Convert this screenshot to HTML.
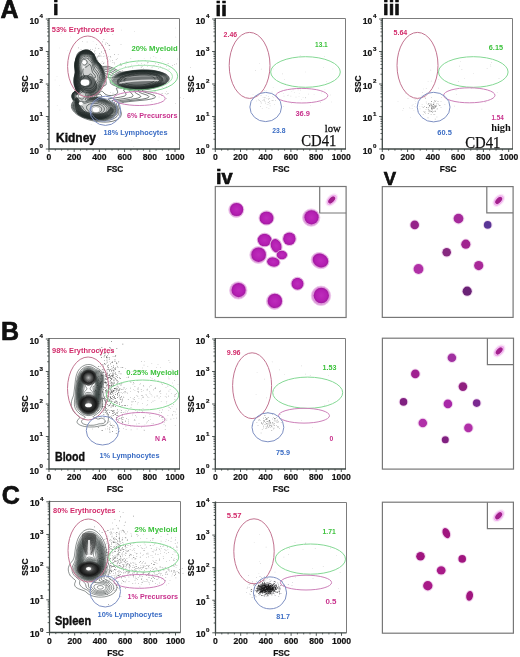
<!DOCTYPE html>
<html><head><meta charset="utf-8"><style>
html,body{margin:0;padding:0;background:#fff;}
svg{display:block;}
</style></head><body>
<svg width="520" height="657" viewBox="0 0 520 657">
<defs><radialGradient id="gIV" cx="0.5" cy="0.5" r="0.5"><stop offset="0" stop-color="#be2cbc"/><stop offset="0.7" stop-color="#b41fb2"/><stop offset="1" stop-color="#a01a9e"/></radialGradient>
<filter id="bl1" x="-50%" y="-50%" width="200%" height="200%"><feGaussianBlur stdDeviation="1.2"/></filter>
<radialGradient id="gCore" cx="0.5" cy="0.5" r="0.5"><stop offset="0" stop-color="#bbb" stop-opacity="0.8"/><stop offset="0.35" stop-color="#555" stop-opacity="0.8"/><stop offset="0.65" stop-color="#111" stop-opacity="0.9"/><stop offset="0.85" stop-color="#222" stop-opacity="0.7"/><stop offset="1" stop-color="#333" stop-opacity="0"/></radialGradient>
<radialGradient id="gCore2" cx="0.5" cy="0.5" r="0.5"><stop offset="0" stop-color="#888" stop-opacity="0.8"/><stop offset="0.35" stop-color="#333" stop-opacity="0.85"/><stop offset="0.7" stop-color="#111" stop-opacity="0.92"/><stop offset="0.88" stop-color="#222" stop-opacity="0.6"/><stop offset="1" stop-color="#333" stop-opacity="0"/></radialGradient></defs>
<rect width="520" height="657" fill="#fff"/>
<g style="filter:blur(0.3px)">
<text x="0.40" y="17.90" font-family="'Liberation Sans', sans-serif" font-size="25" font-weight="bold" fill="#111" text-anchor="start" stroke="#000" stroke-width="0.6">A</text>
<text x="1.00" y="339.90" font-family="'Liberation Sans', sans-serif" font-size="25" font-weight="bold" fill="#111" text-anchor="start" stroke="#000" stroke-width="0.6">B</text>
<text x="1.80" y="504.30" font-family="'Liberation Sans', sans-serif" font-size="25" font-weight="bold" fill="#111" text-anchor="start" stroke="#000" stroke-width="0.6">C</text>
<text x="52.90" y="15.20" font-family="'Liberation Sans', sans-serif" font-size="20" font-weight="bold" fill="#111" text-anchor="start" stroke="#000" stroke-width="0.6">i</text>
<text x="215.60" y="15.60" font-family="'Liberation Sans', sans-serif" font-size="20" font-weight="bold" fill="#111" text-anchor="start" stroke="#000" stroke-width="0.6">ii</text>
<text x="383.10" y="15.40" font-family="'Liberation Sans', sans-serif" font-size="20" font-weight="bold" fill="#111" text-anchor="start" stroke="#000" stroke-width="0.6">iii</text>
<text x="215.90" y="184.40" font-family="'Liberation Sans', sans-serif" font-size="20" font-weight="bold" fill="#111" text-anchor="start" stroke="#000" stroke-width="0.6">iv</text>
<text x="383.80" y="184.50" font-family="'Liberation Sans', sans-serif" font-size="18.5" font-weight="bold" fill="#111" text-anchor="start" stroke="#000" stroke-width="0.6">V</text>
<path d="M49.00 18.50 H179.50 V149.00" fill="none" stroke="#7c7c7c" stroke-width="1"/>
<path d="M47.20 139.22H49.00 M47.20 133.49H49.00 M47.20 129.43H49.00 M47.20 126.28H49.00 M47.20 123.71H49.00 M47.20 121.53H49.00 M47.20 119.65H49.00 M47.20 117.99H49.00 M47.20 106.72H49.00 M47.20 100.99H49.00 M47.20 96.93H49.00 M47.20 93.78H49.00 M47.20 91.21H49.00 M47.20 89.03H49.00 M47.20 87.15H49.00 M47.20 85.49H49.00 M47.20 74.22H49.00 M47.20 68.49H49.00 M47.20 64.43H49.00 M47.20 61.28H49.00 M47.20 58.71H49.00 M47.20 56.53H49.00 M47.20 54.65H49.00 M47.20 52.99H49.00 M47.20 41.72H49.00 M47.20 35.99H49.00 M47.20 31.93H49.00 M47.20 28.78H49.00 M47.20 26.21H49.00 M47.20 24.03H49.00 M47.20 22.15H49.00 M47.20 20.49H49.00 M45.80 149.00H49.00 M45.80 116.50H49.00 M45.80 84.00H49.00 M45.80 51.50H49.00 M45.80 19.00H49.00 M49.00 149.00V152.00 M55.30 149.00V150.60 M61.60 149.00V150.60 M67.90 149.00V150.60 M74.20 149.00V152.00 M80.50 149.00V150.60 M86.80 149.00V150.60 M93.10 149.00V150.60 M99.40 149.00V152.00 M105.70 149.00V150.60 M112.00 149.00V150.60 M118.30 149.00V150.60 M124.60 149.00V152.00 M130.90 149.00V150.60 M137.20 149.00V150.60 M143.50 149.00V150.60 M149.80 149.00V152.00 M156.10 149.00V150.60 M162.40 149.00V150.60 M168.70 149.00V150.60 M175.00 149.00V152.00" stroke="#3f4846" stroke-width="0.9" fill="none"/>
<path d="M49.00 18.00 V149.00 H180.00" fill="none" stroke="#3f4846" stroke-width="1.3"/>
<text x="39.10" y="153.60" font-family="'Liberation Sans', sans-serif" font-size="8.6" font-weight="bold" fill="#111" text-anchor="end" stroke="#111" stroke-width="0.2">10</text>
<text x="39.60" y="148.20" font-family="'Liberation Sans', sans-serif" font-size="6.2" font-weight="bold" fill="#111" text-anchor="start" stroke="#111" stroke-width="0.2">0</text>
<text x="39.10" y="121.10" font-family="'Liberation Sans', sans-serif" font-size="8.6" font-weight="bold" fill="#111" text-anchor="end" stroke="#111" stroke-width="0.2">10</text>
<text x="39.60" y="115.70" font-family="'Liberation Sans', sans-serif" font-size="6.2" font-weight="bold" fill="#111" text-anchor="start" stroke="#111" stroke-width="0.2">1</text>
<text x="39.10" y="88.60" font-family="'Liberation Sans', sans-serif" font-size="8.6" font-weight="bold" fill="#111" text-anchor="end" stroke="#111" stroke-width="0.2">10</text>
<text x="39.60" y="83.20" font-family="'Liberation Sans', sans-serif" font-size="6.2" font-weight="bold" fill="#111" text-anchor="start" stroke="#111" stroke-width="0.2">2</text>
<text x="39.10" y="56.10" font-family="'Liberation Sans', sans-serif" font-size="8.6" font-weight="bold" fill="#111" text-anchor="end" stroke="#111" stroke-width="0.2">10</text>
<text x="39.60" y="50.70" font-family="'Liberation Sans', sans-serif" font-size="6.2" font-weight="bold" fill="#111" text-anchor="start" stroke="#111" stroke-width="0.2">3</text>
<text x="39.10" y="23.60" font-family="'Liberation Sans', sans-serif" font-size="8.6" font-weight="bold" fill="#111" text-anchor="end" stroke="#111" stroke-width="0.2">10</text>
<text x="39.60" y="18.20" font-family="'Liberation Sans', sans-serif" font-size="6.2" font-weight="bold" fill="#111" text-anchor="start" stroke="#111" stroke-width="0.2">4</text>
<text x="49.00" y="160.40" font-family="'Liberation Sans', sans-serif" font-size="8.6" font-weight="bold" fill="#111" text-anchor="middle" stroke="#111" stroke-width="0.2">0</text>
<text x="74.20" y="160.40" font-family="'Liberation Sans', sans-serif" font-size="8.6" font-weight="bold" fill="#111" text-anchor="middle" stroke="#111" stroke-width="0.2">200</text>
<text x="99.40" y="160.40" font-family="'Liberation Sans', sans-serif" font-size="8.6" font-weight="bold" fill="#111" text-anchor="middle" stroke="#111" stroke-width="0.2">400</text>
<text x="124.60" y="160.40" font-family="'Liberation Sans', sans-serif" font-size="8.6" font-weight="bold" fill="#111" text-anchor="middle" stroke="#111" stroke-width="0.2">600</text>
<text x="149.80" y="160.40" font-family="'Liberation Sans', sans-serif" font-size="8.6" font-weight="bold" fill="#111" text-anchor="middle" stroke="#111" stroke-width="0.2">800</text>
<text x="175.00" y="160.40" font-family="'Liberation Sans', sans-serif" font-size="8.6" font-weight="bold" fill="#111" text-anchor="middle" stroke="#111" stroke-width="0.2">1000</text>
<text x="115.00" y="172.00" font-family="'Liberation Sans', sans-serif" font-size="8.4" font-weight="bold" fill="#111" text-anchor="middle" stroke="#111" stroke-width="0.2">FSC</text>
<text transform="translate(27.70,84.00) rotate(-90)" font-family="'Liberation Sans', sans-serif" font-size="8.4" font-weight="bold" fill="#111" text-anchor="middle" stroke="#111" stroke-width="0.2">SSC</text>
<path d="M92.8 40.9h0.6v0.6h-0.6zM134.0 31.1h0.6v0.6h-0.6zM119.5 67.7h0.6v0.6h-0.6zM59.3 85.4h0.6v0.6h-0.6zM56.7 76.2h0.6v0.6h-0.6zM60.8 33.3h0.6v0.6h-0.6zM105.5 125.4h0.6v0.6h-0.6zM67.6 49.9h0.6v0.6h-0.6zM131.1 140.5h0.6v0.6h-0.6zM124.7 71.6h0.6v0.6h-0.6zM175.0 27.8h0.6v0.6h-0.6zM160.2 58.2h0.6v0.6h-0.6zM70.2 36.7h0.6v0.6h-0.6zM90.9 124.0h0.6v0.6h-0.6zM74.8 94.7h0.6v0.6h-0.6zM132.5 68.5h0.6v0.6h-0.6zM121.0 29.8h0.6v0.6h-0.6zM59.5 47.7h0.6v0.6h-0.6zM137.7 75.4h0.6v0.6h-0.6zM91.6 95.2h0.6v0.6h-0.6zM109.1 59.5h0.6v0.6h-0.6zM152.1 109.4h0.6v0.6h-0.6zM82.8 93.8h0.6v0.6h-0.6zM118.2 131.4h0.6v0.6h-0.6zM143.9 58.0h0.6v0.6h-0.6zM175.5 36.8h0.6v0.6h-0.6zM104.7 116.6h0.6v0.6h-0.6zM71.2 83.1h0.6v0.6h-0.6zM56.9 105.5h0.6v0.6h-0.6zM148.3 93.6h0.6v0.6h-0.6zM162.3 61.2h0.6v0.6h-0.6zM139.6 96.3h0.6v0.6h-0.6zM125.1 79.0h0.6v0.6h-0.6zM157.8 140.1h0.6v0.6h-0.6zM111.7 105.0h0.6v0.6h-0.6zM59.6 109.7h0.6v0.6h-0.6zM133.5 146.1h0.6v0.6h-0.6zM155.6 57.6h0.6v0.6h-0.6zM100.6 105.6h0.6v0.6h-0.6zM54.8 79.7h0.6v0.6h-0.6z" fill="#999" opacity="0.5"/>
<path d="M98.2 55.0h0.6v0.6h-0.6zM110.3 56.3h0.6v0.6h-0.6zM100.7 55.8h0.6v0.6h-0.6zM81.9 61.0h0.6v0.6h-0.6zM104.6 55.7h0.6v0.6h-0.6zM78.2 47.6h0.6v0.6h-0.6zM103.6 39.3h0.6v0.6h-0.6zM94.3 59.1h0.6v0.6h-0.6zM84.2 63.3h0.6v0.6h-0.6zM101.0 50.9h0.6v0.6h-0.6zM98.9 56.5h0.6v0.6h-0.6zM97.1 60.0h0.6v0.6h-0.6zM90.0 49.1h0.6v0.6h-0.6zM105.4 52.2h0.6v0.6h-0.6zM88.1 58.6h0.6v0.6h-0.6zM109.2 48.9h0.6v0.6h-0.6zM83.6 51.1h0.6v0.6h-0.6zM94.7 49.9h0.6v0.6h-0.6zM108.6 44.8h0.6v0.6h-0.6zM107.3 43.1h0.6v0.6h-0.6zM88.9 56.4h0.6v0.6h-0.6zM106.2 58.0h0.6v0.6h-0.6zM99.1 53.0h0.6v0.6h-0.6zM97.4 56.0h0.6v0.6h-0.6zM94.4 53.9h0.6v0.6h-0.6zM101.2 52.0h0.6v0.6h-0.6zM102.9 56.0h0.6v0.6h-0.6zM114.1 54.3h0.6v0.6h-0.6zM92.2 49.4h0.6v0.6h-0.6zM95.9 58.5h0.6v0.6h-0.6zM93.0 54.7h0.6v0.6h-0.6zM112.5 34.0h0.6v0.6h-0.6zM85.9 53.7h0.6v0.6h-0.6zM99.6 53.7h0.6v0.6h-0.6zM92.1 56.6h0.6v0.6h-0.6zM98.5 48.3h0.6v0.6h-0.6zM117.9 54.5h0.6v0.6h-0.6zM91.0 51.3h0.6v0.6h-0.6zM94.0 51.6h0.6v0.6h-0.6zM71.4 48.6h0.6v0.6h-0.6zM105.1 43.8h0.6v0.6h-0.6zM95.4 58.7h0.6v0.6h-0.6zM103.7 62.4h0.6v0.6h-0.6zM80.7 49.5h0.6v0.6h-0.6zM92.9 56.4h0.6v0.6h-0.6zM105.8 33.2h0.6v0.6h-0.6zM105.8 41.9h0.6v0.6h-0.6zM102.1 41.6h0.6v0.6h-0.6zM97.6 60.4h0.6v0.6h-0.6zM94.7 53.3h0.6v0.6h-0.6zM103.2 53.0h0.6v0.6h-0.6zM95.2 62.7h0.6v0.6h-0.6zM105.4 49.9h0.6v0.6h-0.6zM120.7 44.0h0.6v0.6h-0.6zM104.2 50.1h0.6v0.6h-0.6zM97.2 56.9h0.6v0.6h-0.6zM98.0 56.5h0.6v0.6h-0.6zM82.3 41.4h0.6v0.6h-0.6zM101.5 45.3h0.6v0.6h-0.6zM86.8 41.7h0.6v0.6h-0.6zM107.4 57.2h0.6v0.6h-0.6zM109.3 45.4h0.6v0.6h-0.6zM96.0 44.0h0.6v0.6h-0.6zM102.9 63.1h0.6v0.6h-0.6zM88.0 62.9h0.6v0.6h-0.6zM104.9 50.8h0.6v0.6h-0.6zM78.3 61.8h0.6v0.6h-0.6zM95.1 47.8h0.6v0.6h-0.6zM99.6 54.9h0.6v0.6h-0.6zM109.5 44.9h0.6v0.6h-0.6z" fill="#444" opacity="0.7"/>
<path d="M162.5 68.5h0.6v0.6h-0.6zM168.1 63.5h0.6v0.6h-0.6zM128.6 67.1h0.6v0.6h-0.6zM144.1 64.4h0.6v0.6h-0.6zM167.6 63.2h0.6v0.6h-0.6zM100.7 62.8h0.6v0.6h-0.6zM108.6 66.5h0.6v0.6h-0.6zM147.7 62.2h0.6v0.6h-0.6zM141.8 66.5h0.6v0.6h-0.6zM143.4 68.0h0.6v0.6h-0.6zM140.9 67.1h0.6v0.6h-0.6zM168.8 68.8h0.6v0.6h-0.6zM129.9 66.6h0.6v0.6h-0.6zM108.2 60.7h0.6v0.6h-0.6zM106.7 67.2h0.6v0.6h-0.6zM119.8 64.0h0.6v0.6h-0.6zM138.5 63.9h0.6v0.6h-0.6zM131.4 64.7h0.6v0.6h-0.6zM174.2 64.1h0.6v0.6h-0.6zM151.6 67.0h0.6v0.6h-0.6zM138.4 60.2h0.6v0.6h-0.6zM132.0 67.2h0.6v0.6h-0.6zM112.4 62.2h0.6v0.6h-0.6zM160.1 66.4h0.6v0.6h-0.6zM142.1 66.4h0.6v0.6h-0.6zM145.0 60.5h0.6v0.6h-0.6zM113.8 62.1h0.6v0.6h-0.6zM158.6 62.3h0.6v0.6h-0.6zM125.8 61.7h0.6v0.6h-0.6zM114.4 63.6h0.6v0.6h-0.6zM120.8 65.1h0.6v0.6h-0.6zM99.5 65.0h0.6v0.6h-0.6zM130.5 58.2h0.6v0.6h-0.6zM155.0 63.2h0.6v0.6h-0.6zM101.9 61.4h0.6v0.6h-0.6zM147.2 62.6h0.6v0.6h-0.6zM156.0 66.2h0.6v0.6h-0.6zM154.0 65.0h0.6v0.6h-0.6zM166.0 66.0h0.6v0.6h-0.6zM150.1 57.7h0.6v0.6h-0.6zM158.1 67.9h0.6v0.6h-0.6zM136.7 62.6h0.6v0.6h-0.6zM176.9 58.7h0.6v0.6h-0.6zM150.4 71.3h0.6v0.6h-0.6zM125.3 66.1h0.6v0.6h-0.6zM176.0 63.6h0.6v0.6h-0.6zM152.1 66.7h0.6v0.6h-0.6zM125.7 63.7h0.6v0.6h-0.6zM147.3 66.5h0.6v0.6h-0.6zM141.4 63.4h0.6v0.6h-0.6zM123.7 62.9h0.6v0.6h-0.6zM158.1 64.3h0.6v0.6h-0.6zM126.6 61.5h0.6v0.6h-0.6zM190.0 67.4h0.6v0.6h-0.6zM153.5 56.2h0.6v0.6h-0.6zM153.2 65.4h0.6v0.6h-0.6zM172.3 65.3h0.6v0.6h-0.6zM140.8 65.6h0.6v0.6h-0.6zM107.0 67.1h0.6v0.6h-0.6zM147.8 61.9h0.6v0.6h-0.6z" fill="#555" opacity="0.6"/>
<path d="M175.3 102.9h0.6v0.6h-0.6zM148.0 88.0h0.6v0.6h-0.6zM164.9 93.1h0.6v0.6h-0.6zM158.0 86.2h0.6v0.6h-0.6zM183.2 98.2h0.6v0.6h-0.6zM150.1 83.9h0.6v0.6h-0.6zM179.0 97.9h0.6v0.6h-0.6zM180.2 96.9h0.6v0.6h-0.6zM153.3 93.6h0.6v0.6h-0.6zM140.4 87.5h0.6v0.6h-0.6zM161.4 95.1h0.6v0.6h-0.6zM154.7 91.3h0.6v0.6h-0.6zM166.6 94.3h0.6v0.6h-0.6zM168.4 93.3h0.6v0.6h-0.6zM158.8 96.7h0.6v0.6h-0.6zM162.5 87.0h0.6v0.6h-0.6zM155.7 92.0h0.6v0.6h-0.6zM160.9 92.9h0.6v0.6h-0.6zM162.0 93.1h0.6v0.6h-0.6zM160.7 84.4h0.6v0.6h-0.6zM166.2 98.3h0.6v0.6h-0.6zM166.3 90.9h0.6v0.6h-0.6zM166.5 86.2h0.6v0.6h-0.6zM143.0 92.4h0.6v0.6h-0.6zM152.7 96.4h0.6v0.6h-0.6zM151.2 76.2h0.6v0.6h-0.6zM151.6 101.5h0.6v0.6h-0.6zM158.2 83.8h0.6v0.6h-0.6zM154.4 95.1h0.6v0.6h-0.6zM167.0 93.1h0.6v0.6h-0.6z" fill="#666" opacity="0.6"/>
<path d="M123.9 77.7h0.6v0.6h-0.6zM111.8 76.8h0.6v0.6h-0.6zM125.2 79.8h0.6v0.6h-0.6zM120.2 63.3h0.6v0.6h-0.6zM110.8 77.8h0.6v0.6h-0.6zM109.6 80.6h0.6v0.6h-0.6zM116.8 79.3h0.6v0.6h-0.6zM110.3 92.4h0.6v0.6h-0.6zM121.9 70.3h0.6v0.6h-0.6zM112.7 92.8h0.6v0.6h-0.6zM109.3 79.0h0.6v0.6h-0.6zM119.8 72.1h0.6v0.6h-0.6zM102.7 73.5h0.6v0.6h-0.6zM114.9 81.0h0.6v0.6h-0.6zM118.3 72.2h0.6v0.6h-0.6zM118.8 76.3h0.6v0.6h-0.6zM113.6 72.4h0.6v0.6h-0.6zM110.1 77.5h0.6v0.6h-0.6zM103.6 67.0h0.6v0.6h-0.6zM112.0 60.3h0.6v0.6h-0.6zM108.5 55.9h0.6v0.6h-0.6zM106.5 76.5h0.6v0.6h-0.6zM116.5 71.6h0.6v0.6h-0.6zM110.1 60.7h0.6v0.6h-0.6zM126.6 76.1h0.6v0.6h-0.6zM120.7 64.9h0.6v0.6h-0.6zM110.5 57.4h0.6v0.6h-0.6zM118.2 79.5h0.6v0.6h-0.6zM96.8 71.6h0.6v0.6h-0.6zM117.0 57.9h0.6v0.6h-0.6zM97.4 63.5h0.6v0.6h-0.6zM107.0 60.8h0.6v0.6h-0.6zM112.3 74.0h0.6v0.6h-0.6zM117.1 77.6h0.6v0.6h-0.6zM124.0 81.3h0.6v0.6h-0.6zM101.5 68.0h0.6v0.6h-0.6zM103.5 63.4h0.6v0.6h-0.6zM111.3 72.0h0.6v0.6h-0.6zM115.9 59.3h0.6v0.6h-0.6zM102.1 71.8h0.6v0.6h-0.6z" fill="#444" opacity="0.6"/>
<path d="M84.6 62.9l-.7-.1 -.4-.4 .1-.8 .5-.4 .8 .1 .3 .6 -.1 .6 -.5 .4z M86.6 85.2l-1.2 .1 -1.3-.2 -1-.6 -.7-.9 -.3-1 .1-1 .5-1 .9-.7 1.3-.4 1.2 .1 1.3 .5 1 1 .4 1.3 -.2 1 -.7 1.1 -1.3 .7z M97.1 111.7l-1 .1 -1-.1 -1-.3 -.7-.5 -.5-.5 -.2-.8 .1-.7 .3-.5 .6-.5 .7-.4 1.5-.3 1.5 .2 1.2 .7 .6 1 0 1 -.3 .5 -.5 .5 -1.3 .6z M84.9 64.9l-1 0 -1-.6 -.6-.7 -.3-1 .1-1 .5-1 .8-.7 1-.3 1 .2 .7 .4 .8 .9 .3 1 -.1 1 -.5 .8 -.7 .6 -1 .4z M86.9 86.9l-1.3 0 -1.2-.3 -1-.4 -1-.7 -.8-.9 -.5-1 -.2-1 0-1 .3-1 .5-1 .7-.8 1.8-1.7 .3-.5 -.2-.7 -1.1-2 -.4-1.5 0-1.8 .4-1.5 .4-.7 .5-.5 .8-.4 2.2-.9 1.8-1.9 .7-.2 .8 .4 .6 1.2 1.1 4.8 .3 1.2 .5 .8 2 2.2 .4 1 .2 1 -.2 .5 -.4 .3 -.5 0 -.5-.3 -1-1 -1.3-2.1 -.5-.4 -.5-.1 -.5 0 -.5 .2 -1.4 1.4 -.6 .8 0 .5 .4 .5 2 1.7 .8 1 .5 1.3 .1 1.5 -.5 1.5 -1 1.2 -1.5 .9 -1.5 .4z M97.9 112.9l-1.8 .2 -1.7-.2 -1.7-.5 -1.2-.8 -.9-1 -.4-1 .1-1.2 .6-1 .8-.8 1.2-.6 1.2-.4 1.3-.2 1.5 .1 1.2 .2 1.3 .5 1 .7 .7 .7 .5 1 .1 1 -.2 .8 -.6 1 -.8 .6 -1 .5 -1.2 .4z M88.6 88.9l-1.5-.1 -1.5-.3 -1.5-.6 -1.5-.9 -1-.9 -.8-1 -.6-1.2 -.3-1.3 0-1 .3-1.2 1.3-3 .3-1.3 -.6-5.2 -.4-4.3 -.2-2.7 .2-1.8 .5-1.5 .8-1.2 1.3-.9 1.5-.5 1.5 0 1.5 .6 1.5 1.3 1.7 2.1 .8 1.3 .5 1.3 .8 3.8 .4 1.5 .6 1 1.9 2.2 .9 1.3 .7 1.5 .3 1.2 0 1.3 -.3 1.2 -.6 .8 -1.6 1.7 -1.1 2.9 -.9 1.4 -1 1 -1.2 .7 -1.2 .5 -1.5 .3z M139.6 85.1l-3.5 .1 -3-.2 -2.7-.4 -2.5-.6 -2.1-.9 -1.2-.9 -.4-.6 -.2-.5 .1-1 .5-.9 1-.8 1.8-1 1.9-.8 2.6-.7 2.5-.5 4.9-.5 5.3 0 2.3 .2 2.6 .5 1.8 .5 1.7 .8 1.1 .7 .7 1 .1 .5 0 .6 -.7 1.2 -1.2 1 -2 1 -2.1 .7 -3 .8 -3.2 .5 -3.1 .2z M98.6 113.9l-2.2 .2 -2.5-.3 -2.3-.7 -1.9-1 -1.7-1.5 -1.2-1.7 -.3-1.5 .1-.8 .4-.7 1-1 1.5-.8 1.9-.5 2.5-.3 2.2 .1 2.3 .4 2 .7 1.5 .9 1.5 1.2 .8 1.3 .2 1.2 -.2 1.3 -.8 1.2 -1.3 1 -1.6 .8 -1.9 .5z M81.6 104.3l-.6-.2 -.2-.2 .1-.3 .5-.2 .4 .2 .1 .4 -.3 .3z M89.9 90.6l-1.8 .1 -1.7-.3 -1.5-.6 -1.8-1.1 -1.5-1.3 -1.2-1.5 -.8-1.5 -.4-1.5 -.1-1 .1-1.3 1.2-3.7 .2-1.5 -.1-2.5 -1.1-6.8 0-2 .3-2 .9-2.2 1.3-1.8 .7-.7 1-.6 1.8-.6 1.5 .1 1.2 .5 1.3 .9 1.2 1.5 1.3 2 1.1 2.2 1.8 5.2 .6 .9 1.9 2.1 .9 1.3 .8 1.7 .5 2 .1 1.8 -.4 1.5 -.6 1.1 -1.5 2.1 -1.1 2.8 -.8 1.2 -1.1 1.4 -1.2 1 -1.5 .7 -1.5 .4z M140.6 86.1l-4 .2 -3.7-.2 -3.8-.4 -3-.7 -2.5-.9 -1.9-1.2 -.4-.5 -.5-.8 -.1-.5 .1-.7 .7-1.3 1.1-1 1.7-1 2.3-1 2.4-.7 3.3-.8 3.3-.5 3-.2 3.5-.2 3.3 .1 2.9 .3 2.9 .5 2.6 .8 1.8 .7 1.5 1 .8 1 .2 .5 0 .8 -.5 1.2 -1.3 1.3 -2.1 1.2 -2.6 1 -3.6 1 -3.6 .7 -3.8 .3z M97.1 114.9l-2.7-.2 -2.8-.6 -2.4-1 -2.7-1.5 -1.2-1 -1-1 -.7-1 -1.1-2 -1.9-1.1 -.7-.6 -.4-1 .1-.5 .2-.5 .8-.6 1-.1 .8 .2 1.7 .8 .8 .1 3-.9 2-.5 2.5-.2 2.5 .1 2.7 .4 2.5 .7 2.3 .9 1.8 1.1 1.6 1.5 .6 .7 .5 1 .2 1 -.1 .8 -.2 .7 -.5 .8 -1.4 1.3 -2.3 1.2 -2.7 .7 -2.8 .3z M82.4 99.1l-1 0 -1.6-.7 -1.2-1.1 -.3-.7 -.1-.5 .2-1 .8-1 1.6-1.2 2.1-1.3 .3-.2 .2-.5 -.6-1 -1.9-2.1 -1.2-1.7 -.7-1.5 -.5-1.5 -.1-1.2 .2-1.5 1-4 .2-1.8 -.2-2.5 -.9-5.2 -.1-3 .3-1.8 .6-1.7 .7-1.5 1.1-1.5 1.1-1 1.3-.8 1.4-.4 1.3-.1 1.5 .4 1.2 .7 1 .9 1.2 1.5 4.1 7.8 2.7 3.1 1.5 2.4 .6 1.5 .4 1.5 .2 1.5 0 1.5 -.2 1.5 -.5 1.2 -1.9 3 -1.6 3.5 -1.2 1.8 -1.7 1.5 -1.8 1 -1.5 .4 -3 .4 -.8 .2 -.4 .5 -.8 2.6 -1.3 2.1 -.8 1 -.9 .5z M137.4 86.9l-4-.1 -3.8-.3 -3.3-.6 -2.9-.9 -2-.9 -1.7-1.2 -.8-1.3 -.1-.7 .2-.8 .8-1.2 1.6-1.3 2-1.1 2.5-1 3-.8 3.2-.7 3.5-.5 3.8-.3 3.7-.1 3.5 .2 3.3 .4 3 .5 2.5 .8 2 .9 1.4 1 1 1.2 .2 .8 -.1 .7 -.3 .8 -.6 .7 -1.9 1.5 -3 1.5 -3.5 1.1 -4.2 .9 -4.5 .6 -4.5 .2z M99.9 115.4l-3.8 .1 -3.7-.5 -3.6-1.1 -3.4-1.8 -1.5-1 -1.3-1.2 -1.8-2.8 -1.5-1.7 -.4-.8 -.1-.7 .2-.8 .2-.5 .9-.9 1.3-.5 .7 0 1.5 .5 1 .2 5-1 4-.1 3 .3 3 .6 2.8 1 2.3 1.2 2.3 1.7 1.3 1.8 .4 1 .1 .7 0 1 -.2 .8 -.4 .7 -.7 .8 -.9 .7 -1 .6 -2.5 1 -3.2 .7z M98.1 116.1l-2.2 0 -2-.2 -2-.4 -2.3-.6 -2.2-.9 -1.9-.9 -1.7-1 -1.4-1.1 -1.1-1.1 -.7-1 -1.9-3.3 -.4-1 0-.7 .1-.8 1.2-2 .1-.5 -.1-.2 -.4-.5 -2.2-1.8 -.5-.7 -.3-.8 0-1.2 .7-1.3 1.1-1 3-1.7 .5-.5 .2-.5 -.3-.8 -1.6-2.2 -.9-1.5 -.6-1.5 -.4-1.5 0-1.3 .1-1.5 1-4.2 .2-1.8 -.2-2.2 -1-5.5 0-2 .3-2 .8-2.8 .7-1.2 .9-1.3 .9-1 1-.7 1-.6 1.3-.4 1.7-.1 1.5 .4 1.5 .9 1.5 1.5 .9 1.5 2.9 5.4 1 1.3 2.5 2.8 1.5 2.3 .8 1.7 .6 1.8 .4 1.7 .1 1.5 -.1 1.8 -.5 1.5 -2.1 3.5 -1.5 3.2 -1 1.6 -1.5 1.7 -2 1.4 -1.7 .8 -2.8 .5 -.9 .5 -.5 .8 -1.2 3.2 -.5 1.5 -.1 .8 .2 .2 .3 .2 .7 .1 5-.3 3.8 .1 3.2 .6 3.3 .9 3 1.4 2.5 1.6 1.7 1.9 .6 1 .4 1 0 1.5 -.3 1.3 -.9 1.2 -1.5 1.2 -1.8 .9 -2.2 .8 -2.5 .4 -2.8 .2z M141.4 87.1l-4.8 .2 -4.7-.1 -4.3-.5 -3.7-.8 -3-1.1 -1.2-.7 -1-.7 -.7-.8 -.4-.7 -.1-.8 .1-.7 .6-1.3 1.4-1.2 2.1-1.3 2.7-1.1 3.2-1 3.5-.8 4-.6 3.8-.3 4-.1 3.7 .1 3.5 .4 3.3 .6 2.7 .7 2.3 1 1.6 1.1 1 1.3 .3 .7 0 .8 -.3 .7 -.4 .8 -1.7 1.5 -2.2 1.2 -3.1 1.3 -3.7 1 -4.3 .8 -4.2 .4z M98.6 116.6l-2.5 0 -2.2-.2 -2.3-.5 -2.2-.6 -2.3-.8 -2.2-1 -1.8-1.1 -1.4-1 -1-1 -1-1.3 -.8-1.5 -.9-2.2 -.2-1 0-.8 .2-.7 .7-1.5 0-.8 -.4-.5 -2.1-1.7 -.6-.9 -.3-.9 0-.7 .1-.8 .7-1.2 1-1 3-1.8 .4-.5 .2-.5 -.3-.7 -1.3-2 -.8-1.5 -.6-1.5 -.3-1.8 .1-2.7 .9-4.3 .2-1.7 -.1-2 -1-5.5 0-2.3 .3-2 .4-1.5 .6-1.5 .7-1.2 .9-1.2 1-1.1 1-.8 1-.5 1.2-.5 1.8-.1 1.7 .3 1.8 1.1 1.3 1.3 1 1.5 2.7 5.1 1 1.3 2.7 3 1.7 2.6 .9 1.7 .7 1.8 .4 1.7 .3 1.8 -.1 2 -.5 1.7 -.7 1.3 -1.7 2.5 -1.3 3 -1 1.7 -1.6 1.8 -1.8 1.4 -2 .9 -2.8 .7 -.7 .5 -.5 .7 -.7 1.8 -.3 1.2 0 .8 .4 .5 .8 .2 5-.1 4 .4 3 .7 3 .9 3 1.5 2.5 1.8 1.6 1.8 .6 1 .3 1 .1 1.5 -.4 1.5 -.9 1.3 -1.5 1.3 -2 1 -2.3 .7 -2.7 .5 -2.8 .2z M139.1 87.6l-4.5 .1 -4.5-.3 -4.2-.6 -3.5-.8 -3-1.2 -2-1.4 -.6-.8 -.4-.7 -.1-.8 .1-.7 .4-.8 .5-.7 1.5-1.3 2.1-1.2 2.7-1.2 3.3-1 3.5-.7 4.2-.7 4.3-.4 4.2-.1 4 .2 3.5 .3 3.5 .7 3 .8 2.4 1.1 1.7 1.2 .9 1.3 .2 .7 0 .8 -.3 1 -.6 .7 -1.8 1.6 -3 1.5 -3.5 1.3 -4.2 1 -4.8 .7 -5 .4z M101.6 116.9l-2.5 .2 -2.7-.1 -2.8-.2 -2.5-.5 -2.7-.8 -2.5-1 -2.3-1.1 -1.9-1.3 -2.2-2 -1.2-2 -.8-2.2 -.2-1.5 .2-1.3 .6-1.5 0-.7 -.4-.5 -2.1-1.9 -.6-.9 -.2-.7 -.1-1.5 .3-.8 .4-.7 1.2-1.2 2.8-1.8 .5-.8 -.2-.7 -1.2-2 -.8-1.8 -.5-1.5 -.3-1.7 .1-2.8 1-4.5 .2-1.5 -.1-1.7 -.8-4 -.2-1.8 .1-2.2 .3-2 1-3 1.5-2.5 1.1-1.2 1-.8 1-.6 1.3-.5 2-.2 1.7 .4 1.8 .9 1.5 1.5 1.1 1.7 1.6 3.3 1 1.7 3.6 4 2 3 1 2 .8 2 .4 1.8 .3 1.7 -.1 2.3 -.6 1.7 -.5 1 -1.7 2.5 -1.5 3.3 -1.1 1.7 -1.5 1.8 -1.8 1.4 -1.8 .8 -3 .9 -.7 .5 -.5 .6 -.5 1.2 -.2 .8 0 .8 .4 .4 .8 .2 4.7 .1 4.3 .5 3 .7 3 1 3 1.5 2.4 1.8 1.8 2 .5 1 .4 1 .1 1.5 -.3 1.5 -.8 1.3 -1.1 1.1 -1.5 1 -2 .8 -2.3 .7 -2.5 .4z M140.1 87.9l-5 .1 -5-.2 -4.2-.6 -4-.9 -3.3-1.3 -2.1-1.4 -.6-.7 -.4-.8 -.2-.7 .1-1 .4-.8 .5-.7 1.6-1.3 2.2-1.3 3.3-1.4 3.7-1.1 3.8-.8 4-.5 4.5-.4 4.2-.1 4.3 .2 4 .5 3.2 .6 3 .9 2.3 1.1 1.7 1.2 .9 1.4 .2 .7 0 .8 -.2 .7 -.7 1 -.7 .8 -1.2 .9 -2.8 1.5 -3.5 1.2 -4.5 1.2 -4.7 .7 -4.8 .5z M100.9 117.4l-2.8 .1 -2.7-.1 -2.5-.4 -2.5-.5 -2.5-.7 -2.8-1.1 -2.2-1.2 -2-1.3 -2.2-2.1 -1.2-2 -.5-1.7 -.2-1.8 .2-1.2 .6-1.8 0-.5 -.5-.7 -1.9-1.8 -.5-.7 -.4-1 -.1-1 .1-.8 .7-1.5 1.1-1 2.6-1.7 .5-.8 -.1-.7 -1.1-2 -.8-1.8 -.4-1.5 -.3-1.7 .1-3 1-4.8 .2-1.2 -.2-1.8 -.6-3.5 -.2-2 0-2.2 .4-2.3 1-3 .8-1.5 .9-1.2 1-1.1 1-.8 1.2-.7 1.3-.4 2-.3 2 .5 1.7 .9 1.6 1.6 1 1.5 1.7 3.6 .7 1.3 .9 1.1 3 3.3 2.2 3.2 1 2 .7 2 .5 2 .3 1.8 -.1 2.2 -.5 2 -.6 1 -1.6 2.3 -1.7 3.5 -1.1 1.7 -1.6 1.8 -1.9 1.4 -1.7 .9 -2.8 .8 -.7 .4 -.5 .5 -.4 .7 -.1 .8 0 .5 .5 .5 .5 .1 5.2 .2 4 .6 3 .7 3.3 1.2 3 1.6 2.3 1.8 1.7 2 .5 1 .4 1 .1 1.8 -.4 1.5 -.8 1.2 -1.3 1.3 -1.8 1.1 -2.5 .9 -2.5 .6 -2.7 .4z M140.4 88.1l-5.3 .2 -5.2-.3 -4.5-.5 -4.3-1 -3.2-1.3 -1.3-.7 -1-.8 -.7-.8 -.4-.8 -.2-.7 .2-1 .4-.8 .5-.7 1.8-1.5 2.4-1.4 3.3-1.3 3.5-1 4.2-.9 4-.6 4.5-.3 4.5-.1 4.3 .1 3.7 .4 3.8 .7 3.2 1 2.3 1 1.7 1.2 .7 .7 .4 .7 .3 .8 0 1 -.3 .7 -.6 1 -1 1 -1 .7 -2.7 1.5 -3.8 1.4 -4 1.1 -4.5 .8 -5.7 .5z M102.4 117.6l-4.3 .3 -4.2-.4 -4-.8 -3.8-1.2 -3.7-1.8 -2.7-1.8 -1-1 -1-1.3 -.6-1 -.5-1.2 -.3-1.5 0-1.3 .2-1.2 .6-1.5 0-.6 -.3-.7 -1.4-1.3 -.8-.9 -.6-1 -.2-1.3 .3-1.5 .7-1.2 1.1-1.1 2.5-1.7 .3-.7 -.1-.5 -1.2-2.3 -.6-1.5 -.5-1.7 -.2-1.5 0-1.5 .1-1.8 1-4.5 .2-1.5 -.1-1.5 -.8-5 -.1-1.7 .2-1.8 .3-2 .6-1.7 .8-1.8 1-1.5 1.1-1.3 1.2-1.1 1.3-.7 1.2-.5 2-.3 2 .3 2 1 1.8 1.7 1.1 1.7 1.6 3.6 .8 1.3 3.9 4.3 1.2 1.8 1.1 1.7 .9 2 .8 2 .5 1.8 .4 2 0 2.5 -.5 2 -.7 1.2 -1.6 2.3 -1.7 3.2 -.9 1.5 -1.8 2 -2.1 1.7 -1.8 .9 -2.7 .8 -.6 .4 -.7 .8 -.1 .4 .1 .5 .3 .3 .7 .2 4.8 .2 4.5 .7 3 .8 3 1.1 3 1.7 2.3 1.8 1.7 2 .6 1 .5 1.2 .2 1.5 -.3 1.5 -.8 1.5 -1.2 1.3 -1.8 1.2 -2 .8 -2.5 .8 -2.7 .4z M140.1 88.4l-5.5 .1 -5.2-.2 -4.5-.6 -4.3-1 -3.2-1.1 -1.5-.8 -1-.8 -.9-.9 -.4-.7 -.2-.8 .1-1 .3-.7 .5-.8 1.7-1.5 2.4-1.4 3.5-1.4 4-1.2 3.7-.9 4.5-.7 4.3-.3 4.7-.2 4.8 .2 3.7 .4 4 .7 3.3 .9 2.6 1.2 1.8 1.2 .7 .8 .5 .7 .2 .8 0 1 -.4 1 -.5 .7 -.9 1 -1.1 .8 -2.9 1.6 -3.5 1.3 -4.8 1.2 -5.5 .9 -5 .5z M101.1 118.1l-4 .1 -4.2-.5 -4.3-.9 -3.5-1.3 -3.5-1.7 -2.6-1.9 -1-1 -1-1.3 -.7-1.2 -.4-1 -.2-1.3 .1-1.2 .2-1.3 .7-1.7 0-.5 -.4-.8 -1.3-1.2 -.8-1 -.5-1 -.2-1.3 .2-1.5 .7-1.2 1.2-1.2 2.3-1.6 .3-.7 -.1-.6 -1.7-3.7 -.4-1.5 -.2-1.7 -.1-1.8 .2-1.7 1-4.5 .1-1.5 -.1-1.5 -.7-4.8 -.1-2 .2-1.7 .4-2 .6-1.8 .7-1.5 1.1-1.7 1-1.3 1.3-1.1 1.5-.9 1.5-.6 1.2-.2 1 0 2 .5 1.8 1 1.7 1.7 1.1 1.6 1.7 3.7 .7 1.3 3.8 4.3 2.4 3.5 1 2 1 2.5 .6 2.2 .3 1.8 .1 2.7 -.5 2 -.5 1 -1.9 2.4 -1.7 3.1 -1 1.5 -1.6 1.8 -1.7 1.4 -2.3 1.2 -3 1.1 -.6 .5 -.1 .5 .2 .3 .8 .2 6 .6 3.2 .6 3.3 .9 2.7 1.1 3 1.7 2.3 1.9 1.2 1.2 .7 1 .9 2 .1 1.8 -.4 1.7 -.9 1.5 -1.6 1.5 -2 1.1 -2.5 1 -2.8 .6 -3 .3z M139.6 88.6l-5.5 .2 -5.2-.3 -4.3-.5 -4.5-1 -3.7-1.3 -2.5-1.5 -.9-.8 -.5-.8 -.2-.7 .1-1 .2-.8 .5-.7 1.8-1.6 2.5-1.5 3.5-1.5 4.2-1.3 4.3-1 3.7-.6 5-.4 4.8-.2 4.7 .1 3.8 .4 4.2 .7 3.5 1 3 1.3 1.9 1.3 .7 .8 .4 .7 .2 .8 0 1 -.4 1 -.7 1 -.8 .8 -1.3 .9 -3 1.6 -3.7 1.4 -4.8 1.2 -5.7 .9 -5.3 .4z M102.4 118.4l-4.3 .1 -4.5-.3 -4.5-1 -4.2-1.4 -3.5-1.7 -1.5-1 -1.5-1.2 -1-1 -1-1.3 -.7-1.2 -.3-1 -.2-1.3 0-1.2 .3-1.3 .7-1.7 .1-.5 -.3-.5 -1.6-1.8 -.7-1 -.4-1.2 -.1-1 .3-1.5 .8-1.3 1.1-1 2-1.5 .4-.7 -.2-.8 -.9-2 -.7-1.7 -.4-1.8 -.2-1.5 .1-3.2 1.1-4.8 .1-1.2 0-1.5 -.8-4.8 0-2 .2-2 .3-1.7 .6-1.8 .8-1.7 1.1-1.8 1.2-1.4 1.3-1.1 1.2-.8 1.5-.6 1.3-.2 1 0 1 .1 1.2 .3 2 1.1 1.9 1.9 1.1 1.7 2 4.6 .8 1 3.4 3.7 1.2 1.7 1.5 2.5 1.1 2.3 .9 2.5 .7 2.2 .6 2.5 .4 3.8 -.1 1 -.2 .5 -2.3 1.3 -.7 .7 -2.8 3.7 -2.5 2.5 -2.2 1.6 -3.3 1.7 -.3 .2 .1 .3 .5 .2 1.3 .3 4.7 .6 2.7 .5 3 .9 2.5 1.1 3 1.8 2.5 2.1 1.6 2 .6 1 .5 1.2 .2 1.8 -.3 1.5 -.9 1.7 -1.4 1.4 -2 1.3 -2.3 .9 -2.7 .7 -3 .5z M138.9 88.9l-5.3 .1 -5.2-.3 -4.5-.5 -4.5-.9 -4-1.3 -3.3-1.5 -.9-.6 -.7-.8 -.2-.7 0-.8 .5-1 .5-.7 2-1.8 2.8-1.6 3.5-1.5 4.5-1.5 4.3-1 4.5-.7 4.7-.5 5.3-.2 5 .1 4.7 .5 4 .8 3.5 1 2.8 1.3 1.8 1.3 .6 .8 .4 .7 .3 1 -.1 .8 -.4 1 -.7 1 -1 1 -1.2 .8 -3.5 1.8 -4.2 1.5 -4.5 1 -6 1 -5.5 .4z M100.1 118.9l-4.2-.1 -4-.6 -4-1 -4-1.5 -3.3-1.7 -2.9-2.1 -.9-1 -1-1.3 -.6-1 -.4-1.2 -.2-1.3 .1-1.2 .3-1.3 .8-1.7 0-.5 -.4-.8 -1.5-1.7 -.6-1 -.4-1.3 .1-1.2 .2-1 .8-1.3 1.1-1.1 1.9-1.4 .4-.7 0-.5 -1.6-3.8 -.5-1.7 -.2-1.8 .2-3.5 1-4.7 .1-1.3 0-1.3 -.7-4.4 -.1-2 .2-1.8 .7-3.2 1.3-3 .9-1.5 .9-1.1 1-1 1.3-.9 1.2-.6 1.3-.5 1.2-.2 1.3 .1 1.2 .2 1.3 .5 1 .6 1.2 1 1 1.1 .9 1.3 2.4 5.2 3.4 3.8 1.5 2 2.1 3.5 2.7 5.4 .8 .9 .7 .4 3 .8 1.3 0 1.5-.5 7-2.9 3.2-1 3.3-.8 3.7-.7 3.8-.6 4.7-.4 4.3-.1 4 .1 3.7 .3 3.5 .4 3.5 .8 2.8 .8 2.5 1.1 1.9 1.2 1.1 1.3 .6 1.2 0 .8 -.1 .7 -.8 1.5 -1.5 1.5 -2.2 1.4 -2.8 1.3 -2.7 .9 -3.8 1.1 -3.7 .7 -5 .7 -4 .3 -4.5 .2 -7.8-.2 -4.5-.5 -4.5-.6 -1.7-.1 -.5 .3 0 .3 1.2 3.2 0 1 -.3 .8 -.9 .7 -1.3 .6 -1.7 .5 -2 .3 -2.5 0 -2-.5 -1-.5 -1-.6 -2.5-2.5 -.8-.2 -1 .5 -3.5 2.6 -2.5 1.6 -.6 .5 0 .2 .3 .3 .9 .2 5.4 .8 2.5 .6 2.8 1 2.7 1.5 3 2.3 2.2 2.3 .9 1.3 .5 1.2 .3 1 .1 1.3 -.3 1.7 -.8 1.5 -1.4 1.5 -1.7 1.2 -2.5 1.1 -2.8 .8 -3 .5 -3 .2z M102.4 119.1l-4.5 .1 -4.8-.4 -4.5-1 -4.5-1.6 -3.5-1.7 -3-2.2 -2-2.2 -.8-1.2 -.5-1.3 -.3-1.5 .1-1.2 .4-1.3 .8-1.7 .1-.5 -.2-.5 -1.5-1.8 -.7-1.2 -.3-1.3 0-1.2 .3-1 .7-1.3 .9-1 2-1.5 .5-.7 -.2-.8 -1.5-3.5 -.4-1.7 -.2-1.8 0-1.7 .2-2 1-4.5 .2-1.3 -.1-1.3 -.7-4.7 .1-3.5 .7-3.2 1.3-3 .9-1.5 1-1.2 1-1 1.2-1 2.3-1 1.2-.3 1.3-.1 1.2 .2 1 .2 1.3 .6 1 .7 1.5 1.4 1.1 1.5 .8 1.5 1.3 3.2 .5 1 3.2 3.5 1.4 1.8 4.4 6.8 .5 .4 .5 .3 2 .2 1.5 .4 2.8 1.4 1 .2 1.2-.2 8.8-2.7 7-1.5 6.7-.8 3.8-.2 4 0 4.2 .2 3 .3 3.3 .5 3.2 .8 3 1 2 .9 1.8 1.2 1.1 1.3 .4 1 .1 1.2 -.3 1 -.8 1.3 -1 1 -1.5 1.1 -2 1.1 -2.3 .9 -3 1.1 -3.5 .9 -4 .8 -3.7 .5 -4.8 .4 -4 .2 -10.5 0 -1.7 .2 -.4 .3 0 .2 1.9 2.5 .6 1.5 0 .5 -.2 .5 -.9 .8 -1.8 .6 -2.7 .6 -6.5 1 -4.6 .5 -1 .3 -.1 .2 .3 .5 4.5 4.3 1.3 1.5 1 1.5 .7 1.5 .2 1.2 .1 1.3 -.3 1.2 -.5 1.3 -1 1.2 -1.4 1.2 -1.5 1 -1.7 .7 -2.3 .8 -2.5 .5 -2.7 .3z M102 96.9l.1-.3 0-.2 -.9-1.3 -.7-.7 -.6-.2 -.8 0 -1 .4 -1.7 1 -.5 .5 0 .3 .3 .2 1.2 .3 3.2 .2 1.4-.2z M104.1 119.4l-4.7 .2 -5-.3 -4.5-.8 -4.8-1.5 -4.2-1.9 -3.3-2.2 -1.4-1.3 -1.1-1.2 -.8-1.3 -.5-1.2 -.3-1.5 0-1.5 .4-1.3 .9-1.7 .1-.5 -.3-.8 -1.2-1.5 -.6-1.2 -.4-1.3 .1-1.2 .2-1 .7-1.3 1-1 1.8-1.5 .5-.7 -.1-.6 -.9-2.2 -.7-2 -.3-1.5 -.2-1.7 0-1.8 .2-2 1.2-5.5 0-1.4 -.7-4.6 .1-3.5 .7-3.2 1.2-3 .8-1.3 1.1-1.5 1-1 1.3-1 2.2-1.1 1.3-.4 1.2-.1 1.3 .1 1.2 .3 2 1 1.7 1.5 1.3 1.7 .9 1.8 1.1 2.8 .8 1.4 3.9 4.3 4.1 5.6 .5 .4 .5 .2 2.5 .1 2.2 .5 1.8 .8 2.7 1.7 1 .1 1.5-.2 8.3-2.1 7.2-1.3 7.5-.6 6.3 0 3.2 .2 4 .4 3 .6 3 .7 2.8 1 2 1 1.6 1.1 1 1.3 .5 1 .1 1 -.3 1.2 -.6 1 -1 1 -1.3 1.1 -1.8 1 -2 1 -2.7 1 -2.5 .8 -3.3 .8 -3.7 .7 -6.3 .8 -9.9 .6 -2.2 .2 -.6 .3 -.1 .2 0 .3 3.1 3.5 .6 1 -.1 .7 -.8 .8 -1.5 .5 -2.5 .6 -12 1.7 -2.7 .5 -1.2 .4 -.3 .5 .2 .5 3.1 4 1.3 2.5 .4 1.3 .1 1.2 -.2 1.3 -.3 1 -.7 1.2 -.8 1 -1.1 1 -1.5 .9 -1.8 .8 -2 .7 -2.2 .5 -2.3 .4z M104.4 119.9l-4.8 .2 -5-.4 -5.2-1 -4.8-1.5 -4.2-2 -3.3-2.1 -1.3-1.2 -1.1-1.3 -1-1.5 -.5-1.2 -.3-1.5 0-1.5 .5-1.5 1-1.8 0-.5 -1.9-3.2 -.3-1.3 0-1.2 .3-1 .7-1.3 .9-1 1.8-1.5 .5-.7 0-.5 -1.1-2.5 -.6-1.8 -.4-3.2 0-1.8 .2-2 1.1-4.7 .1-1 -.1-1.4 -.6-4.6 0-1.8 .2-2 .8-3.2 1.3-3 1.7-2.5 2.1-1.9 2.3-1.2 1.2-.4 1.3-.1 2.2 .2 1.3 .4 1 .6 1.7 1.4 1.4 1.7 1 1.8 1.4 3.4 .7 1.3 3.1 3.3 3.9 4.8 1 .5 3 0 2.8 .6 2.7 1.2 3.5 2.2 1 .1 1.5-.1 8.8-1.9 7-1 7-.4 6.2 .1 3.5 .3 3.3 .4 2.7 .5 2.8 .8 2.2 .8 2 1 1.7 1.1 1.1 1.2 .5 1 .2 1.3 -.3 1.2 -.6 1 -.9 1 -1.4 1.1 -1.8 1.1 -2.5 1.2 -4.5 1.5 -5.2 1.3 -6.3 .9 -9 .9 -1.3 .3 -.5 .2 -.1 .3 .3 .5 1.1 1.1 1.5 1 2.9 1.6 1 .8 .2 .5 0 .2 -.3 .5 -.5 .3 -2 .7 -2.7 .5 -4.6 .7 -11.2 1.3 -3.3 .7 -1.5 .6 -.3 .5 .1 .7 2.4 4 .5 1.3 .4 1.2 .1 1.3 -.1 1 -.2 1 -.5 1 -.6 1 -1 1 -1.3 1 -1.5 .8 -1.7 .8 -1.8 .5 -2.2 .5 -2.5 .4z M104.9 120.6l-5 .1 -5.5-.5 -5-1 -5.3-1.7 -4.2-2 -3.3-2.2 -1.5-1.3 -1.1-1.4 -1-1.5 -.5-1.2 -.3-1.8 .1-1.5 .4-1.2 1-1.8 .2-.5 -.1-.5 -1.1-1.7 -.5-1.3 -.2-1.2 .1-1.3 .4-1.2 .6-1 1-1 1.5-1.3 .5-.7 -.1-.5 -1-2.5 -.5-1.8 -.5-3.2 0-2 .2-2 1.3-5.5 -.1-1.5 -.6-4.5 0-1.8 .2-2 .8-3.2 .6-1.8 .8-1.5 1.8-2.5 2.1-1.9 2.3-1.2 2.2-.5 2.3 .2 1 .3 1.2 .5 2 1.5 1.5 1.9 1.2 2 1.3 3.5 .8 1.2 6 6.5 1 .4 3.5-.1 1.7 .3 1.5 .4 3 1.3 4.3 2.6 .9 .4 2 0 8.8-1.7 6-.7 6.5-.4 6.8 .2 6.2 .7 3.5 .7 2.8 .8 2.5 1 1.7 .9 1.5 1.2 .9 1 .5 1 .2 1 -.2 1 -.6 1.3 -.8 1 -1.2 1 -1.5 1 -2 1.1 -4.5 1.7 -4.8 1.3 -5.2 1 -8.1 1.1 -1.8 .5 -.2 .3 .3 .5 2 1.2 2 .9 4.8 1.6 1.5 .8 .5 .5 .1 .5 -.4 .5 -.4 .2 -2.1 .8 -4.2 .8 -20.3 2.3 -2.8 .6 -1.9 .8 -.5 .5 -.1 .5 .1 .5 1.9 4 .4 1.5 .2 1.2 0 1 -.2 1.3 -.4 1 -.5 1 -.8 1 -1.2 1 -1.4 .9 -1.5 .7 -3.5 1 -4.5 .6z M108.9 121.9l-2.8 .2 -2.7 0 -6.3-.5 -5.7-1.1 -3-.8 -3-1 -2.5-1 -2.5-1.2 -2.3-1.3 -1.7-1.2 -1.6-1.4 -1.4-1.5 -1-1.5 -.7-1.5 -.3-1.7 .1-1.8 .5-1.5 1.2-1.7 .1-.5 -.2-.7 -.8-1.6 -.4-1 -.2-1.2 .1-1.3 .5-1.2 .6-1 .9-1 1.5-1.3 .5-.7 0-.5 -1-2.5 -.6-1.8 -.3-1.5 -.1-2 .2-3.7 1.1-4.7 .2-1.1 -.7-6 .1-2.2 .3-2.3 1-3.5 1-2 .9-1.5 1.2-1.4 1.3-1.2 1.5-1 1.5-.7 2.2-.5 2.3 .1 1.7 .6 2 1.3 1.4 1.3 1.2 1.8 1 2 .9 2.5 .8 1.3 4.7 5 .8 .6 .5 .2 4-.2 1.7 .2 1.8 .5 3.2 1.3 6.3 3.3 1.5 .5 2.7-.2 9-1.4 6.5-.5 8.3 0 3.5 .2 3.7 .5 5.5 1.3 4 1.5 1.8 .9 1.2 1 .9 1 .5 1 .3 1 -.1 1 -.4 1 -.6 1 -1 1 -1.1 .8 -3 1.8 -3 1.2 -4 1.3 -5.2 1.3 -7.4 1.3 -1.1 .5 -.1 .3 .6 .5 1.5 .7 7.5 2.4 2.6 1.1 .8 .8 .1 .5 -.2 .5 -.8 .6 -2.8 .9 -4.7 .9 -18.1 1.8 -4.4 .6 -3.1 .7 -1.3 .5 -.9 .5 -.6 .7 0 1 2 4.8 .8 2.7 -.1 1.8 -.6 1.7 -.7 1 -1 1 -1.2 .8 -1.3 .6 -3.5 1.2 -4 .7z" fill="none" stroke="#1a2422" stroke-width="0.6"/>
<g fill="#2a3230" opacity="0.22"><path d="M76 60 C77 53 82 50.5 87 50.5 C92 51 95 54 97 58 C99 63 101.5 68 102.5 74 C103.5 82 102 90 98 94 C94 97 86 97 80 96 C77 94 76 88 76 80Z"/><path d="M76 99 C78 96 86 95.5 95 97 C103 98.5 108 101 110.5 105 C112 109 110 114 104 116.5 C96 118.5 86 117.5 80 114 C77 111 75.5 105 76 99Z"/></g>
<g fill="#18201f" opacity="0.62"><path d="M74.6 74 C74.4 62 75 55 78.5 52 C81 50.2 86 49.6 90 51 C93 52.2 94.5 54 95 55.5 C91 54.6 86 53.6 82 54.5 C79.5 55.3 79 58 79.2 64 C79.4 72 80.5 84 80 90 C79.5 94 77.5 96 75.8 95 C74.8 90 74.8 82 74.6 74Z"/><path d="M79 79 C80 75 86 74 91 76 C95 78 97.5 83 97 88 C96.5 92 92 94 86 93.5 C81.5 93 78.8 89 78.5 85Z"/><path d="M75 99 C75.5 97 77.5 96.5 78.5 98 C79 103 80 107 83 110 C87 113 96 114.5 103 113 C107 112 109.5 110 110.5 107 C112.5 107.5 114 109 113.5 111.5 C112 115.5 107 118.5 100 119.3 C91 120 83 118.5 78.5 115 C75.5 112.5 74.5 106 75 99Z"/><ellipse cx="140" cy="80.5" rx="23.5" ry="7.8" transform="rotate(-3 140 80.5)"/></g>
<g fill="#fff"><ellipse cx="84.2" cy="62.2" rx="2" ry="2.2"/><ellipse cx="84" cy="67.5" rx="1.2" ry="1.4" opacity="0.7"/><ellipse cx="85" cy="82.6" rx="4.4" ry="3.3"/><ellipse cx="80.8" cy="103.6" rx="2" ry="1.8"/><ellipse cx="96" cy="109.6" rx="3.6" ry="2.6"/></g>
<g fill="none" stroke="#fff" stroke-linecap="round"><path d="M120 83 C130 81 146 80 158 80.5" stroke-width="1.6" opacity="0.7"/><path d="M126 77.5 C136 76 148 75.5 156 76.5" stroke-width="0.6" opacity="0.5"/></g>
<ellipse cx="87.80" cy="66.50" rx="20.20" ry="30.50" fill="none" stroke="#c27390" stroke-width="1.0"/>
<ellipse cx="143.10" cy="76.20" rx="34.60" ry="15.40" fill="none" stroke="#84d894" stroke-width="1.0"/>
<ellipse cx="139.20" cy="98.50" rx="26.00" ry="7.00" fill="none" stroke="#cc7fb8" stroke-width="1.0"/>
<ellipse cx="105.40" cy="110.80" rx="15.40" ry="14.60" fill="none" stroke="#7d8fc2" stroke-width="1.0"/>
<ellipse cx="141.50" cy="77.50" rx="31.00" ry="12.20" fill="none" stroke="#84d894" stroke-width="0.7" transform="rotate(-2 141.50 77.50)"/>
<ellipse cx="104.00" cy="110.00" rx="13.00" ry="11.50" fill="none" stroke="#7d8fc2" stroke-width="0.6"/>
<text x="51.80" y="31.50" font-family="'Liberation Sans', sans-serif" font-size="7.7" font-weight="bold" fill="#d22a6a" text-anchor="start" textLength="62.5" lengthAdjust="spacingAndGlyphs" >53% Erythrocytes</text>
<text x="131.50" y="50.60" font-family="'Liberation Sans', sans-serif" font-size="7.7" font-weight="bold" fill="#3cc23c" text-anchor="start" textLength="46.2" lengthAdjust="spacingAndGlyphs" >20% Myeloid</text>
<text x="126.90" y="117.80" font-family="'Liberation Sans', sans-serif" font-size="7.7" font-weight="bold" fill="#c8308c" text-anchor="start" textLength="50.5" lengthAdjust="spacingAndGlyphs" >6% Precursors</text>
<text x="103.50" y="135.10" font-family="'Liberation Sans', sans-serif" font-size="7.7" font-weight="bold" fill="#3a6cc4" text-anchor="start" textLength="64" lengthAdjust="spacingAndGlyphs" >18% Lymphocytes</text>
<text x="56.00" y="141.70" font-family="'Liberation Sans', sans-serif" font-size="12" font-weight="bold" fill="#111" text-anchor="start" textLength="40" lengthAdjust="spacingAndGlyphs" stroke="#000" stroke-width="0.35">Kidney</text>
<path d="M215.30 18.50 H345.50 V149.00" fill="none" stroke="#7c7c7c" stroke-width="1"/>
<path d="M213.50 139.22H215.30 M213.50 133.49H215.30 M213.50 129.43H215.30 M213.50 126.28H215.30 M213.50 123.71H215.30 M213.50 121.53H215.30 M213.50 119.65H215.30 M213.50 117.99H215.30 M213.50 106.72H215.30 M213.50 100.99H215.30 M213.50 96.93H215.30 M213.50 93.78H215.30 M213.50 91.21H215.30 M213.50 89.03H215.30 M213.50 87.15H215.30 M213.50 85.49H215.30 M213.50 74.22H215.30 M213.50 68.49H215.30 M213.50 64.43H215.30 M213.50 61.28H215.30 M213.50 58.71H215.30 M213.50 56.53H215.30 M213.50 54.65H215.30 M213.50 52.99H215.30 M213.50 41.72H215.30 M213.50 35.99H215.30 M213.50 31.93H215.30 M213.50 28.78H215.30 M213.50 26.21H215.30 M213.50 24.03H215.30 M213.50 22.15H215.30 M213.50 20.49H215.30 M212.10 149.00H215.30 M212.10 116.50H215.30 M212.10 84.00H215.30 M212.10 51.50H215.30 M212.10 19.00H215.30 M215.30 149.00V152.00 M221.60 149.00V150.60 M227.90 149.00V150.60 M234.20 149.00V150.60 M240.50 149.00V152.00 M246.80 149.00V150.60 M253.10 149.00V150.60 M259.40 149.00V150.60 M265.70 149.00V152.00 M272.00 149.00V150.60 M278.30 149.00V150.60 M284.60 149.00V150.60 M290.90 149.00V152.00 M297.20 149.00V150.60 M303.50 149.00V150.60 M309.80 149.00V150.60 M316.10 149.00V152.00 M322.40 149.00V150.60 M328.70 149.00V150.60 M335.00 149.00V150.60 M341.30 149.00V152.00" stroke="#3f4846" stroke-width="0.9" fill="none"/>
<path d="M215.30 18.00 V149.00 H346.00" fill="none" stroke="#3f4846" stroke-width="1.3"/>
<text x="205.40" y="153.60" font-family="'Liberation Sans', sans-serif" font-size="8.6" font-weight="bold" fill="#111" text-anchor="end" stroke="#111" stroke-width="0.2">10</text>
<text x="205.90" y="148.20" font-family="'Liberation Sans', sans-serif" font-size="6.2" font-weight="bold" fill="#111" text-anchor="start" stroke="#111" stroke-width="0.2">0</text>
<text x="205.40" y="121.10" font-family="'Liberation Sans', sans-serif" font-size="8.6" font-weight="bold" fill="#111" text-anchor="end" stroke="#111" stroke-width="0.2">10</text>
<text x="205.90" y="115.70" font-family="'Liberation Sans', sans-serif" font-size="6.2" font-weight="bold" fill="#111" text-anchor="start" stroke="#111" stroke-width="0.2">1</text>
<text x="205.40" y="88.60" font-family="'Liberation Sans', sans-serif" font-size="8.6" font-weight="bold" fill="#111" text-anchor="end" stroke="#111" stroke-width="0.2">10</text>
<text x="205.90" y="83.20" font-family="'Liberation Sans', sans-serif" font-size="6.2" font-weight="bold" fill="#111" text-anchor="start" stroke="#111" stroke-width="0.2">2</text>
<text x="205.40" y="56.10" font-family="'Liberation Sans', sans-serif" font-size="8.6" font-weight="bold" fill="#111" text-anchor="end" stroke="#111" stroke-width="0.2">10</text>
<text x="205.90" y="50.70" font-family="'Liberation Sans', sans-serif" font-size="6.2" font-weight="bold" fill="#111" text-anchor="start" stroke="#111" stroke-width="0.2">3</text>
<text x="205.40" y="23.60" font-family="'Liberation Sans', sans-serif" font-size="8.6" font-weight="bold" fill="#111" text-anchor="end" stroke="#111" stroke-width="0.2">10</text>
<text x="205.90" y="18.20" font-family="'Liberation Sans', sans-serif" font-size="6.2" font-weight="bold" fill="#111" text-anchor="start" stroke="#111" stroke-width="0.2">4</text>
<text x="215.30" y="160.40" font-family="'Liberation Sans', sans-serif" font-size="8.6" font-weight="bold" fill="#111" text-anchor="middle" stroke="#111" stroke-width="0.2">0</text>
<text x="240.50" y="160.40" font-family="'Liberation Sans', sans-serif" font-size="8.6" font-weight="bold" fill="#111" text-anchor="middle" stroke="#111" stroke-width="0.2">200</text>
<text x="265.70" y="160.40" font-family="'Liberation Sans', sans-serif" font-size="8.6" font-weight="bold" fill="#111" text-anchor="middle" stroke="#111" stroke-width="0.2">400</text>
<text x="290.90" y="160.40" font-family="'Liberation Sans', sans-serif" font-size="8.6" font-weight="bold" fill="#111" text-anchor="middle" stroke="#111" stroke-width="0.2">600</text>
<text x="316.10" y="160.40" font-family="'Liberation Sans', sans-serif" font-size="8.6" font-weight="bold" fill="#111" text-anchor="middle" stroke="#111" stroke-width="0.2">800</text>
<text x="341.30" y="160.40" font-family="'Liberation Sans', sans-serif" font-size="8.6" font-weight="bold" fill="#111" text-anchor="middle" stroke="#111" stroke-width="0.2">1000</text>
<text x="281.15" y="172.00" font-family="'Liberation Sans', sans-serif" font-size="8.4" font-weight="bold" fill="#111" text-anchor="middle" stroke="#111" stroke-width="0.2">FSC</text>
<text transform="translate(194.00,84.00) rotate(-90)" font-family="'Liberation Sans', sans-serif" font-size="8.4" font-weight="bold" fill="#111" text-anchor="middle" stroke="#111" stroke-width="0.2">SSC</text>
<path d="M263.8 98.9h0.6v0.6h-0.6zM264.6 97.3h0.6v0.6h-0.6zM269.2 101.2h0.6v0.6h-0.6zM264.5 97.6h0.6v0.6h-0.6zM264.0 90.5h0.6v0.6h-0.6zM259.1 100.1h0.6v0.6h-0.6zM256.0 100.7h0.6v0.6h-0.6zM265.9 95.2h0.6v0.6h-0.6zM263.5 98.9h0.6v0.6h-0.6zM267.8 102.1h0.6v0.6h-0.6zM264.8 97.0h0.6v0.6h-0.6zM264.1 99.8h0.6v0.6h-0.6zM269.4 101.0h0.6v0.6h-0.6zM260.7 95.3h0.6v0.6h-0.6zM262.8 97.4h0.6v0.6h-0.6zM258.3 99.6h0.6v0.6h-0.6zM262.1 100.4h0.6v0.6h-0.6zM268.1 98.6h0.6v0.6h-0.6zM278.9 98.9h0.6v0.6h-0.6zM271.6 100.4h0.6v0.6h-0.6zM271.7 91.7h0.6v0.6h-0.6zM260.5 100.9h0.6v0.6h-0.6zM268.6 108.2h0.6v0.6h-0.6zM266.9 104.5h0.6v0.6h-0.6zM269.6 103.3h0.6v0.6h-0.6zM268.1 99.5h0.6v0.6h-0.6zM268.1 96.2h0.6v0.6h-0.6zM272.1 96.4h0.6v0.6h-0.6zM266.5 107.4h0.6v0.6h-0.6zM263.7 100.1h0.6v0.6h-0.6zM272.0 100.1h0.6v0.6h-0.6zM260.2 100.9h0.6v0.6h-0.6zM268.5 102.5h0.6v0.6h-0.6zM260.4 106.1h0.6v0.6h-0.6zM275.0 100.1h0.6v0.6h-0.6zM266.6 98.5h0.6v0.6h-0.6zM273.5 97.5h0.6v0.6h-0.6zM269.0 98.3h0.6v0.6h-0.6zM260.8 102.5h0.6v0.6h-0.6zM273.0 100.0h0.6v0.6h-0.6zM260.9 102.8h0.6v0.6h-0.6zM264.7 101.1h0.6v0.6h-0.6zM274.1 104.0h0.6v0.6h-0.6zM261.9 108.0h0.6v0.6h-0.6zM265.0 102.8h0.6v0.6h-0.6z" fill="#888" opacity="0.65"/>
<path d="M288.3 94.8h0.6v0.6h-0.6zM268.5 103.9h0.6v0.6h-0.6zM324.6 88.9h0.6v0.6h-0.6zM272.9 86.9h0.6v0.6h-0.6zM321.2 92.7h0.6v0.6h-0.6zM298.9 93.4h0.6v0.6h-0.6zM297.8 89.6h0.6v0.6h-0.6zM300.4 87.8h0.6v0.6h-0.6zM298.7 96.5h0.6v0.6h-0.6zM308.4 93.8h0.6v0.6h-0.6zM283.7 95.8h0.6v0.6h-0.6zM291.3 102.8h0.6v0.6h-0.6zM313.8 94.4h0.6v0.6h-0.6zM291.5 91.5h0.6v0.6h-0.6zM283.1 93.2h0.6v0.6h-0.6zM305.3 97.6h0.6v0.6h-0.6zM310.2 105.5h0.6v0.6h-0.6zM287.3 95.1h0.6v0.6h-0.6zM350.3 85.7h0.6v0.6h-0.6zM290.6 95.8h0.6v0.6h-0.6zM302.8 97.0h0.6v0.6h-0.6zM295.7 96.8h0.6v0.6h-0.6zM301.0 98.9h0.6v0.6h-0.6zM265.9 90.6h0.6v0.6h-0.6zM300.0 89.8h0.6v0.6h-0.6z" fill="#aaa" opacity="0.6"/>
<path d="M285.2 83.8h0.6v0.6h-0.6zM282.0 73.6h0.6v0.6h-0.6zM255.3 70.3h0.6v0.6h-0.6zM332.3 61.9h0.6v0.6h-0.6zM292.8 89.6h0.6v0.6h-0.6zM323.3 66.9h0.6v0.6h-0.6zM273.0 68.7h0.6v0.6h-0.6zM284.0 79.5h0.6v0.6h-0.6zM331.1 101.7h0.6v0.6h-0.6zM324.2 56.2h0.6v0.6h-0.6zM252.7 94.0h0.6v0.6h-0.6zM326.1 81.0h0.6v0.6h-0.6zM299.9 55.0h0.6v0.6h-0.6zM283.3 106.0h0.6v0.6h-0.6zM320.2 102.1h0.6v0.6h-0.6zM332.6 68.7h0.6v0.6h-0.6zM259.3 63.5h0.6v0.6h-0.6zM294.4 92.5h0.6v0.6h-0.6zM330.0 94.7h0.6v0.6h-0.6zM305.0 97.1h0.6v0.6h-0.6zM288.9 85.3h0.6v0.6h-0.6zM253.4 98.0h0.6v0.6h-0.6zM269.8 105.6h0.6v0.6h-0.6zM304.9 71.7h0.6v0.6h-0.6zM260.9 68.8h0.6v0.6h-0.6z" fill="#999" opacity="0.6"/>
<ellipse cx="249.60" cy="65.40" rx="20.40" ry="33.00" fill="none" stroke="#c27390" stroke-width="1.0"/>
<ellipse cx="305.50" cy="72.00" rx="34.80" ry="15.30" fill="none" stroke="#84d894" stroke-width="1.0"/>
<ellipse cx="301.80" cy="95.70" rx="26.00" ry="7.30" fill="none" stroke="#cc7fb8" stroke-width="1.0"/>
<ellipse cx="265.70" cy="107.00" rx="15.80" ry="14.60" fill="none" stroke="#7d8fc2" stroke-width="1.0"/>
<path d="M382.30 18.50 H512.50 V149.00" fill="none" stroke="#7c7c7c" stroke-width="1"/>
<path d="M380.50 139.22H382.30 M380.50 133.49H382.30 M380.50 129.43H382.30 M380.50 126.28H382.30 M380.50 123.71H382.30 M380.50 121.53H382.30 M380.50 119.65H382.30 M380.50 117.99H382.30 M380.50 106.72H382.30 M380.50 100.99H382.30 M380.50 96.93H382.30 M380.50 93.78H382.30 M380.50 91.21H382.30 M380.50 89.03H382.30 M380.50 87.15H382.30 M380.50 85.49H382.30 M380.50 74.22H382.30 M380.50 68.49H382.30 M380.50 64.43H382.30 M380.50 61.28H382.30 M380.50 58.71H382.30 M380.50 56.53H382.30 M380.50 54.65H382.30 M380.50 52.99H382.30 M380.50 41.72H382.30 M380.50 35.99H382.30 M380.50 31.93H382.30 M380.50 28.78H382.30 M380.50 26.21H382.30 M380.50 24.03H382.30 M380.50 22.15H382.30 M380.50 20.49H382.30 M379.10 149.00H382.30 M379.10 116.50H382.30 M379.10 84.00H382.30 M379.10 51.50H382.30 M379.10 19.00H382.30 M382.30 149.00V152.00 M388.62 149.00V150.60 M394.94 149.00V150.60 M401.26 149.00V150.60 M407.58 149.00V152.00 M413.90 149.00V150.60 M420.22 149.00V150.60 M426.54 149.00V150.60 M432.86 149.00V152.00 M439.18 149.00V150.60 M445.50 149.00V150.60 M451.82 149.00V150.60 M458.14 149.00V152.00 M464.46 149.00V150.60 M470.78 149.00V150.60 M477.10 149.00V150.60 M483.42 149.00V152.00 M489.74 149.00V150.60 M496.06 149.00V150.60 M502.38 149.00V150.60 M508.70 149.00V152.00" stroke="#3f4846" stroke-width="0.9" fill="none"/>
<path d="M382.30 18.00 V149.00 H513.00" fill="none" stroke="#3f4846" stroke-width="1.3"/>
<text x="372.40" y="153.60" font-family="'Liberation Sans', sans-serif" font-size="8.6" font-weight="bold" fill="#111" text-anchor="end" stroke="#111" stroke-width="0.2">10</text>
<text x="372.90" y="148.20" font-family="'Liberation Sans', sans-serif" font-size="6.2" font-weight="bold" fill="#111" text-anchor="start" stroke="#111" stroke-width="0.2">0</text>
<text x="372.40" y="121.10" font-family="'Liberation Sans', sans-serif" font-size="8.6" font-weight="bold" fill="#111" text-anchor="end" stroke="#111" stroke-width="0.2">10</text>
<text x="372.90" y="115.70" font-family="'Liberation Sans', sans-serif" font-size="6.2" font-weight="bold" fill="#111" text-anchor="start" stroke="#111" stroke-width="0.2">1</text>
<text x="372.40" y="88.60" font-family="'Liberation Sans', sans-serif" font-size="8.6" font-weight="bold" fill="#111" text-anchor="end" stroke="#111" stroke-width="0.2">10</text>
<text x="372.90" y="83.20" font-family="'Liberation Sans', sans-serif" font-size="6.2" font-weight="bold" fill="#111" text-anchor="start" stroke="#111" stroke-width="0.2">2</text>
<text x="372.40" y="56.10" font-family="'Liberation Sans', sans-serif" font-size="8.6" font-weight="bold" fill="#111" text-anchor="end" stroke="#111" stroke-width="0.2">10</text>
<text x="372.90" y="50.70" font-family="'Liberation Sans', sans-serif" font-size="6.2" font-weight="bold" fill="#111" text-anchor="start" stroke="#111" stroke-width="0.2">3</text>
<text x="372.40" y="23.60" font-family="'Liberation Sans', sans-serif" font-size="8.6" font-weight="bold" fill="#111" text-anchor="end" stroke="#111" stroke-width="0.2">10</text>
<text x="372.90" y="18.20" font-family="'Liberation Sans', sans-serif" font-size="6.2" font-weight="bold" fill="#111" text-anchor="start" stroke="#111" stroke-width="0.2">4</text>
<text x="382.30" y="160.40" font-family="'Liberation Sans', sans-serif" font-size="8.6" font-weight="bold" fill="#111" text-anchor="middle" stroke="#111" stroke-width="0.2">0</text>
<text x="407.58" y="160.40" font-family="'Liberation Sans', sans-serif" font-size="8.6" font-weight="bold" fill="#111" text-anchor="middle" stroke="#111" stroke-width="0.2">200</text>
<text x="432.86" y="160.40" font-family="'Liberation Sans', sans-serif" font-size="8.6" font-weight="bold" fill="#111" text-anchor="middle" stroke="#111" stroke-width="0.2">400</text>
<text x="458.14" y="160.40" font-family="'Liberation Sans', sans-serif" font-size="8.6" font-weight="bold" fill="#111" text-anchor="middle" stroke="#111" stroke-width="0.2">600</text>
<text x="483.42" y="160.40" font-family="'Liberation Sans', sans-serif" font-size="8.6" font-weight="bold" fill="#111" text-anchor="middle" stroke="#111" stroke-width="0.2">800</text>
<text x="508.70" y="160.40" font-family="'Liberation Sans', sans-serif" font-size="8.6" font-weight="bold" fill="#111" text-anchor="middle" stroke="#111" stroke-width="0.2">1000</text>
<text x="448.15" y="172.00" font-family="'Liberation Sans', sans-serif" font-size="8.4" font-weight="bold" fill="#111" text-anchor="middle" stroke="#111" stroke-width="0.2">FSC</text>
<text transform="translate(361.00,84.00) rotate(-90)" font-family="'Liberation Sans', sans-serif" font-size="8.4" font-weight="bold" fill="#111" text-anchor="middle" stroke="#111" stroke-width="0.2">SSC</text>
<path d="M425.9 101.7h0.6v0.6h-0.6zM433.1 108.1h0.6v0.6h-0.6zM424.3 106.1h0.6v0.6h-0.6zM428.5 109.1h0.6v0.6h-0.6zM430.9 106.6h0.6v0.6h-0.6zM429.6 111.7h0.6v0.6h-0.6zM439.1 105.3h0.6v0.6h-0.6zM436.2 103.6h0.6v0.6h-0.6zM431.9 110.4h0.6v0.6h-0.6zM439.8 105.3h0.6v0.6h-0.6zM431.1 107.9h0.6v0.6h-0.6zM423.3 107.1h0.6v0.6h-0.6zM427.8 108.7h0.6v0.6h-0.6zM425.3 98.1h0.6v0.6h-0.6zM431.7 108.2h0.6v0.6h-0.6zM428.5 111.0h0.6v0.6h-0.6zM430.0 104.3h0.6v0.6h-0.6zM434.1 99.9h0.6v0.6h-0.6zM427.8 106.9h0.6v0.6h-0.6zM436.2 106.3h0.6v0.6h-0.6zM433.2 104.1h0.6v0.6h-0.6zM433.2 114.5h0.6v0.6h-0.6zM427.7 117.6h0.6v0.6h-0.6zM428.0 107.1h0.6v0.6h-0.6zM432.5 111.6h0.6v0.6h-0.6zM424.7 97.5h0.6v0.6h-0.6zM434.8 110.6h0.6v0.6h-0.6zM434.9 118.8h0.6v0.6h-0.6zM432.6 108.1h0.6v0.6h-0.6zM436.6 108.7h0.6v0.6h-0.6zM440.7 101.4h0.6v0.6h-0.6zM429.4 91.5h0.6v0.6h-0.6zM436.0 105.3h0.6v0.6h-0.6zM436.6 116.7h0.6v0.6h-0.6zM431.5 105.9h0.6v0.6h-0.6zM428.8 103.2h0.6v0.6h-0.6zM428.0 109.9h0.6v0.6h-0.6zM431.7 107.3h0.6v0.6h-0.6zM430.5 111.1h0.6v0.6h-0.6zM434.2 106.4h0.6v0.6h-0.6zM435.2 106.3h0.6v0.6h-0.6zM425.2 113.5h0.6v0.6h-0.6zM434.1 102.7h0.6v0.6h-0.6zM437.4 108.6h0.6v0.6h-0.6zM422.9 114.2h0.6v0.6h-0.6zM433.3 111.0h0.6v0.6h-0.6zM432.6 106.3h0.6v0.6h-0.6zM423.0 111.4h0.6v0.6h-0.6zM431.7 105.7h0.6v0.6h-0.6zM433.4 107.4h0.6v0.6h-0.6zM435.2 105.3h0.6v0.6h-0.6zM431.3 97.4h0.6v0.6h-0.6zM429.2 110.0h0.6v0.6h-0.6zM438.9 105.4h0.6v0.6h-0.6zM430.8 114.1h0.6v0.6h-0.6zM429.7 110.3h0.6v0.6h-0.6zM440.7 107.2h0.6v0.6h-0.6zM438.2 103.8h0.6v0.6h-0.6zM432.6 106.7h0.6v0.6h-0.6zM432.1 112.1h0.6v0.6h-0.6zM444.6 104.0h0.6v0.6h-0.6zM428.3 109.2h0.6v0.6h-0.6zM425.7 109.2h0.6v0.6h-0.6zM434.6 105.8h0.6v0.6h-0.6zM434.4 100.0h0.6v0.6h-0.6zM435.7 100.0h0.6v0.6h-0.6zM427.7 104.5h0.6v0.6h-0.6zM429.3 110.9h0.6v0.6h-0.6zM431.9 105.2h0.6v0.6h-0.6zM434.5 114.1h0.6v0.6h-0.6z" fill="#666" opacity="0.7"/>
<path d="M431.5 107.5h0.6v0.6h-0.6zM435.0 107.2h0.6v0.6h-0.6zM427.9 113.5h0.6v0.6h-0.6zM437.7 100.9h0.6v0.6h-0.6zM431.4 107.7h0.6v0.6h-0.6zM434.2 108.4h0.6v0.6h-0.6zM430.7 103.5h0.6v0.6h-0.6zM431.8 109.4h0.6v0.6h-0.6zM428.4 103.6h0.6v0.6h-0.6zM431.4 101.1h0.6v0.6h-0.6zM430.8 105.3h0.6v0.6h-0.6zM432.8 104.5h0.6v0.6h-0.6zM429.0 105.4h0.6v0.6h-0.6zM431.4 104.6h0.6v0.6h-0.6zM431.5 108.6h0.6v0.6h-0.6zM434.8 111.3h0.6v0.6h-0.6zM429.3 105.3h0.6v0.6h-0.6zM424.5 111.8h0.6v0.6h-0.6zM429.5 106.4h0.6v0.6h-0.6zM433.0 102.7h0.6v0.6h-0.6zM432.8 106.4h0.6v0.6h-0.6zM426.4 107.3h0.6v0.6h-0.6zM434.8 101.3h0.6v0.6h-0.6zM433.8 107.1h0.6v0.6h-0.6zM432.8 107.7h0.6v0.6h-0.6zM435.2 105.9h0.6v0.6h-0.6zM433.9 105.4h0.6v0.6h-0.6zM433.5 104.2h0.6v0.6h-0.6zM431.2 111.3h0.6v0.6h-0.6zM432.7 106.1h0.6v0.6h-0.6z" fill="#111" opacity="0.85"/>
<path d="M407.7 98.3h0.6v0.6h-0.6zM419.7 108.6h0.6v0.6h-0.6zM421.8 106.1h0.6v0.6h-0.6zM417.6 111.1h0.6v0.6h-0.6zM414.5 99.7h0.6v0.6h-0.6zM426.0 103.4h0.6v0.6h-0.6zM415.5 99.5h0.6v0.6h-0.6zM415.7 106.7h0.6v0.6h-0.6zM421.2 95.7h0.6v0.6h-0.6zM421.8 104.1h0.6v0.6h-0.6zM409.0 107.6h0.6v0.6h-0.6zM415.5 101.0h0.6v0.6h-0.6zM425.2 110.9h0.6v0.6h-0.6zM411.8 105.6h0.6v0.6h-0.6zM410.1 116.9h0.6v0.6h-0.6zM413.6 110.2h0.6v0.6h-0.6zM412.2 107.9h0.6v0.6h-0.6zM438.0 87.8h0.6v0.6h-0.6zM414.1 106.0h0.6v0.6h-0.6zM417.2 99.0h0.6v0.6h-0.6zM437.4 103.5h0.6v0.6h-0.6zM403.2 108.1h0.6v0.6h-0.6zM402.5 109.9h0.6v0.6h-0.6zM412.8 103.9h0.6v0.6h-0.6zM429.3 103.7h0.6v0.6h-0.6zM405.5 92.8h0.6v0.6h-0.6zM428.6 107.4h0.6v0.6h-0.6zM410.7 108.2h0.6v0.6h-0.6zM422.5 106.9h0.6v0.6h-0.6zM397.7 101.2h0.6v0.6h-0.6zM426.1 107.4h0.6v0.6h-0.6zM425.9 88.3h0.6v0.6h-0.6zM419.5 106.0h0.6v0.6h-0.6zM441.0 97.3h0.6v0.6h-0.6zM415.0 103.2h0.6v0.6h-0.6z" fill="#999" opacity="0.6"/>
<path d="M498.7 78.3h0.6v0.6h-0.6zM496.9 92.2h0.6v0.6h-0.6zM490.1 64.6h0.6v0.6h-0.6zM486.8 68.3h0.6v0.6h-0.6zM454.4 105.8h0.6v0.6h-0.6zM490.5 66.0h0.6v0.6h-0.6zM438.5 79.0h0.6v0.6h-0.6zM464.0 78.0h0.6v0.6h-0.6zM430.5 69.8h0.6v0.6h-0.6zM481.6 108.8h0.6v0.6h-0.6zM423.5 88.7h0.6v0.6h-0.6zM484.4 57.3h0.6v0.6h-0.6zM491.2 62.1h0.6v0.6h-0.6zM471.0 88.0h0.6v0.6h-0.6zM473.3 73.4h0.6v0.6h-0.6zM455.7 90.0h0.6v0.6h-0.6zM456.2 94.5h0.6v0.6h-0.6zM458.0 81.3h0.6v0.6h-0.6zM422.0 92.1h0.6v0.6h-0.6zM461.6 69.1h0.6v0.6h-0.6zM484.9 101.8h0.6v0.6h-0.6zM459.0 65.8h0.6v0.6h-0.6zM460.2 61.4h0.6v0.6h-0.6zM430.9 80.8h0.6v0.6h-0.6zM427.8 81.5h0.6v0.6h-0.6z" fill="#999" opacity="0.6"/>
<ellipse cx="417.50" cy="65.40" rx="20.50" ry="33.00" fill="none" stroke="#c27390" stroke-width="1.0"/>
<ellipse cx="473.30" cy="72.00" rx="34.80" ry="15.30" fill="none" stroke="#84d894" stroke-width="1.0"/>
<ellipse cx="469.30" cy="95.30" rx="25.70" ry="7.50" fill="none" stroke="#cc7fb8" stroke-width="1.0"/>
<ellipse cx="433.60" cy="107.10" rx="16.40" ry="14.80" fill="none" stroke="#7d8fc2" stroke-width="1.0"/>
<path d="M49.00 338.50 H179.50 V469.00" fill="none" stroke="#7c7c7c" stroke-width="1"/>
<path d="M47.20 459.22H49.00 M47.20 453.49H49.00 M47.20 449.43H49.00 M47.20 446.28H49.00 M47.20 443.71H49.00 M47.20 441.53H49.00 M47.20 439.65H49.00 M47.20 437.99H49.00 M47.20 426.72H49.00 M47.20 420.99H49.00 M47.20 416.93H49.00 M47.20 413.78H49.00 M47.20 411.21H49.00 M47.20 409.03H49.00 M47.20 407.15H49.00 M47.20 405.49H49.00 M47.20 394.22H49.00 M47.20 388.49H49.00 M47.20 384.43H49.00 M47.20 381.28H49.00 M47.20 378.71H49.00 M47.20 376.53H49.00 M47.20 374.65H49.00 M47.20 372.99H49.00 M47.20 361.72H49.00 M47.20 355.99H49.00 M47.20 351.93H49.00 M47.20 348.78H49.00 M47.20 346.21H49.00 M47.20 344.03H49.00 M47.20 342.15H49.00 M47.20 340.49H49.00 M45.80 469.00H49.00 M45.80 436.50H49.00 M45.80 404.00H49.00 M45.80 371.50H49.00 M45.80 339.00H49.00 M49.00 469.00V472.00 M55.30 469.00V470.60 M61.60 469.00V470.60 M67.90 469.00V470.60 M74.20 469.00V472.00 M80.50 469.00V470.60 M86.80 469.00V470.60 M93.10 469.00V470.60 M99.40 469.00V472.00 M105.70 469.00V470.60 M112.00 469.00V470.60 M118.30 469.00V470.60 M124.60 469.00V472.00 M130.90 469.00V470.60 M137.20 469.00V470.60 M143.50 469.00V470.60 M149.80 469.00V472.00 M156.10 469.00V470.60 M162.40 469.00V470.60 M168.70 469.00V470.60 M175.00 469.00V472.00" stroke="#3f4846" stroke-width="0.9" fill="none"/>
<path d="M49.00 338.00 V469.00 H180.00" fill="none" stroke="#3f4846" stroke-width="1.3"/>
<text x="39.10" y="473.60" font-family="'Liberation Sans', sans-serif" font-size="8.6" font-weight="bold" fill="#111" text-anchor="end" stroke="#111" stroke-width="0.2">10</text>
<text x="39.60" y="468.20" font-family="'Liberation Sans', sans-serif" font-size="6.2" font-weight="bold" fill="#111" text-anchor="start" stroke="#111" stroke-width="0.2">0</text>
<text x="39.10" y="441.10" font-family="'Liberation Sans', sans-serif" font-size="8.6" font-weight="bold" fill="#111" text-anchor="end" stroke="#111" stroke-width="0.2">10</text>
<text x="39.60" y="435.70" font-family="'Liberation Sans', sans-serif" font-size="6.2" font-weight="bold" fill="#111" text-anchor="start" stroke="#111" stroke-width="0.2">1</text>
<text x="39.10" y="408.60" font-family="'Liberation Sans', sans-serif" font-size="8.6" font-weight="bold" fill="#111" text-anchor="end" stroke="#111" stroke-width="0.2">10</text>
<text x="39.60" y="403.20" font-family="'Liberation Sans', sans-serif" font-size="6.2" font-weight="bold" fill="#111" text-anchor="start" stroke="#111" stroke-width="0.2">2</text>
<text x="39.10" y="376.10" font-family="'Liberation Sans', sans-serif" font-size="8.6" font-weight="bold" fill="#111" text-anchor="end" stroke="#111" stroke-width="0.2">10</text>
<text x="39.60" y="370.70" font-family="'Liberation Sans', sans-serif" font-size="6.2" font-weight="bold" fill="#111" text-anchor="start" stroke="#111" stroke-width="0.2">3</text>
<text x="39.10" y="343.60" font-family="'Liberation Sans', sans-serif" font-size="8.6" font-weight="bold" fill="#111" text-anchor="end" stroke="#111" stroke-width="0.2">10</text>
<text x="39.60" y="338.20" font-family="'Liberation Sans', sans-serif" font-size="6.2" font-weight="bold" fill="#111" text-anchor="start" stroke="#111" stroke-width="0.2">4</text>
<text x="49.00" y="480.40" font-family="'Liberation Sans', sans-serif" font-size="8.6" font-weight="bold" fill="#111" text-anchor="middle" stroke="#111" stroke-width="0.2">0</text>
<text x="74.20" y="480.40" font-family="'Liberation Sans', sans-serif" font-size="8.6" font-weight="bold" fill="#111" text-anchor="middle" stroke="#111" stroke-width="0.2">200</text>
<text x="99.40" y="480.40" font-family="'Liberation Sans', sans-serif" font-size="8.6" font-weight="bold" fill="#111" text-anchor="middle" stroke="#111" stroke-width="0.2">400</text>
<text x="124.60" y="480.40" font-family="'Liberation Sans', sans-serif" font-size="8.6" font-weight="bold" fill="#111" text-anchor="middle" stroke="#111" stroke-width="0.2">600</text>
<text x="149.80" y="480.40" font-family="'Liberation Sans', sans-serif" font-size="8.6" font-weight="bold" fill="#111" text-anchor="middle" stroke="#111" stroke-width="0.2">800</text>
<text x="175.00" y="480.40" font-family="'Liberation Sans', sans-serif" font-size="8.6" font-weight="bold" fill="#111" text-anchor="middle" stroke="#111" stroke-width="0.2">1000</text>
<text x="115.00" y="492.00" font-family="'Liberation Sans', sans-serif" font-size="8.4" font-weight="bold" fill="#111" text-anchor="middle" stroke="#111" stroke-width="0.2">FSC</text>
<text transform="translate(27.70,404.00) rotate(-90)" font-family="'Liberation Sans', sans-serif" font-size="8.4" font-weight="bold" fill="#111" text-anchor="middle" stroke="#111" stroke-width="0.2">SSC</text>
<path d="M108.3 387.7h0.7v0.7h-0.7zM108.4 382.7h0.7v0.7h-0.7zM108.9 358.7h0.7v0.7h-0.7zM108.0 387.6h0.7v0.7h-0.7zM104.2 387.6h0.7v0.7h-0.7zM113.1 385.2h0.7v0.7h-0.7zM122.5 343.7h0.7v0.7h-0.7zM108.8 357.0h0.7v0.7h-0.7zM115.9 433.1h0.7v0.7h-0.7zM95.0 390.2h0.7v0.7h-0.7zM113.1 382.9h0.7v0.7h-0.7zM113.3 349.9h0.7v0.7h-0.7zM115.1 394.3h0.7v0.7h-0.7zM110.1 378.0h0.7v0.7h-0.7zM113.8 379.7h0.7v0.7h-0.7zM111.3 379.3h0.7v0.7h-0.7zM96.5 387.5h0.7v0.7h-0.7zM111.2 400.8h0.7v0.7h-0.7zM104.7 387.4h0.7v0.7h-0.7zM113.7 390.5h0.7v0.7h-0.7zM117.5 421.9h0.7v0.7h-0.7zM104.5 355.3h0.7v0.7h-0.7zM115.1 414.0h0.7v0.7h-0.7zM115.5 401.8h0.7v0.7h-0.7zM106.3 375.9h0.7v0.7h-0.7zM115.3 372.5h0.7v0.7h-0.7zM99.1 371.0h0.7v0.7h-0.7zM125.0 420.7h0.7v0.7h-0.7zM105.9 375.6h0.7v0.7h-0.7zM111.4 375.3h0.7v0.7h-0.7zM117.9 386.7h0.7v0.7h-0.7zM103.5 410.3h0.7v0.7h-0.7zM106.5 391.8h0.7v0.7h-0.7zM109.9 382.7h0.7v0.7h-0.7zM111.9 376.2h0.7v0.7h-0.7zM98.9 350.5h0.7v0.7h-0.7zM102.4 375.1h0.7v0.7h-0.7zM109.9 388.9h0.7v0.7h-0.7zM113.3 390.0h0.7v0.7h-0.7zM105.2 375.9h0.7v0.7h-0.7zM97.3 385.1h0.7v0.7h-0.7zM112.9 397.0h0.7v0.7h-0.7zM109.3 385.0h0.7v0.7h-0.7zM115.6 388.3h0.7v0.7h-0.7zM114.4 397.9h0.7v0.7h-0.7zM111.3 410.2h0.7v0.7h-0.7zM106.6 381.9h0.7v0.7h-0.7zM105.2 374.4h0.7v0.7h-0.7zM119.3 417.9h0.7v0.7h-0.7zM110.1 397.7h0.7v0.7h-0.7zM117.1 401.7h0.7v0.7h-0.7zM117.2 366.5h0.7v0.7h-0.7zM106.2 395.7h0.7v0.7h-0.7zM118.6 389.8h0.7v0.7h-0.7zM104.8 382.0h0.7v0.7h-0.7zM106.0 373.4h0.7v0.7h-0.7zM119.0 377.4h0.7v0.7h-0.7zM110.1 424.8h0.7v0.7h-0.7zM117.1 393.7h0.7v0.7h-0.7zM106.3 395.0h0.7v0.7h-0.7zM119.7 398.6h0.7v0.7h-0.7zM117.6 389.7h0.7v0.7h-0.7zM113.1 384.6h0.7v0.7h-0.7zM112.6 410.1h0.7v0.7h-0.7zM101.4 386.9h0.7v0.7h-0.7zM111.4 378.3h0.7v0.7h-0.7zM108.2 401.4h0.7v0.7h-0.7zM122.0 398.7h0.7v0.7h-0.7zM112.0 361.6h0.7v0.7h-0.7zM121.6 389.3h0.7v0.7h-0.7zM109.8 369.0h0.7v0.7h-0.7zM109.7 369.4h0.7v0.7h-0.7zM110.4 395.9h0.7v0.7h-0.7zM110.2 392.8h0.7v0.7h-0.7zM104.9 412.3h0.7v0.7h-0.7zM106.1 357.1h0.7v0.7h-0.7zM108.9 375.0h0.7v0.7h-0.7zM103.9 382.0h0.7v0.7h-0.7zM111.7 367.9h0.7v0.7h-0.7zM109.2 412.3h0.7v0.7h-0.7zM114.1 385.4h0.7v0.7h-0.7zM110.8 386.0h0.7v0.7h-0.7zM109.7 400.5h0.7v0.7h-0.7zM109.4 347.1h0.7v0.7h-0.7zM109.9 372.9h0.7v0.7h-0.7zM113.9 377.6h0.7v0.7h-0.7zM110.9 425.0h0.7v0.7h-0.7zM103.7 368.9h0.7v0.7h-0.7zM101.5 347.3h0.7v0.7h-0.7zM98.7 394.2h0.7v0.7h-0.7zM106.2 356.2h0.7v0.7h-0.7zM101.1 398.5h0.7v0.7h-0.7zM105.3 381.8h0.7v0.7h-0.7zM112.0 411.1h0.7v0.7h-0.7zM121.6 405.6h0.7v0.7h-0.7zM110.9 391.1h0.7v0.7h-0.7zM120.8 412.3h0.7v0.7h-0.7zM108.1 395.8h0.7v0.7h-0.7zM111.7 388.9h0.7v0.7h-0.7zM107.0 365.4h0.7v0.7h-0.7zM106.8 361.7h0.7v0.7h-0.7zM117.3 397.1h0.7v0.7h-0.7zM102.8 411.7h0.7v0.7h-0.7zM115.4 355.6h0.7v0.7h-0.7zM121.0 401.8h0.7v0.7h-0.7zM122.4 367.1h0.7v0.7h-0.7zM113.2 395.2h0.7v0.7h-0.7zM111.2 390.9h0.7v0.7h-0.7zM116.3 362.6h0.7v0.7h-0.7zM102.5 364.3h0.7v0.7h-0.7zM106.7 377.7h0.7v0.7h-0.7zM112.2 392.5h0.7v0.7h-0.7zM110.2 376.5h0.7v0.7h-0.7zM107.3 404.2h0.7v0.7h-0.7zM114.6 389.7h0.7v0.7h-0.7zM108.1 414.4h0.7v0.7h-0.7zM106.4 399.0h0.7v0.7h-0.7zM116.9 383.5h0.7v0.7h-0.7zM115.0 369.0h0.7v0.7h-0.7zM116.1 391.4h0.7v0.7h-0.7zM100.5 399.4h0.7v0.7h-0.7zM104.6 409.8h0.7v0.7h-0.7zM105.9 385.2h0.7v0.7h-0.7zM111.7 382.3h0.7v0.7h-0.7zM111.6 378.6h0.7v0.7h-0.7zM114.0 388.1h0.7v0.7h-0.7zM111.3 341.2h0.7v0.7h-0.7zM117.0 388.5h0.7v0.7h-0.7zM99.3 389.6h0.7v0.7h-0.7zM112.8 406.2h0.7v0.7h-0.7zM103.5 414.3h0.7v0.7h-0.7zM109.0 428.7h0.7v0.7h-0.7zM109.1 399.6h0.7v0.7h-0.7zM107.8 369.0h0.7v0.7h-0.7zM116.6 403.4h0.7v0.7h-0.7zM119.2 402.6h0.7v0.7h-0.7zM106.6 359.7h0.7v0.7h-0.7zM106.1 376.5h0.7v0.7h-0.7zM105.1 397.9h0.7v0.7h-0.7zM112.0 383.4h0.7v0.7h-0.7zM111.0 385.5h0.7v0.7h-0.7zM111.3 400.8h0.7v0.7h-0.7zM115.8 376.3h0.7v0.7h-0.7zM101.0 412.3h0.7v0.7h-0.7zM110.7 406.8h0.7v0.7h-0.7zM100.1 382.4h0.7v0.7h-0.7zM110.2 363.5h0.7v0.7h-0.7zM106.9 400.3h0.7v0.7h-0.7zM116.5 415.1h0.7v0.7h-0.7zM104.8 364.2h0.7v0.7h-0.7zM113.1 404.0h0.7v0.7h-0.7zM111.2 365.9h0.7v0.7h-0.7zM114.7 401.5h0.7v0.7h-0.7zM113.3 379.7h0.7v0.7h-0.7zM111.8 401.4h0.7v0.7h-0.7zM106.6 356.7h0.7v0.7h-0.7zM112.0 396.2h0.7v0.7h-0.7zM110.1 403.1h0.7v0.7h-0.7zM106.5 386.6h0.7v0.7h-0.7zM108.2 397.7h0.7v0.7h-0.7zM119.6 383.7h0.7v0.7h-0.7zM122.3 414.0h0.7v0.7h-0.7zM114.7 398.0h0.7v0.7h-0.7zM120.6 384.9h0.7v0.7h-0.7zM109.3 369.9h0.7v0.7h-0.7zM112.8 410.9h0.7v0.7h-0.7zM113.2 395.2h0.7v0.7h-0.7zM108.8 390.9h0.7v0.7h-0.7zM101.4 405.8h0.7v0.7h-0.7zM107.5 369.2h0.7v0.7h-0.7zM105.5 374.0h0.7v0.7h-0.7zM115.1 406.0h0.7v0.7h-0.7zM101.9 403.7h0.7v0.7h-0.7zM115.3 378.2h0.7v0.7h-0.7zM101.1 375.3h0.7v0.7h-0.7zM106.2 393.8h0.7v0.7h-0.7zM107.9 353.5h0.7v0.7h-0.7zM111.4 361.9h0.7v0.7h-0.7zM115.4 367.5h0.7v0.7h-0.7zM105.8 373.5h0.7v0.7h-0.7zM106.7 410.1h0.7v0.7h-0.7zM115.1 398.2h0.7v0.7h-0.7zM111.9 361.7h0.7v0.7h-0.7zM106.9 378.6h0.7v0.7h-0.7zM104.1 396.7h0.7v0.7h-0.7zM105.6 375.9h0.7v0.7h-0.7zM103.7 353.0h0.7v0.7h-0.7zM113.6 410.6h0.7v0.7h-0.7zM111.0 371.4h0.7v0.7h-0.7zM93.8 390.9h0.7v0.7h-0.7zM117.3 393.1h0.7v0.7h-0.7zM115.6 413.1h0.7v0.7h-0.7zM116.8 380.5h0.7v0.7h-0.7zM116.3 401.2h0.7v0.7h-0.7zM100.8 381.1h0.7v0.7h-0.7zM101.5 386.1h0.7v0.7h-0.7zM113.5 369.8h0.7v0.7h-0.7zM97.7 410.1h0.7v0.7h-0.7zM112.3 413.0h0.7v0.7h-0.7zM102.1 406.0h0.7v0.7h-0.7zM122.4 422.1h0.7v0.7h-0.7zM108.7 392.6h0.7v0.7h-0.7zM109.1 405.0h0.7v0.7h-0.7zM116.2 389.5h0.7v0.7h-0.7zM101.8 400.6h0.7v0.7h-0.7zM107.2 398.7h0.7v0.7h-0.7zM111.6 415.6h0.7v0.7h-0.7zM116.8 380.3h0.7v0.7h-0.7zM112.1 418.0h0.7v0.7h-0.7zM106.8 395.4h0.7v0.7h-0.7zM117.1 409.4h0.7v0.7h-0.7zM113.1 365.6h0.7v0.7h-0.7zM102.4 392.2h0.7v0.7h-0.7zM112.3 431.3h0.7v0.7h-0.7zM104.8 407.3h0.7v0.7h-0.7zM114.6 359.6h0.7v0.7h-0.7zM105.1 390.8h0.7v0.7h-0.7zM107.0 385.4h0.7v0.7h-0.7zM112.8 374.2h0.7v0.7h-0.7zM112.8 377.2h0.7v0.7h-0.7zM106.7 397.1h0.7v0.7h-0.7zM106.6 392.9h0.7v0.7h-0.7zM119.6 388.5h0.7v0.7h-0.7zM109.1 400.5h0.7v0.7h-0.7zM107.8 406.4h0.7v0.7h-0.7zM102.3 398.5h0.7v0.7h-0.7zM106.9 374.4h0.7v0.7h-0.7zM120.6 373.5h0.7v0.7h-0.7zM120.5 399.2h0.7v0.7h-0.7zM118.7 371.4h0.7v0.7h-0.7zM117.2 412.8h0.7v0.7h-0.7zM109.3 385.8h0.7v0.7h-0.7zM124.7 391.0h0.7v0.7h-0.7zM107.5 377.3h0.7v0.7h-0.7zM112.7 393.6h0.7v0.7h-0.7zM111.1 417.3h0.7v0.7h-0.7zM108.0 396.0h0.7v0.7h-0.7zM118.8 370.9h0.7v0.7h-0.7zM116.2 419.1h0.7v0.7h-0.7zM101.9 369.3h0.7v0.7h-0.7zM103.8 356.6h0.7v0.7h-0.7zM112.7 356.4h0.7v0.7h-0.7zM113.0 412.7h0.7v0.7h-0.7zM100.3 382.6h0.7v0.7h-0.7zM98.5 401.2h0.7v0.7h-0.7zM105.6 383.5h0.7v0.7h-0.7zM110.3 397.3h0.7v0.7h-0.7zM107.9 388.3h0.7v0.7h-0.7zM106.7 389.9h0.7v0.7h-0.7zM103.0 389.1h0.7v0.7h-0.7zM98.4 379.7h0.7v0.7h-0.7zM121.5 389.4h0.7v0.7h-0.7zM102.4 392.4h0.7v0.7h-0.7zM104.2 359.9h0.7v0.7h-0.7zM105.6 400.5h0.7v0.7h-0.7zM112.3 386.4h0.7v0.7h-0.7zM104.4 369.7h0.7v0.7h-0.7zM118.1 392.2h0.7v0.7h-0.7zM104.3 352.1h0.7v0.7h-0.7zM101.8 430.1h0.7v0.7h-0.7zM103.1 386.7h0.7v0.7h-0.7zM111.3 385.3h0.7v0.7h-0.7zM108.3 364.7h0.7v0.7h-0.7zM103.7 416.7h0.7v0.7h-0.7zM105.5 402.4h0.7v0.7h-0.7zM99.8 383.3h0.7v0.7h-0.7zM111.6 405.6h0.7v0.7h-0.7zM103.3 398.1h0.7v0.7h-0.7zM112.3 375.5h0.7v0.7h-0.7zM112.9 372.7h0.7v0.7h-0.7zM105.2 387.7h0.7v0.7h-0.7zM93.7 386.1h0.7v0.7h-0.7zM104.0 363.1h0.7v0.7h-0.7zM107.4 401.0h0.7v0.7h-0.7zM107.6 409.5h0.7v0.7h-0.7zM103.0 365.7h0.7v0.7h-0.7zM119.3 394.8h0.7v0.7h-0.7zM115.7 373.9h0.7v0.7h-0.7zM114.8 392.4h0.7v0.7h-0.7zM113.9 388.4h0.7v0.7h-0.7zM117.2 377.0h0.7v0.7h-0.7zM104.2 362.9h0.7v0.7h-0.7zM117.0 375.4h0.7v0.7h-0.7zM103.7 372.0h0.7v0.7h-0.7zM107.3 366.4h0.7v0.7h-0.7zM108.3 377.3h0.7v0.7h-0.7zM106.7 371.7h0.7v0.7h-0.7zM110.2 380.2h0.7v0.7h-0.7zM110.7 392.2h0.7v0.7h-0.7zM112.0 350.8h0.7v0.7h-0.7zM106.8 374.5h0.7v0.7h-0.7zM114.6 361.2h0.7v0.7h-0.7zM105.7 383.0h0.7v0.7h-0.7zM108.0 404.9h0.7v0.7h-0.7zM107.3 404.4h0.7v0.7h-0.7zM101.2 357.2h0.7v0.7h-0.7zM117.3 395.4h0.7v0.7h-0.7zM112.9 390.1h0.7v0.7h-0.7zM112.9 367.3h0.7v0.7h-0.7zM115.7 379.0h0.7v0.7h-0.7zM115.9 389.5h0.7v0.7h-0.7zM98.2 366.1h0.7v0.7h-0.7zM116.8 385.7h0.7v0.7h-0.7zM107.6 392.1h0.7v0.7h-0.7zM107.4 378.7h0.7v0.7h-0.7zM110.6 390.5h0.7v0.7h-0.7zM119.1 388.8h0.7v0.7h-0.7zM121.3 418.6h0.7v0.7h-0.7zM120.3 406.0h0.7v0.7h-0.7zM110.8 390.3h0.7v0.7h-0.7zM109.1 375.6h0.7v0.7h-0.7zM109.6 377.1h0.7v0.7h-0.7zM119.8 397.1h0.7v0.7h-0.7zM107.3 355.4h0.7v0.7h-0.7zM109.7 380.9h0.7v0.7h-0.7zM103.5 368.7h0.7v0.7h-0.7zM96.5 397.7h0.7v0.7h-0.7zM109.6 431.9h0.7v0.7h-0.7zM109.8 385.5h0.7v0.7h-0.7zM118.7 390.3h0.7v0.7h-0.7zM111.0 381.7h0.7v0.7h-0.7zM106.4 413.5h0.7v0.7h-0.7zM116.0 417.2h0.7v0.7h-0.7zM107.9 388.5h0.7v0.7h-0.7zM104.7 404.4h0.7v0.7h-0.7zM101.6 397.6h0.7v0.7h-0.7zM116.6 412.0h0.7v0.7h-0.7zM104.4 406.5h0.7v0.7h-0.7zM105.7 375.1h0.7v0.7h-0.7zM102.1 407.6h0.7v0.7h-0.7zM119.9 377.9h0.7v0.7h-0.7zM105.4 382.2h0.7v0.7h-0.7zM125.0 405.1h0.7v0.7h-0.7zM106.7 357.5h0.7v0.7h-0.7zM106.0 408.2h0.7v0.7h-0.7zM121.2 383.5h0.7v0.7h-0.7zM105.9 379.3h0.7v0.7h-0.7zM98.7 403.4h0.7v0.7h-0.7zM103.5 406.1h0.7v0.7h-0.7zM99.8 366.4h0.7v0.7h-0.7zM111.7 375.0h0.7v0.7h-0.7zM114.7 388.1h0.7v0.7h-0.7zM103.0 398.6h0.7v0.7h-0.7zM115.1 355.5h0.7v0.7h-0.7zM121.0 396.5h0.7v0.7h-0.7zM114.6 356.4h0.7v0.7h-0.7zM105.7 382.1h0.7v0.7h-0.7zM116.5 363.2h0.7v0.7h-0.7zM104.7 353.5h0.7v0.7h-0.7zM108.6 393.9h0.7v0.7h-0.7zM99.9 377.9h0.7v0.7h-0.7zM113.1 415.0h0.7v0.7h-0.7zM114.0 382.8h0.7v0.7h-0.7zM102.9 372.1h0.7v0.7h-0.7zM106.0 390.5h0.7v0.7h-0.7zM109.7 416.3h0.7v0.7h-0.7zM111.7 369.8h0.7v0.7h-0.7zM119.3 404.1h0.7v0.7h-0.7zM110.6 375.7h0.7v0.7h-0.7zM98.8 370.6h0.7v0.7h-0.7zM115.5 374.4h0.7v0.7h-0.7zM102.1 391.3h0.7v0.7h-0.7zM111.5 398.3h0.7v0.7h-0.7zM113.9 412.0h0.7v0.7h-0.7zM105.0 404.6h0.7v0.7h-0.7zM104.1 399.8h0.7v0.7h-0.7zM111.1 392.1h0.7v0.7h-0.7zM115.8 387.7h0.7v0.7h-0.7zM116.7 402.9h0.7v0.7h-0.7zM110.8 378.4h0.7v0.7h-0.7zM105.5 379.0h0.7v0.7h-0.7zM108.8 387.6h0.7v0.7h-0.7zM127.9 398.9h0.7v0.7h-0.7zM114.6 373.4h0.7v0.7h-0.7zM105.7 382.6h0.7v0.7h-0.7zM111.2 370.4h0.7v0.7h-0.7zM119.7 378.4h0.7v0.7h-0.7zM116.5 348.3h0.7v0.7h-0.7zM110.0 392.7h0.7v0.7h-0.7zM111.1 398.2h0.7v0.7h-0.7zM111.7 390.8h0.7v0.7h-0.7zM98.6 375.9h0.7v0.7h-0.7zM95.9 398.7h0.7v0.7h-0.7zM111.8 384.7h0.7v0.7h-0.7zM105.1 378.1h0.7v0.7h-0.7zM121.1 417.4h0.7v0.7h-0.7zM109.7 409.9h0.7v0.7h-0.7zM100.5 355.1h0.7v0.7h-0.7zM107.1 373.1h0.7v0.7h-0.7zM106.6 391.2h0.7v0.7h-0.7zM128.1 376.8h0.7v0.7h-0.7zM110.3 392.7h0.7v0.7h-0.7zM109.8 403.8h0.7v0.7h-0.7zM120.7 366.9h0.7v0.7h-0.7zM111.0 383.5h0.7v0.7h-0.7zM112.1 362.0h0.7v0.7h-0.7zM99.5 348.6h0.7v0.7h-0.7zM113.2 391.3h0.7v0.7h-0.7zM110.4 347.8h0.7v0.7h-0.7zM107.8 375.2h0.7v0.7h-0.7zM101.5 372.4h0.7v0.7h-0.7zM114.2 397.3h0.7v0.7h-0.7zM109.9 396.7h0.7v0.7h-0.7zM106.4 389.2h0.7v0.7h-0.7zM110.2 397.4h0.7v0.7h-0.7zM109.6 385.6h0.7v0.7h-0.7zM109.2 377.0h0.7v0.7h-0.7zM123.4 396.7h0.7v0.7h-0.7zM112.6 427.0h0.7v0.7h-0.7zM118.4 361.5h0.7v0.7h-0.7zM114.2 402.2h0.7v0.7h-0.7zM121.3 410.4h0.7v0.7h-0.7zM114.6 368.0h0.7v0.7h-0.7zM104.8 392.6h0.7v0.7h-0.7zM113.0 370.6h0.7v0.7h-0.7zM107.7 381.2h0.7v0.7h-0.7zM110.4 393.7h0.7v0.7h-0.7zM108.3 367.0h0.7v0.7h-0.7zM117.5 415.1h0.7v0.7h-0.7zM109.4 405.4h0.7v0.7h-0.7zM112.7 399.2h0.7v0.7h-0.7zM112.9 375.0h0.7v0.7h-0.7zM113.4 405.2h0.7v0.7h-0.7zM104.6 421.4h0.7v0.7h-0.7zM122.5 419.0h0.7v0.7h-0.7zM121.9 400.6h0.7v0.7h-0.7zM108.0 377.8h0.7v0.7h-0.7zM105.1 390.0h0.7v0.7h-0.7zM109.8 399.4h0.7v0.7h-0.7zM97.9 427.3h0.7v0.7h-0.7zM123.7 387.5h0.7v0.7h-0.7zM114.1 396.1h0.7v0.7h-0.7zM111.6 384.4h0.7v0.7h-0.7zM109.3 374.0h0.7v0.7h-0.7zM111.1 387.6h0.7v0.7h-0.7zM111.9 373.5h0.7v0.7h-0.7zM110.2 388.8h0.7v0.7h-0.7zM113.6 369.9h0.7v0.7h-0.7zM112.5 404.7h0.7v0.7h-0.7zM113.6 381.7h0.7v0.7h-0.7zM107.1 384.0h0.7v0.7h-0.7zM114.4 414.4h0.7v0.7h-0.7zM109.1 377.1h0.7v0.7h-0.7zM112.3 391.5h0.7v0.7h-0.7zM104.6 375.5h0.7v0.7h-0.7zM109.4 399.4h0.7v0.7h-0.7zM102.8 370.7h0.7v0.7h-0.7zM113.0 367.2h0.7v0.7h-0.7zM110.7 394.0h0.7v0.7h-0.7zM109.3 370.7h0.7v0.7h-0.7z" fill="#1a1a1a" opacity="0.8"/>
<path d="M157.7 363.9h0.6v0.6h-0.6zM164.2 383.5h0.6v0.6h-0.6zM166.5 420.5h0.6v0.6h-0.6zM141.0 361.1h0.6v0.6h-0.6zM171.4 393.4h0.6v0.6h-0.6zM168.7 378.6h0.6v0.6h-0.6zM118.6 418.2h0.6v0.6h-0.6zM131.8 371.4h0.6v0.6h-0.6zM132.1 401.6h0.6v0.6h-0.6zM105.3 396.4h0.6v0.6h-0.6zM137.5 396.1h0.6v0.6h-0.6zM113.8 410.0h0.6v0.6h-0.6zM164.6 420.6h0.6v0.6h-0.6zM128.4 409.8h0.6v0.6h-0.6zM132.8 412.6h0.6v0.6h-0.6zM109.5 421.1h0.6v0.6h-0.6zM174.6 394.6h0.6v0.6h-0.6zM142.5 397.1h0.6v0.6h-0.6zM144.2 361.4h0.6v0.6h-0.6zM175.6 375.7h0.6v0.6h-0.6zM118.3 367.2h0.6v0.6h-0.6zM123.3 417.2h0.6v0.6h-0.6zM107.2 366.8h0.6v0.6h-0.6zM156.0 373.7h0.6v0.6h-0.6zM106.3 402.0h0.6v0.6h-0.6zM147.1 396.6h0.6v0.6h-0.6zM156.3 367.2h0.6v0.6h-0.6zM168.5 410.2h0.6v0.6h-0.6zM108.3 368.6h0.6v0.6h-0.6zM141.0 395.1h0.6v0.6h-0.6zM125.4 368.5h0.6v0.6h-0.6zM134.6 369.6h0.6v0.6h-0.6zM148.2 420.3h0.6v0.6h-0.6zM115.7 400.1h0.6v0.6h-0.6zM159.5 371.5h0.6v0.6h-0.6zM165.3 425.6h0.6v0.6h-0.6zM133.4 389.4h0.6v0.6h-0.6zM166.3 396.8h0.6v0.6h-0.6zM133.9 425.9h0.6v0.6h-0.6zM161.7 383.7h0.6v0.6h-0.6zM122.5 383.5h0.6v0.6h-0.6zM136.8 428.7h0.6v0.6h-0.6zM163.7 423.9h0.6v0.6h-0.6zM164.5 419.3h0.6v0.6h-0.6zM108.9 396.2h0.6v0.6h-0.6zM174.9 425.4h0.6v0.6h-0.6zM123.2 389.5h0.6v0.6h-0.6zM151.2 385.5h0.6v0.6h-0.6zM143.7 364.8h0.6v0.6h-0.6zM136.6 395.3h0.6v0.6h-0.6zM106.5 369.8h0.6v0.6h-0.6zM175.8 414.4h0.6v0.6h-0.6zM173.4 404.3h0.6v0.6h-0.6zM164.1 421.9h0.6v0.6h-0.6zM169.6 362.4h0.6v0.6h-0.6zM151.8 378.6h0.6v0.6h-0.6zM154.5 379.1h0.6v0.6h-0.6zM144.6 424.7h0.6v0.6h-0.6zM150.4 377.5h0.6v0.6h-0.6zM143.0 390.4h0.6v0.6h-0.6zM174.4 380.1h0.6v0.6h-0.6zM127.3 405.3h0.6v0.6h-0.6zM113.8 401.6h0.6v0.6h-0.6zM174.8 396.0h0.6v0.6h-0.6zM124.6 392.6h0.6v0.6h-0.6zM144.0 370.4h0.6v0.6h-0.6zM114.0 369.2h0.6v0.6h-0.6zM126.4 388.5h0.6v0.6h-0.6zM126.0 377.0h0.6v0.6h-0.6zM111.4 398.2h0.6v0.6h-0.6zM166.3 402.7h0.6v0.6h-0.6zM146.6 405.5h0.6v0.6h-0.6zM119.7 409.7h0.6v0.6h-0.6zM138.6 398.4h0.6v0.6h-0.6zM149.7 392.8h0.6v0.6h-0.6zM127.7 377.0h0.6v0.6h-0.6zM121.2 395.9h0.6v0.6h-0.6zM133.0 401.0h0.6v0.6h-0.6zM105.9 384.7h0.6v0.6h-0.6zM167.9 376.7h0.6v0.6h-0.6zM145.6 394.4h0.6v0.6h-0.6zM125.8 429.1h0.6v0.6h-0.6zM126.6 414.0h0.6v0.6h-0.6zM116.6 364.7h0.6v0.6h-0.6zM168.6 390.8h0.6v0.6h-0.6zM109.5 387.2h0.6v0.6h-0.6zM137.1 411.5h0.6v0.6h-0.6zM113.0 375.8h0.6v0.6h-0.6zM175.0 411.7h0.6v0.6h-0.6zM116.3 383.6h0.6v0.6h-0.6zM130.7 407.3h0.6v0.6h-0.6zM150.0 419.5h0.6v0.6h-0.6zM164.9 396.2h0.6v0.6h-0.6zM158.9 412.0h0.6v0.6h-0.6zM160.5 393.3h0.6v0.6h-0.6zM162.3 409.6h0.6v0.6h-0.6zM171.8 368.9h0.6v0.6h-0.6zM168.6 360.3h0.6v0.6h-0.6zM160.9 401.0h0.6v0.6h-0.6zM141.3 427.4h0.6v0.6h-0.6zM146.8 389.3h0.6v0.6h-0.6zM162.2 421.1h0.6v0.6h-0.6zM149.3 386.6h0.6v0.6h-0.6zM138.0 392.1h0.6v0.6h-0.6zM157.8 380.5h0.6v0.6h-0.6zM133.5 398.9h0.6v0.6h-0.6zM133.1 382.5h0.6v0.6h-0.6zM162.5 419.5h0.6v0.6h-0.6zM141.5 391.1h0.6v0.6h-0.6zM118.4 381.3h0.6v0.6h-0.6zM115.6 400.3h0.6v0.6h-0.6zM147.5 366.2h0.6v0.6h-0.6zM172.2 382.7h0.6v0.6h-0.6zM166.6 418.7h0.6v0.6h-0.6zM175.0 374.3h0.6v0.6h-0.6zM136.1 423.7h0.6v0.6h-0.6zM105.8 363.3h0.6v0.6h-0.6zM146.2 394.8h0.6v0.6h-0.6zM172.2 414.1h0.6v0.6h-0.6zM144.3 429.9h0.6v0.6h-0.6zM142.8 396.2h0.6v0.6h-0.6zM155.0 387.3h0.6v0.6h-0.6zM131.1 401.6h0.6v0.6h-0.6zM130.6 426.4h0.6v0.6h-0.6zM154.4 396.8h0.6v0.6h-0.6zM112.2 386.2h0.6v0.6h-0.6zM134.3 399.3h0.6v0.6h-0.6zM146.9 421.6h0.6v0.6h-0.6zM175.4 394.1h0.6v0.6h-0.6zM137.1 403.7h0.6v0.6h-0.6zM177.7 384.0h0.6v0.6h-0.6zM143.7 417.1h0.6v0.6h-0.6zM117.5 382.3h0.6v0.6h-0.6zM176.4 417.8h0.6v0.6h-0.6zM142.4 367.7h0.6v0.6h-0.6zM170.3 408.3h0.6v0.6h-0.6zM164.9 429.3h0.6v0.6h-0.6zM169.8 389.5h0.6v0.6h-0.6zM116.4 380.3h0.6v0.6h-0.6zM142.3 395.3h0.6v0.6h-0.6zM118.7 372.8h0.6v0.6h-0.6zM151.0 402.2h0.6v0.6h-0.6zM130.8 429.6h0.6v0.6h-0.6zM151.5 363.0h0.6v0.6h-0.6zM135.0 415.1h0.6v0.6h-0.6zM127.4 408.3h0.6v0.6h-0.6zM105.3 381.3h0.6v0.6h-0.6zM166.5 401.0h0.6v0.6h-0.6zM153.8 373.8h0.6v0.6h-0.6zM141.3 398.7h0.6v0.6h-0.6zM124.4 405.3h0.6v0.6h-0.6zM143.8 429.8h0.6v0.6h-0.6zM146.9 388.8h0.6v0.6h-0.6zM113.9 371.0h0.6v0.6h-0.6zM160.4 367.5h0.6v0.6h-0.6zM112.3 371.9h0.6v0.6h-0.6zM143.1 417.6h0.6v0.6h-0.6zM149.7 416.5h0.6v0.6h-0.6zM109.5 360.9h0.6v0.6h-0.6zM161.3 382.6h0.6v0.6h-0.6z" fill="#555" opacity="0.6"/>
<path d="M160.1 395.9h0.6v0.6h-0.6zM125.7 392.0h0.6v0.6h-0.6zM121.3 420.7h0.6v0.6h-0.6zM151.7 395.7h0.6v0.6h-0.6zM143.3 397.4h0.6v0.6h-0.6zM118.4 420.1h0.6v0.6h-0.6zM151.7 423.2h0.6v0.6h-0.6zM142.7 407.9h0.6v0.6h-0.6zM130.7 382.0h0.6v0.6h-0.6zM173.6 418.5h0.6v0.6h-0.6zM134.8 420.4h0.6v0.6h-0.6zM166.4 393.7h0.6v0.6h-0.6zM153.0 423.2h0.6v0.6h-0.6zM146.2 422.7h0.6v0.6h-0.6zM130.3 397.5h0.6v0.6h-0.6zM160.3 390.0h0.6v0.6h-0.6zM134.5 419.4h0.6v0.6h-0.6zM145.5 415.7h0.6v0.6h-0.6zM130.3 387.8h0.6v0.6h-0.6zM137.6 388.4h0.6v0.6h-0.6zM176.2 393.1h0.6v0.6h-0.6zM150.4 385.2h0.6v0.6h-0.6zM148.6 397.4h0.6v0.6h-0.6zM140.4 382.9h0.6v0.6h-0.6zM122.8 417.2h0.6v0.6h-0.6zM137.1 391.0h0.6v0.6h-0.6zM127.0 392.8h0.6v0.6h-0.6zM129.9 381.6h0.6v0.6h-0.6zM156.8 395.4h0.6v0.6h-0.6zM124.8 411.8h0.6v0.6h-0.6zM120.8 392.1h0.6v0.6h-0.6zM167.6 385.8h0.6v0.6h-0.6zM142.9 417.6h0.6v0.6h-0.6zM165.7 387.2h0.6v0.6h-0.6zM137.2 412.5h0.6v0.6h-0.6zM138.7 423.1h0.6v0.6h-0.6zM128.1 422.8h0.6v0.6h-0.6zM146.8 390.2h0.6v0.6h-0.6zM143.5 385.9h0.6v0.6h-0.6zM159.5 391.7h0.6v0.6h-0.6zM171.7 406.4h0.6v0.6h-0.6zM138.2 391.1h0.6v0.6h-0.6zM153.3 389.6h0.6v0.6h-0.6zM170.0 385.5h0.6v0.6h-0.6zM147.3 404.4h0.6v0.6h-0.6zM132.0 414.7h0.6v0.6h-0.6zM139.2 409.6h0.6v0.6h-0.6zM150.8 394.0h0.6v0.6h-0.6zM139.6 383.9h0.6v0.6h-0.6zM126.2 418.3h0.6v0.6h-0.6zM135.2 409.8h0.6v0.6h-0.6zM121.9 405.3h0.6v0.6h-0.6zM137.8 402.5h0.6v0.6h-0.6zM133.7 383.0h0.6v0.6h-0.6zM134.6 390.2h0.6v0.6h-0.6zM122.9 412.3h0.6v0.6h-0.6zM132.8 398.2h0.6v0.6h-0.6zM172.3 414.9h0.6v0.6h-0.6zM170.6 418.8h0.6v0.6h-0.6zM123.3 392.4h0.6v0.6h-0.6zM116.9 410.6h0.6v0.6h-0.6zM156.8 395.8h0.6v0.6h-0.6zM141.0 409.7h0.6v0.6h-0.6zM159.1 391.2h0.6v0.6h-0.6zM168.3 395.8h0.6v0.6h-0.6zM154.6 388.2h0.6v0.6h-0.6zM122.3 421.1h0.6v0.6h-0.6zM161.2 412.1h0.6v0.6h-0.6zM117.5 381.8h0.6v0.6h-0.6zM125.2 388.9h0.6v0.6h-0.6zM134.1 397.1h0.6v0.6h-0.6zM117.5 394.0h0.6v0.6h-0.6zM155.2 388.1h0.6v0.6h-0.6zM167.9 405.7h0.6v0.6h-0.6zM160.1 391.5h0.6v0.6h-0.6zM142.4 410.8h0.6v0.6h-0.6zM137.0 380.0h0.6v0.6h-0.6zM167.6 414.9h0.6v0.6h-0.6zM133.0 381.9h0.6v0.6h-0.6zM168.8 407.3h0.6v0.6h-0.6zM118.0 391.0h0.6v0.6h-0.6zM122.0 415.6h0.6v0.6h-0.6zM128.2 421.2h0.6v0.6h-0.6zM162.2 383.9h0.6v0.6h-0.6zM158.8 397.7h0.6v0.6h-0.6zM162.1 417.3h0.6v0.6h-0.6zM132.7 384.0h0.6v0.6h-0.6zM174.6 399.1h0.6v0.6h-0.6zM173.6 411.1h0.6v0.6h-0.6zM161.5 417.3h0.6v0.6h-0.6zM154.6 400.4h0.6v0.6h-0.6zM118.4 411.4h0.6v0.6h-0.6zM142.0 403.0h0.6v0.6h-0.6zM173.5 385.7h0.6v0.6h-0.6zM163.0 382.0h0.6v0.6h-0.6zM159.3 416.3h0.6v0.6h-0.6zM131.5 404.6h0.6v0.6h-0.6zM176.1 408.7h0.6v0.6h-0.6zM149.3 391.2h0.6v0.6h-0.6zM118.7 396.1h0.6v0.6h-0.6zM140.9 389.1h0.6v0.6h-0.6zM134.6 386.1h0.6v0.6h-0.6zM159.5 410.2h0.6v0.6h-0.6zM130.0 390.9h0.6v0.6h-0.6zM147.5 400.0h0.6v0.6h-0.6zM174.0 395.8h0.6v0.6h-0.6zM133.9 419.8h0.6v0.6h-0.6zM123.9 405.3h0.6v0.6h-0.6zM136.0 416.7h0.6v0.6h-0.6zM149.5 414.2h0.6v0.6h-0.6zM125.7 410.0h0.6v0.6h-0.6zM152.7 400.8h0.6v0.6h-0.6zM163.3 417.4h0.6v0.6h-0.6zM122.2 393.0h0.6v0.6h-0.6zM137.7 389.3h0.6v0.6h-0.6zM118.8 392.6h0.6v0.6h-0.6zM127.4 411.6h0.6v0.6h-0.6zM143.2 385.1h0.6v0.6h-0.6zM135.4 401.1h0.6v0.6h-0.6zM137.9 387.6h0.6v0.6h-0.6z" fill="#333" opacity="0.6"/>
<path d="M113.1 425.3h0.6v0.6h-0.6zM125.3 424.7h0.6v0.6h-0.6zM123.0 428.2h0.6v0.6h-0.6zM122.2 424.4h0.6v0.6h-0.6zM119.2 427.9h0.6v0.6h-0.6zM107.2 426.0h0.6v0.6h-0.6zM111.0 424.9h0.6v0.6h-0.6zM122.1 422.2h0.6v0.6h-0.6zM99.0 418.3h0.6v0.6h-0.6zM108.5 422.5h0.6v0.6h-0.6zM112.1 427.2h0.6v0.6h-0.6zM125.6 426.2h0.6v0.6h-0.6zM115.6 422.2h0.6v0.6h-0.6zM116.5 430.2h0.6v0.6h-0.6zM122.3 417.5h0.6v0.6h-0.6zM118.9 431.1h0.6v0.6h-0.6zM118.4 419.2h0.6v0.6h-0.6zM109.6 427.3h0.6v0.6h-0.6zM115.2 421.9h0.6v0.6h-0.6zM105.1 428.7h0.6v0.6h-0.6zM101.7 430.5h0.6v0.6h-0.6zM112.2 426.2h0.6v0.6h-0.6zM101.7 422.7h0.6v0.6h-0.6zM117.3 419.3h0.6v0.6h-0.6zM127.9 419.6h0.6v0.6h-0.6zM102.6 425.2h0.6v0.6h-0.6zM115.7 427.8h0.6v0.6h-0.6zM109.1 424.2h0.6v0.6h-0.6zM110.2 422.8h0.6v0.6h-0.6zM92.2 428.7h0.6v0.6h-0.6zM113.9 425.6h0.6v0.6h-0.6zM107.2 426.0h0.6v0.6h-0.6zM111.9 424.7h0.6v0.6h-0.6zM120.5 418.4h0.6v0.6h-0.6zM113.9 420.9h0.6v0.6h-0.6zM109.6 430.8h0.6v0.6h-0.6zM103.7 424.6h0.6v0.6h-0.6zM107.5 428.6h0.6v0.6h-0.6zM104.5 418.5h0.6v0.6h-0.6zM115.9 423.6h0.6v0.6h-0.6z" fill="#333" opacity="0.6"/>
<path d="M94.4 426.9l-5 .1 -4.8-.5 -2-.5 -1.9-.6 -1.5-.8 -1.1-.7 -.5-.5 -.4-.8 -.2-.5 .1-.7 .6-1.3 1.9-2.2 0-.8 -.4-.5 -3.3-2.5 -2.2-2.5 -.9-1.5 -.7-1.5 -.5-1.5 -.3-1.7 0-1.8 .2-2 .5-2 1.4-3.8 .4-1.7 1.7-14.7 .7-3.5 .8-2.5 .7-1.8 1-1.5 1.1-1.5 1.3-1.2 1.5-1.1 1.5-.8 1.5-.6 1.8-.3 1.5-.1 1.7 .2 1.8 .6 1.5 .7 2.7 1.9 2.5 1.3 1.3 .9 1.3 1.5 1.1 2 .5 1.5 .4 1.8 .3 3 -.2 3 -1 5.5 0 1.7 .2 2.5 .6 3.2 1.5 4.1 .5 2.5 .1 2.2 -.5 3.8 0 1 .3 .7 1.4 2.2 .7 1.3 .5 1.5 .3 1.5 0 2.8 -.4 2.2 -.6 1.5 -1.3 1.4 -1 .6 -1.2 .4 -3.5 .3 -3.3 .7 -2.7 .4z M93.9 425.2l-3.8 .1 -3.7-.4 -2.6-.8 -.9-.5 -.9-.7 -.5-1 0-.5 .3-.8 .9-1 2.1-1.7 .4-.5 0-.3 -.1-.2 -.6-.5 -2.6-1.4 -1.8-1 -1.4-1.1 -1.2-1.3 -1.2-1.5 -1-1.7 -.6-1.8 -.3-1.7 0-2.8 .7-6.4 .8-10.6 .9-5.5 1.1-4.2 .9-2 .8-1.5 1.1-1.5 1.2-1.3 1.2-.9 1.5-.9 1.5-.5 1.5-.3 2 0 2 .5 1.5 .7 2.6 1.7 2.7 1 1.2 .7 1.3 1.2 1 1.6 .7 2 .5 2.2 .1 2 -.2 2.3 -1.1 5.5 -.3 2.2 .3 5.6 .8 7.2 -.1 2 -.3 1.7 -1 2.8 -1.3 2 -2.3 2 -3.9 2.5 -.7 .7 .2 .5 .8 .5 3.8 1.5 1-.1 2.2-.9 1.3 .2 1.2 .7 1.1 .9 .4 .7 .1 1 -.4 .8 -.4 .5 -1.3 .6 -1.2 .3 -2.8 0 -2.5 .8 -2.7 .6z M90.6 415.4l-2.5 .2 -2.5-.4 -2.7-1.1 -2.5-1.7 -1.8-1.8 -1.5-2.2 -1-2.5 -.4-2.8 0-2.5 .4-8.7 .3-5 .9-5.8 1.2-4.7 .8-2 .9-1.8 1.1-1.5 1.1-1 1.2-1 1.5-.8 1.5-.5 1.5-.2 1.8 .1 1.7 .5 1.3 .6 2.2 1.4 3 1 1.5 .8 1.2 1.4 1 1.7 .6 2 .2 2.3 0 1.7 -.2 1.8 -1.2 5.5 -.2 1.5 -.1 2.2 .4 10.3 -.2 2.5 -.5 2 -.7 1.5 -.9 1.5 -1 1.2 -1.1 1.1 -1.5 1.2 -1.5 .8 -1.8 .8 -1.5 .4z M89.1 414.6l-2.5-.1 -2.5-.8 -2.2-1.3 -2-1.8 -1.5-2 -1.1-2.2 -.6-2.5 -.2-3.3 .1-9 .4-5 1-6 1.3-4.5 1.4-3 .9-1.2 1.3-1.3 1.2-.9 1.3-.7 1.5-.5 1.5-.1 1.5 .1 1.5 .4 1.2 .6 2.3 1.4 3 .9 1.5 .9 1.1 1.2 .9 1.7 .6 2 .2 2.5 -.3 3.3 -1.4 6.5 0 12 -.3 2.5 -.7 2.5 -.7 1.5 -1 1.5 -1.1 1.2 -1.3 1.1 -1.5 1 -1.5 .7 -1.8 .5 -1.5 .2z M89.4 413.9l-2.5-.1 -2.5-.8 -2.3-1.3 -1.9-1.8 -1.4-2 -1-2.5 -.6-2.8 -.2-3.2 .1-7.5 .4-5.3 .9-5.7 1.2-4.3 .7-1.5 .8-1.5 1-1.4 1-1 1.3-.9 1.2-.7 1.3-.4 1.5-.2 1.5 .2 1.5 .4 3.2 1.9 3 .9 1.5 .9 1 1.1 .9 1.7 .5 2 .2 2 -.3 3.5 -1.1 4.8 -.3 1.7 -.1 11 -.3 2.8 -.6 2.2 -.7 1.5 -.9 1.5 -1 1.3 -1.3 1.1 -1.2 .9 -1.5 .7 -1.5 .5 -1.5 .3z M90.4 413.1l-2.5 .2 -2.3-.4 -2.2-1.1 -2.2-1.7 -1.5-2 -1.1-2.2 -.8-2.8 -.3-3.2 0-7 .3-5.5 .8-5.3 1.2-4.7 .7-1.8 .8-1.5 .9-1.2 1-1 1.2-1 1.2-.7 1.3-.4 1.2-.2 1.5 .1 1.5 .4 3.3 1.9 2.7 .8 1.4 .8 1.1 1.2 .8 1.4 .5 1.7 .3 2.2 0 1.8 -.2 2 -1.4 6.2 -.2 10.5 -.2 2.5 -.6 2.3 -.6 1.5 -.7 1.2 -.9 1.3 -1 1.1 -1.3 1 -1.2 .8 -1.3 .5 -1.2 .3z M90.1 412.6l-1.2 .2 -1.3-.1 -2.2-.5 -2.3-1.2 -1.8-1.6 -1.5-2 -1-2.3 -.6-2.7 -.3-3.3 -.1-6.5 .4-5.2 .8-5.3 1.2-4.5 1.3-3 .9-1.2 1-1.1 1-.8 1.2-.7 1.3-.5 1.2-.1 1.5 0 1.5 .5 3 1.7 2.8 .9 1.2 .8 1.1 1.3 .7 1.5 .5 1.7 .3 2.3 -.2 3.5 -1.3 6 -.2 10 -.3 2.5 -.5 2.2 -.6 1.5 -.7 1.3 -1.8 2.1 -1.2 1 -1.3 .8 -1.2 .5 -1.3 .3z M90.1 412.1l-2.2 .2 -2.3-.5 -2-1 -2-1.7 -1.4-2 -1-2.2 -.6-2.8 -.3-3.2 -.1-6.3 .3-5 .8-5.2 1.2-4.5 1.4-3 .8-1.3 .9-.9 1-.8 1.3-.7 1-.4 1.2-.2 1.5 .1 1.5 .5 2.8 1.6 2.7 1 1.2 .8 .9 1.3 .7 1.5 .5 2.2 .3 2.3 -.2 3 -1.1 5.5 -.2 9.5 -.3 2.7 -.6 2.3 -1.2 2.5 -.8 1.2 -1 1 -.9 .8 -1.3 .8 -1.2 .6 -1.3 .3z M90.1 411.7l-2.2 .1 -2.3-.5 -2-1 -1.8-1.7 -1.4-2 -.9-2.2 -.6-2.5 -.3-3.3 -.1-6 .3-5 .9-5.2 1.1-4.3 1.2-2.7 .8-1.3 .9-1 1.2-.9 1-.5 1-.4 1.2-.2 1.5 .1 1.3 .3 3 1.8 2.5 .9 .8 .7 .9 1.2 .7 1.5 .7 2.8 .2 2.2 -.1 2.8 -1.1 5.2 0 6.5 -.2 3.5 -.3 2 -.5 2 -1.2 2.5 -1.7 2.1 -2 1.5 -1.2 .6 -1.3 .4z M88.9 411.4l-2.3-.2 -2-.8 -2-1.5 -1.4-1.8 -1.1-2 -.7-2.5 -.4-2.7 -.2-3.8 .1-5.2 .4-4.5 .9-5 1.1-3.8 1.3-2.5 .8-1 .9-1 1.1-.7 1-.5 2-.4 1.2 .1 1.3 .4 2.7 1.6 2.5 1 .9 .8 .8 1.2 .6 1.8 .7 3 .2 2.2 -.1 2.3 -1 4.7 -.1 6.5 -.2 3.5 -.3 2.3 -.6 2 -.6 1.3 -.8 1.2 -.9 1.2 -1.1 1 -1 .7 -1.2 .6 -1.3 .3 -1.2 .2z M89.6 410.9l-2.2 0 -2-.6 -1.8-1 -1.6-1.7 -1.1-1.7 -.9-2.3 -.6-2.7 -.2-3.3 0-5.5 .3-4.7 .8-5 1.1-4 1.3-2.8 .7-1 .9-1 1-.7 1-.5 1.1-.4 1-.1 1.2 .1 1.3 .4 2.5 1.6 2.2 .9 .9 .7 .8 1.3 .7 1.7 .7 3 .3 2.3 -.2 2.2 -.9 4.5 -.1 6.5 -.2 3.3 -.3 2.2 -.5 1.8 -1.2 2.5 -1.7 2 -2 1.3 -1 .4 -1.3 .3z M90.1 410.4l-2 .2 -2-.4 -1.7-.9 -1.8-1.5 -1.2-1.7 -1-2.2 -.6-2.5 -.3-3 0-5.3 .3-5 .8-5.2 1-4 1.1-2.5 1.4-2.1 1-.8 1-.6 1-.4 1-.2 1.3 .1 1.2 .4 2.8 1.6 2 .9 .7 .6 .8 1 .6 1.7 .8 3 .3 2.3 -.1 2.2 -.9 4.3 -.2 8.7 -.3 2.5 -.5 2.3 -1 2.2 -1.5 2 -1 .9 -.9 .6 -2.1 .8z M89.6 410.1l-2 .1 -1.9-.6 -1.8-1.1 -1.4-1.4 -1.1-1.7 -.8-2 -.5-2.5 -.3-3 0-5.3 .4-4.7 .8-5.3 .9-3.7 1.2-2.7 1.5-1.8 .8-.7 1-.5 1-.4 1-.1 1.2 .1 1.3 .5 2.2 1.5 2 .9 .9 .7 .7 1.2 .6 1.8 .7 3 .2 2 -.1 2 -.9 4 -.1 8.7 -.3 2.5 -.5 2.3 -1.2 2.4 -1.5 1.8 -1 .8 -1 .6 -2 .6z M90.1 409.6l-2 .2 -1.7-.3 -1.8-.9 -1.7-1.5 -1.2-1.7 -.8-2 -.5-2.3 -.3-2.7 .1-5 .3-5.3 .8-5.2 .9-3.8 1.1-2.5 1.3-1.8 .9-.7 .9-.5 1-.3 1-.2 1.2 .2 1 .3 2.5 1.6 1.8 .8 .7 .6 .8 1.2 .5 1.6 .7 2.7 .3 2 -.1 2 -1 4.3 0 8.5 -.2 2.5 -.5 2 -1 2.2 -1.2 1.8 -1.8 1.4 -2 .8z M89.6 409.4l-2 0 -1.7-.5 -1.5-.9 -1.5-1.4 -1-1.6 -.7-1.9 -.5-2.2 -.3-2.8 .1-4.5 .4-5.2 .8-5.5 .9-3.8 .9-2.2 1.4-1.8 .7-.6 1-.6 1.8-.4 1.2 .2 1 .3 2.3 1.6 2 1 .6 .5 .6 1.1 .6 1.7 .6 2.5 .2 2 -.1 1.9 -.9 3.8 0 8.5 -.2 2.5 -.5 2.3 -1 2.2 -1.4 1.8 -1.8 1.3 -2 .7z M90.1 408.9l-1.7 .2 -1.8-.3 -1.5-.7 -1.5-1.2 -1.1-1.5 -.9-1.8 -.5-2.2 -.3-2.5 0-4.3 .4-5.5 .9-6.2 .8-3.5 .9-2.3 1.3-1.7 1.5-1.1 .8-.2 1-.2 1.2 .2 1 .4 2.3 1.6 1.5 .7 .7 .6 .7 1 .5 1.5 .6 2.2 .2 2 -.1 2 -.8 2.8 -.2 1.2 .2 8.3 -.2 2.5 -.4 2 -.9 2.2 -1.3 1.8 -1.5 1.2 -1.8 .8z M89.6 408.6l-1.7 .1 -1.5-.3 -1.5-.8 -1.3-1.2 -1.1-1.5 -.7-1.8 -.5-2 -.2-2.5 .1-3.5 .4-5.1 .9-7.1 .7-3.3 .9-2.2 1.1-1.5 1.4-1.1 .8-.3 1-.2 1 .1 1.1 .5 2.1 1.5 1.8 1 .5 .5 .7 1 .5 1.5 .5 2 .2 1.7 -.2 1.8 -.9 2.7 -.2 1.3 .4 8.5 -.2 2.5 -.4 2 -.9 2.1 -1.3 1.7 -1.7 1.3 -1.8 .6z M88.9 408.4l-1.5-.1 -1.5-.5 -1.3-.9 -1.2-1.3 -.9-1.5 -.6-1.7 -.3-1.8 -.2-2.2 .4-5.3 1.2-10.7 .6-2.8 .8-2 1.1-1.5 1.4-1 1.5-.3 1 .1 1 .4 2.2 1.7 1.5 .9 .6 .5 .6 1 .5 1.2 .4 1.8 .1 1.7 -.2 1.8 -.9 2.2 -.2 1.3 .6 8.7 -.2 2.5 -.5 2.3 -1 2.2 -1.3 1.6 -1.7 1.2 -1 .3 -1 .2z M89.6 407.9l-1.5 .1 -1.5-.3 -1.2-.6 -1.3-1.1 -1-1.4 -.6-1.5 -.5-2 -.2-2 .1-3.5 1.1-7 .5-6.2 .4-2.5 .7-1.9 1-1.4 1.3-1 1.5-.4 1 .1 1 .5 2.2 1.9 1.8 1.2 .5 .7 .5 1.2 .4 2.8 -.2 1.8 -1.2 2.2 -.2 1.3 .1 1.5 .6 4.2 .3 2.8 0 2.5 -.4 2.2 -.7 2 -1.2 1.9 -1.5 1.2 -1.8 .7z M88.9 407.6l-1.3 0 -1.4-.5 -1.1-.7 -1-1 -.8-1.3 -.6-1.5 -.4-1.7 -.2-1.8 .1-2 .3-2 1.6-6.5 .1-1.5 -.2-4.5 .4-2.7 .7-1.8 .9-1.2 1.1-.9 1.3-.3 1 .1 1 .5 2.2 2.2 1.5 1.1 .8 1.4 .3 2.1 0 1 -.3 .8 -1.5 1.5 -.3 .7 -.1 .8 .2 1.7 1.1 4.8 .4 2.5 .1 2.7 -.3 2.5 -.9 2.2 -1.2 1.7 -1.6 1.1 -.9 .4 -1 .1z M89.6 407.1l-1.2 .2 -1.3-.2 -1.2-.6 -1.1-.9 -.9-1.1 -.7-1.4 -.4-1.5 -.3-1.7 0-1.5 .3-1.8 .8-3 1-1.9 2.1-2.3 .2-.5 -.1-.5 -1.2-2 -.6-2 -.3-2.3 .2-2.2 .5-1.3 .8-1.2 .9-.8 1.3-.3 1.2 .2 1.2 .9 1.8 2.3 1.3 1.3 .2 .6 .1 .8 -.1 .7 -.2 .3 -1 .5 -.5 .6 -2.2 3.9 -.1 .5 .2 .5 2.1 2.3 .7 1.3 .5 1.2 .5 1.8 .3 1.9 .1 1.7 -.2 1.8 -.7 2.2 -1 1.6 -1.3 1.2 -1.7 .7z M89.4 385.1l-1.3 .2 -1.2-.5 -.5-.5 -.5-.7 -.4-1.5 0-1.7 .5-1.8 .9-1.1 .6-.4 .6-.2 1.3 .2 1 .7 .9 1.3 .5 1.5 0 1.3 -.5 1.5 -.9 1.2 -1 .5z M89.9 406.7l-1 .1 -1.3 0 -1-.3 -1-.6 -.8-.8 -.7-1 -.6-1.2 -.4-1.3 -.2-1.5 .1-1.5 .2-1.5 .4-1.5 .5-1 .8-1 1-.7 1-.4 1.2-.1 1.5 .1 1 .2 1 .5 .8 .7 .5 .7 .5 1 .4 1.5 .3 1.8 -.1 1.5 -.2 1.5 -.4 1.2 -.6 1.3 -.8 1 -1 .7 -1.1 .6z M88.9 383.4l-1-.1 -.8-.4 -.6-.8 -.2-1 0-1.2 .4-1 .7-.8 1-.4 .7 .1 .8 .6 .6 1 .3 1 -.1 1 -.4 1 -.7 .7 -.7 .3z M89.1 406.4l-1 0 -1-.2 -1-.5 -.7-.5 -.7-.8 -.6-1 -.4-1 -.3-1.3 0-1.5 .1-1.2 .3-1.3 .4-1 .5-.7 .7-.7 1-.5 1-.2 1.2-.1 1.3 .1 1 .3 .7 .4 .8 .8 .5 .8 .4 1.1 .3 1.2 0 1.5 -.1 1.3 -.3 1.2 -.6 1.3 -.7 1 -.8 .7 -1 .5 -1 .3z M88.9 381.3l-.8 0 -.5-.7 0-.5 .1-.5 .2-.3 .5-.2 .5 .1 .2 .2 .3 .5 0 .8 -.5 .6z M89.4 405.9l-.8 .1 -1-.1 -.8-.3 -.8-.5 -.6-.6 -.7-.9 -.5-1 -.2-1 -.1-2.2 .5-2 .5-.8 .7-.7 1.5-.7 2.3 0 1 .2 .7 .3 .8 .6 .4 .6 .7 1.7 .2 1.3 -.1 1.2 -.3 1.3 -.4 1 -.5 .8 -.8 .8 -.7 .5 -1 .4z M89.4 405.4l-1.5 0 -.8-.2 -.7-.4 -1.2-1.2 -.7-1.7 -.1-2 .5-1.8 .5-.7 .5-.5 1.2-.6 1.8-.1 1 .1 .7 .3 .8 .5 .4 .5 .7 1.5 .1 2 -.2 1 -.4 1 -.4 .8 -.7 .7 -.8 .5 -.7 .3z M89.1 404.9l-.7 .1 -.8-.2 -1.2-.7 -.9-1 -.5-1.5 0-1.5 .5-1.5 .9-.9 1.2-.5 1.5 0 .8 .2 .7 .3 .9 .9 .5 1.3 0 1.7 -.5 1.5 -1.1 1.2 -1.3 .6z M89.4 404.1l-1.3 .2 -1-.4 -.8-.8 -.5-1 -.2-1.2 .3-1.1 .6-.9 .9-.5 1-.2 1.2 .2 1 .6 .6 .9 .2 1.2 -.3 1.3 -.7 1.1 -1 .6z M88.9 403.4l-.8 0 -.7-.4 -.6-.6 -.2-.8 0-.7 .3-.7 .5-.5 .7-.3 .8 0 .7 .3 .5 .5 .3 .7 0 .7 -.3 .9 -.5 .5 -.7 .4z" fill="none" stroke="#1e2826" stroke-width="0.5"/>
<ellipse cx="88.5" cy="377.5" rx="8.8" ry="8.6" fill="url(#gCore)"/>
<ellipse cx="88.5" cy="404.3" rx="11" ry="10.5" fill="url(#gCore2)"/>
<g fill="#fff"><ellipse cx="88.5" cy="405.3" rx="3.4" ry="2" /></g>
<ellipse cx="88.10" cy="388.50" rx="20.60" ry="31.50" fill="none" stroke="#c27390" stroke-width="1.0"/>
<ellipse cx="142.50" cy="395.00" rx="36.25" ry="15.00" fill="none" stroke="#84d894" stroke-width="1.0"/>
<ellipse cx="140.60" cy="419.40" rx="24.40" ry="6.90" fill="none" stroke="#cc7fb8" stroke-width="1.0"/>
<ellipse cx="102.50" cy="430.50" rx="16.25" ry="14.50" fill="none" stroke="#7d8fc2" stroke-width="1.0"/>
<text x="52.00" y="352.50" font-family="'Liberation Sans', sans-serif" font-size="7.7" font-weight="bold" fill="#d22a6a" text-anchor="start" textLength="62.5" lengthAdjust="spacingAndGlyphs" >98% Erythrocytes</text>
<text x="126.30" y="375.00" font-family="'Liberation Sans', sans-serif" font-size="7.7" font-weight="bold" fill="#3cc23c" text-anchor="start" textLength="52.5" lengthAdjust="spacingAndGlyphs" >0.25% Myeloid</text>
<text x="155.00" y="440.50" font-family="'Liberation Sans', sans-serif" font-size="7.7" font-weight="bold" fill="#c8308c" text-anchor="start" textLength="11.5" lengthAdjust="spacingAndGlyphs" >N A</text>
<text x="99.50" y="457.50" font-family="'Liberation Sans', sans-serif" font-size="7.7" font-weight="bold" fill="#3a6cc4" text-anchor="start" textLength="60" lengthAdjust="spacingAndGlyphs" >1% Lymphocytes</text>
<text x="55.00" y="460.50" font-family="'Liberation Sans', sans-serif" font-size="12" font-weight="bold" fill="#111" text-anchor="start" textLength="30" lengthAdjust="spacingAndGlyphs" stroke="#000" stroke-width="0.35">Blood</text>
<path d="M215.30 338.50 H345.50 V469.00" fill="none" stroke="#7c7c7c" stroke-width="1"/>
<path d="M213.50 459.22H215.30 M213.50 453.49H215.30 M213.50 449.43H215.30 M213.50 446.28H215.30 M213.50 443.71H215.30 M213.50 441.53H215.30 M213.50 439.65H215.30 M213.50 437.99H215.30 M213.50 426.72H215.30 M213.50 420.99H215.30 M213.50 416.93H215.30 M213.50 413.78H215.30 M213.50 411.21H215.30 M213.50 409.03H215.30 M213.50 407.15H215.30 M213.50 405.49H215.30 M213.50 394.22H215.30 M213.50 388.49H215.30 M213.50 384.43H215.30 M213.50 381.28H215.30 M213.50 378.71H215.30 M213.50 376.53H215.30 M213.50 374.65H215.30 M213.50 372.99H215.30 M213.50 361.72H215.30 M213.50 355.99H215.30 M213.50 351.93H215.30 M213.50 348.78H215.30 M213.50 346.21H215.30 M213.50 344.03H215.30 M213.50 342.15H215.30 M213.50 340.49H215.30 M212.10 469.00H215.30 M212.10 436.50H215.30 M212.10 404.00H215.30 M212.10 371.50H215.30 M212.10 339.00H215.30 M215.30 469.00V472.00 M221.60 469.00V470.60 M227.90 469.00V470.60 M234.20 469.00V470.60 M240.50 469.00V472.00 M246.80 469.00V470.60 M253.10 469.00V470.60 M259.40 469.00V470.60 M265.70 469.00V472.00 M272.00 469.00V470.60 M278.30 469.00V470.60 M284.60 469.00V470.60 M290.90 469.00V472.00 M297.20 469.00V470.60 M303.50 469.00V470.60 M309.80 469.00V470.60 M316.10 469.00V472.00 M322.40 469.00V470.60 M328.70 469.00V470.60 M335.00 469.00V470.60 M341.30 469.00V472.00" stroke="#3f4846" stroke-width="0.9" fill="none"/>
<path d="M215.30 338.00 V469.00 H346.00" fill="none" stroke="#3f4846" stroke-width="1.3"/>
<text x="205.40" y="473.60" font-family="'Liberation Sans', sans-serif" font-size="8.6" font-weight="bold" fill="#111" text-anchor="end" stroke="#111" stroke-width="0.2">10</text>
<text x="205.90" y="468.20" font-family="'Liberation Sans', sans-serif" font-size="6.2" font-weight="bold" fill="#111" text-anchor="start" stroke="#111" stroke-width="0.2">0</text>
<text x="205.40" y="441.10" font-family="'Liberation Sans', sans-serif" font-size="8.6" font-weight="bold" fill="#111" text-anchor="end" stroke="#111" stroke-width="0.2">10</text>
<text x="205.90" y="435.70" font-family="'Liberation Sans', sans-serif" font-size="6.2" font-weight="bold" fill="#111" text-anchor="start" stroke="#111" stroke-width="0.2">1</text>
<text x="205.40" y="408.60" font-family="'Liberation Sans', sans-serif" font-size="8.6" font-weight="bold" fill="#111" text-anchor="end" stroke="#111" stroke-width="0.2">10</text>
<text x="205.90" y="403.20" font-family="'Liberation Sans', sans-serif" font-size="6.2" font-weight="bold" fill="#111" text-anchor="start" stroke="#111" stroke-width="0.2">2</text>
<text x="205.40" y="376.10" font-family="'Liberation Sans', sans-serif" font-size="8.6" font-weight="bold" fill="#111" text-anchor="end" stroke="#111" stroke-width="0.2">10</text>
<text x="205.90" y="370.70" font-family="'Liberation Sans', sans-serif" font-size="6.2" font-weight="bold" fill="#111" text-anchor="start" stroke="#111" stroke-width="0.2">3</text>
<text x="205.40" y="343.60" font-family="'Liberation Sans', sans-serif" font-size="8.6" font-weight="bold" fill="#111" text-anchor="end" stroke="#111" stroke-width="0.2">10</text>
<text x="205.90" y="338.20" font-family="'Liberation Sans', sans-serif" font-size="6.2" font-weight="bold" fill="#111" text-anchor="start" stroke="#111" stroke-width="0.2">4</text>
<text x="215.30" y="480.40" font-family="'Liberation Sans', sans-serif" font-size="8.6" font-weight="bold" fill="#111" text-anchor="middle" stroke="#111" stroke-width="0.2">0</text>
<text x="240.50" y="480.40" font-family="'Liberation Sans', sans-serif" font-size="8.6" font-weight="bold" fill="#111" text-anchor="middle" stroke="#111" stroke-width="0.2">200</text>
<text x="265.70" y="480.40" font-family="'Liberation Sans', sans-serif" font-size="8.6" font-weight="bold" fill="#111" text-anchor="middle" stroke="#111" stroke-width="0.2">400</text>
<text x="290.90" y="480.40" font-family="'Liberation Sans', sans-serif" font-size="8.6" font-weight="bold" fill="#111" text-anchor="middle" stroke="#111" stroke-width="0.2">600</text>
<text x="316.10" y="480.40" font-family="'Liberation Sans', sans-serif" font-size="8.6" font-weight="bold" fill="#111" text-anchor="middle" stroke="#111" stroke-width="0.2">800</text>
<text x="341.30" y="480.40" font-family="'Liberation Sans', sans-serif" font-size="8.6" font-weight="bold" fill="#111" text-anchor="middle" stroke="#111" stroke-width="0.2">1000</text>
<text x="281.15" y="492.00" font-family="'Liberation Sans', sans-serif" font-size="8.4" font-weight="bold" fill="#111" text-anchor="middle" stroke="#111" stroke-width="0.2">FSC</text>
<text transform="translate(194.00,404.00) rotate(-90)" font-family="'Liberation Sans', sans-serif" font-size="8.4" font-weight="bold" fill="#111" text-anchor="middle" stroke="#111" stroke-width="0.2">SSC</text>
<path d="M267.0 426.2h0.6v0.6h-0.6zM263.7 420.6h0.6v0.6h-0.6zM269.7 423.6h0.6v0.6h-0.6zM265.8 426.0h0.6v0.6h-0.6zM281.7 420.4h0.6v0.6h-0.6zM279.6 413.9h0.6v0.6h-0.6zM276.9 420.7h0.6v0.6h-0.6zM269.6 420.7h0.6v0.6h-0.6zM265.1 417.1h0.6v0.6h-0.6zM266.5 427.0h0.6v0.6h-0.6zM275.4 420.7h0.6v0.6h-0.6zM265.8 419.3h0.6v0.6h-0.6zM261.9 428.9h0.6v0.6h-0.6zM272.6 422.5h0.6v0.6h-0.6zM266.0 418.1h0.6v0.6h-0.6zM276.4 425.0h0.6v0.6h-0.6zM263.3 425.8h0.6v0.6h-0.6zM262.4 424.5h0.6v0.6h-0.6zM263.3 420.4h0.6v0.6h-0.6zM271.7 423.7h0.6v0.6h-0.6zM274.6 418.8h0.6v0.6h-0.6zM277.9 427.2h0.6v0.6h-0.6zM268.7 423.8h0.6v0.6h-0.6zM264.3 421.4h0.6v0.6h-0.6zM261.2 422.3h0.6v0.6h-0.6zM269.9 427.2h0.6v0.6h-0.6zM274.3 425.1h0.6v0.6h-0.6zM266.7 421.1h0.6v0.6h-0.6zM266.8 422.9h0.6v0.6h-0.6zM257.7 425.0h0.6v0.6h-0.6zM259.8 420.0h0.6v0.6h-0.6zM268.9 420.0h0.6v0.6h-0.6zM278.4 421.6h0.6v0.6h-0.6zM277.9 426.5h0.6v0.6h-0.6zM265.9 423.5h0.6v0.6h-0.6zM276.3 420.7h0.6v0.6h-0.6zM269.3 419.9h0.6v0.6h-0.6zM269.1 420.6h0.6v0.6h-0.6zM269.3 425.8h0.6v0.6h-0.6zM276.8 422.5h0.6v0.6h-0.6zM270.0 425.3h0.6v0.6h-0.6zM267.1 417.9h0.6v0.6h-0.6zM275.2 418.4h0.6v0.6h-0.6zM274.2 418.3h0.6v0.6h-0.6zM279.3 418.0h0.6v0.6h-0.6zM273.7 427.8h0.6v0.6h-0.6zM263.3 427.7h0.6v0.6h-0.6zM264.1 415.2h0.6v0.6h-0.6zM273.0 424.7h0.6v0.6h-0.6zM267.6 412.3h0.6v0.6h-0.6zM268.5 420.8h0.6v0.6h-0.6zM266.6 420.9h0.6v0.6h-0.6zM258.5 419.8h0.6v0.6h-0.6zM279.2 427.9h0.6v0.6h-0.6zM266.7 419.3h0.6v0.6h-0.6zM271.1 426.1h0.6v0.6h-0.6zM273.0 417.5h0.6v0.6h-0.6zM269.7 422.5h0.6v0.6h-0.6zM277.1 426.6h0.6v0.6h-0.6zM271.8 426.7h0.6v0.6h-0.6zM266.5 427.9h0.6v0.6h-0.6zM266.3 423.5h0.6v0.6h-0.6zM274.1 418.5h0.6v0.6h-0.6zM264.8 415.2h0.6v0.6h-0.6zM269.7 421.8h0.6v0.6h-0.6zM266.9 423.9h0.6v0.6h-0.6zM256.6 421.9h0.6v0.6h-0.6zM269.3 421.0h0.6v0.6h-0.6zM273.4 428.7h0.6v0.6h-0.6zM266.2 418.4h0.6v0.6h-0.6zM265.3 422.4h0.6v0.6h-0.6zM272.2 418.7h0.6v0.6h-0.6zM274.6 418.1h0.6v0.6h-0.6zM273.6 423.6h0.6v0.6h-0.6zM271.5 430.3h0.6v0.6h-0.6zM267.3 421.4h0.6v0.6h-0.6zM271.5 425.3h0.6v0.6h-0.6zM261.1 423.1h0.6v0.6h-0.6zM264.5 424.4h0.6v0.6h-0.6zM276.7 422.2h0.6v0.6h-0.6zM268.2 422.7h0.6v0.6h-0.6zM251.8 425.0h0.6v0.6h-0.6zM272.0 422.6h0.6v0.6h-0.6zM266.5 419.2h0.6v0.6h-0.6zM267.8 426.7h0.6v0.6h-0.6zM268.2 427.2h0.6v0.6h-0.6zM254.0 420.2h0.6v0.6h-0.6zM270.4 421.9h0.6v0.6h-0.6zM259.2 419.4h0.6v0.6h-0.6zM276.0 417.0h0.6v0.6h-0.6zM263.1 417.8h0.6v0.6h-0.6zM265.6 424.5h0.6v0.6h-0.6zM272.2 414.2h0.6v0.6h-0.6zM277.2 419.7h0.6v0.6h-0.6zM265.4 428.4h0.6v0.6h-0.6zM268.3 417.2h0.6v0.6h-0.6zM265.1 419.2h0.6v0.6h-0.6zM263.0 420.7h0.6v0.6h-0.6zM273.9 423.3h0.6v0.6h-0.6zM260.8 432.7h0.6v0.6h-0.6zM263.1 422.4h0.6v0.6h-0.6zM269.0 424.9h0.6v0.6h-0.6zM266.9 423.8h0.6v0.6h-0.6zM280.9 422.4h0.6v0.6h-0.6zM262.6 423.3h0.6v0.6h-0.6zM264.2 420.6h0.6v0.6h-0.6zM269.9 423.3h0.6v0.6h-0.6zM267.2 425.3h0.6v0.6h-0.6zM267.7 417.0h0.6v0.6h-0.6zM273.9 420.6h0.6v0.6h-0.6z" fill="#444" opacity="0.75"/>
<path d="M328.3 400.8h0.6v0.6h-0.6zM256.8 372.5h0.6v0.6h-0.6zM299.3 429.1h0.6v0.6h-0.6zM280.3 414.2h0.6v0.6h-0.6zM286.4 420.8h0.6v0.6h-0.6zM255.8 393.9h0.6v0.6h-0.6zM326.4 379.3h0.6v0.6h-0.6zM271.9 361.6h0.6v0.6h-0.6zM264.0 378.8h0.6v0.6h-0.6zM309.9 375.3h0.6v0.6h-0.6zM284.0 374.0h0.6v0.6h-0.6zM301.2 420.5h0.6v0.6h-0.6zM305.1 373.8h0.6v0.6h-0.6zM312.4 427.4h0.6v0.6h-0.6zM301.1 365.6h0.6v0.6h-0.6zM318.8 421.3h0.6v0.6h-0.6zM279.0 369.6h0.6v0.6h-0.6zM266.0 397.6h0.6v0.6h-0.6zM324.4 404.8h0.6v0.6h-0.6zM328.4 374.9h0.6v0.6h-0.6z" fill="#999" opacity="0.6"/>
<ellipse cx="252.10" cy="385.70" rx="19.50" ry="32.90" fill="none" stroke="#c27390" stroke-width="1.0"/>
<ellipse cx="307.70" cy="392.70" rx="35.00" ry="15.60" fill="none" stroke="#84d894" stroke-width="1.0"/>
<ellipse cx="304.00" cy="415.70" rx="25.50" ry="7.40" fill="none" stroke="#cc7fb8" stroke-width="1.0"/>
<ellipse cx="267.90" cy="427.30" rx="15.90" ry="14.50" fill="none" stroke="#7d8fc2" stroke-width="1.0"/>
<path d="M49.50 501.50 H180.50 V632.50" fill="none" stroke="#7c7c7c" stroke-width="1"/>
<path d="M47.70 622.66H49.50 M47.70 616.91H49.50 M47.70 612.83H49.50 M47.70 609.66H49.50 M47.70 607.07H49.50 M47.70 604.89H49.50 M47.70 602.99H49.50 M47.70 601.32H49.50 M47.70 589.99H49.50 M47.70 584.24H49.50 M47.70 580.15H49.50 M47.70 576.99H49.50 M47.70 574.40H49.50 M47.70 572.21H49.50 M47.70 570.32H49.50 M47.70 568.65H49.50 M47.70 557.31H49.50 M47.70 551.56H49.50 M47.70 547.48H49.50 M47.70 544.31H49.50 M47.70 541.72H49.50 M47.70 539.54H49.50 M47.70 537.64H49.50 M47.70 535.97H49.50 M47.70 524.64H49.50 M47.70 518.89H49.50 M47.70 514.80H49.50 M47.70 511.64H49.50 M47.70 509.05H49.50 M47.70 506.86H49.50 M47.70 504.97H49.50 M47.70 503.30H49.50 M46.30 632.50H49.50 M46.30 599.83H49.50 M46.30 567.15H49.50 M46.30 534.48H49.50 M46.30 501.80H49.50 M49.50 632.50V635.50 M55.80 632.50V634.10 M62.10 632.50V634.10 M68.40 632.50V634.10 M74.70 632.50V635.50 M81.00 632.50V634.10 M87.30 632.50V634.10 M93.60 632.50V634.10 M99.90 632.50V635.50 M106.20 632.50V634.10 M112.50 632.50V634.10 M118.80 632.50V634.10 M125.10 632.50V635.50 M131.40 632.50V634.10 M137.70 632.50V634.10 M144.00 632.50V634.10 M150.30 632.50V635.50 M156.60 632.50V634.10 M162.90 632.50V634.10 M169.20 632.50V634.10 M175.50 632.50V635.50" stroke="#3f4846" stroke-width="0.9" fill="none"/>
<path d="M49.50 500.80 V632.50 H180.50" fill="none" stroke="#3f4846" stroke-width="1.3"/>
<text x="39.60" y="637.10" font-family="'Liberation Sans', sans-serif" font-size="8.6" font-weight="bold" fill="#111" text-anchor="end" stroke="#111" stroke-width="0.2">10</text>
<text x="40.10" y="631.70" font-family="'Liberation Sans', sans-serif" font-size="6.2" font-weight="bold" fill="#111" text-anchor="start" stroke="#111" stroke-width="0.2">0</text>
<text x="39.60" y="604.43" font-family="'Liberation Sans', sans-serif" font-size="8.6" font-weight="bold" fill="#111" text-anchor="end" stroke="#111" stroke-width="0.2">10</text>
<text x="40.10" y="599.03" font-family="'Liberation Sans', sans-serif" font-size="6.2" font-weight="bold" fill="#111" text-anchor="start" stroke="#111" stroke-width="0.2">1</text>
<text x="39.60" y="571.75" font-family="'Liberation Sans', sans-serif" font-size="8.6" font-weight="bold" fill="#111" text-anchor="end" stroke="#111" stroke-width="0.2">10</text>
<text x="40.10" y="566.35" font-family="'Liberation Sans', sans-serif" font-size="6.2" font-weight="bold" fill="#111" text-anchor="start" stroke="#111" stroke-width="0.2">2</text>
<text x="39.60" y="539.08" font-family="'Liberation Sans', sans-serif" font-size="8.6" font-weight="bold" fill="#111" text-anchor="end" stroke="#111" stroke-width="0.2">10</text>
<text x="40.10" y="533.68" font-family="'Liberation Sans', sans-serif" font-size="6.2" font-weight="bold" fill="#111" text-anchor="start" stroke="#111" stroke-width="0.2">3</text>
<text x="39.60" y="506.40" font-family="'Liberation Sans', sans-serif" font-size="8.6" font-weight="bold" fill="#111" text-anchor="end" stroke="#111" stroke-width="0.2">10</text>
<text x="40.10" y="501.00" font-family="'Liberation Sans', sans-serif" font-size="6.2" font-weight="bold" fill="#111" text-anchor="start" stroke="#111" stroke-width="0.2">4</text>
<text x="49.50" y="643.90" font-family="'Liberation Sans', sans-serif" font-size="8.6" font-weight="bold" fill="#111" text-anchor="middle" stroke="#111" stroke-width="0.2">0</text>
<text x="74.70" y="643.90" font-family="'Liberation Sans', sans-serif" font-size="8.6" font-weight="bold" fill="#111" text-anchor="middle" stroke="#111" stroke-width="0.2">200</text>
<text x="99.90" y="643.90" font-family="'Liberation Sans', sans-serif" font-size="8.6" font-weight="bold" fill="#111" text-anchor="middle" stroke="#111" stroke-width="0.2">400</text>
<text x="125.10" y="643.90" font-family="'Liberation Sans', sans-serif" font-size="8.6" font-weight="bold" fill="#111" text-anchor="middle" stroke="#111" stroke-width="0.2">600</text>
<text x="150.30" y="643.90" font-family="'Liberation Sans', sans-serif" font-size="8.6" font-weight="bold" fill="#111" text-anchor="middle" stroke="#111" stroke-width="0.2">800</text>
<text x="175.50" y="643.90" font-family="'Liberation Sans', sans-serif" font-size="8.6" font-weight="bold" fill="#111" text-anchor="middle" stroke="#111" stroke-width="0.2">1000</text>
<text x="115.50" y="655.50" font-family="'Liberation Sans', sans-serif" font-size="8.4" font-weight="bold" fill="#111" text-anchor="middle" stroke="#111" stroke-width="0.2">FSC</text>
<text transform="translate(28.20,567.15) rotate(-90)" font-family="'Liberation Sans', sans-serif" font-size="8.4" font-weight="bold" fill="#111" text-anchor="middle" stroke="#111" stroke-width="0.2">SSC</text>
<path d="M109.8 578.6h0.6v0.6h-0.6zM111.2 541.9h0.6v0.6h-0.6zM112.9 541.9h0.6v0.6h-0.6zM123.7 560.8h0.6v0.6h-0.6zM126.8 561.3h0.6v0.6h-0.6zM111.3 571.1h0.6v0.6h-0.6zM111.0 547.9h0.6v0.6h-0.6zM114.7 555.6h0.6v0.6h-0.6zM125.2 545.7h0.6v0.6h-0.6zM118.7 554.6h0.6v0.6h-0.6zM106.3 538.1h0.6v0.6h-0.6zM114.3 561.2h0.6v0.6h-0.6zM118.5 562.4h0.6v0.6h-0.6zM116.4 548.1h0.6v0.6h-0.6zM119.3 539.6h0.6v0.6h-0.6zM105.7 549.9h0.6v0.6h-0.6zM105.0 547.1h0.6v0.6h-0.6zM110.2 546.5h0.6v0.6h-0.6zM115.7 542.7h0.6v0.6h-0.6zM112.7 528.6h0.6v0.6h-0.6zM117.1 541.4h0.6v0.6h-0.6zM119.1 511.4h0.6v0.6h-0.6zM109.8 558.7h0.6v0.6h-0.6zM97.2 549.4h0.6v0.6h-0.6zM116.7 556.6h0.6v0.6h-0.6zM104.5 558.5h0.6v0.6h-0.6zM117.1 540.0h0.6v0.6h-0.6zM121.7 554.2h0.6v0.6h-0.6zM116.1 548.1h0.6v0.6h-0.6zM120.2 556.5h0.6v0.6h-0.6zM124.8 562.0h0.6v0.6h-0.6zM111.2 551.6h0.6v0.6h-0.6zM123.1 549.4h0.6v0.6h-0.6zM119.0 563.1h0.6v0.6h-0.6zM114.6 519.0h0.6v0.6h-0.6zM117.0 558.3h0.6v0.6h-0.6zM117.0 543.3h0.6v0.6h-0.6zM125.3 552.9h0.6v0.6h-0.6zM111.2 543.9h0.6v0.6h-0.6zM118.8 538.1h0.6v0.6h-0.6zM108.3 585.9h0.6v0.6h-0.6zM126.1 571.3h0.6v0.6h-0.6zM126.6 564.2h0.6v0.6h-0.6zM103.0 573.5h0.6v0.6h-0.6zM125.6 562.6h0.6v0.6h-0.6zM100.9 574.2h0.6v0.6h-0.6zM126.6 547.4h0.6v0.6h-0.6zM117.0 567.0h0.6v0.6h-0.6zM115.3 572.0h0.6v0.6h-0.6zM116.6 565.7h0.6v0.6h-0.6zM116.7 532.1h0.6v0.6h-0.6zM108.3 604.1h0.6v0.6h-0.6zM118.2 575.3h0.6v0.6h-0.6zM124.8 581.6h0.6v0.6h-0.6zM120.3 545.8h0.6v0.6h-0.6zM116.1 525.2h0.6v0.6h-0.6zM114.5 569.1h0.6v0.6h-0.6zM99.2 558.1h0.6v0.6h-0.6zM122.4 575.6h0.6v0.6h-0.6zM108.8 544.9h0.6v0.6h-0.6zM101.4 539.2h0.6v0.6h-0.6zM120.1 587.1h0.6v0.6h-0.6zM107.1 576.4h0.6v0.6h-0.6zM119.3 547.3h0.6v0.6h-0.6zM133.0 515.8h0.6v0.6h-0.6zM115.5 558.4h0.6v0.6h-0.6zM132.5 582.9h0.6v0.6h-0.6zM133.6 557.1h0.6v0.6h-0.6zM123.6 576.2h0.6v0.6h-0.6zM120.0 560.6h0.6v0.6h-0.6zM114.6 548.7h0.6v0.6h-0.6zM106.4 585.3h0.6v0.6h-0.6zM112.5 522.7h0.6v0.6h-0.6zM118.1 554.5h0.6v0.6h-0.6zM117.4 583.2h0.6v0.6h-0.6zM115.2 550.9h0.6v0.6h-0.6zM110.2 554.7h0.6v0.6h-0.6zM112.6 558.2h0.6v0.6h-0.6zM140.3 561.1h0.6v0.6h-0.6zM109.3 585.0h0.6v0.6h-0.6zM122.7 567.7h0.6v0.6h-0.6zM121.6 567.8h0.6v0.6h-0.6zM121.3 577.0h0.6v0.6h-0.6zM123.8 576.0h0.6v0.6h-0.6zM112.1 555.0h0.6v0.6h-0.6zM110.3 569.9h0.6v0.6h-0.6zM122.5 547.7h0.6v0.6h-0.6zM120.6 595.9h0.6v0.6h-0.6zM125.6 537.6h0.6v0.6h-0.6zM115.3 564.9h0.6v0.6h-0.6zM115.7 561.0h0.6v0.6h-0.6zM125.2 560.1h0.6v0.6h-0.6zM107.5 566.1h0.6v0.6h-0.6zM115.2 556.8h0.6v0.6h-0.6zM111.6 533.5h0.6v0.6h-0.6zM106.3 549.5h0.6v0.6h-0.6zM107.7 512.7h0.6v0.6h-0.6zM124.9 536.9h0.6v0.6h-0.6zM110.4 563.3h0.6v0.6h-0.6zM97.2 575.9h0.6v0.6h-0.6zM110.0 565.3h0.6v0.6h-0.6zM112.2 559.8h0.6v0.6h-0.6zM116.8 555.0h0.6v0.6h-0.6zM101.8 532.1h0.6v0.6h-0.6zM115.7 577.0h0.6v0.6h-0.6zM111.7 563.3h0.6v0.6h-0.6zM117.3 562.5h0.6v0.6h-0.6zM123.7 531.6h0.6v0.6h-0.6zM118.1 552.2h0.6v0.6h-0.6zM113.6 541.7h0.6v0.6h-0.6zM109.9 539.0h0.6v0.6h-0.6zM107.4 594.1h0.6v0.6h-0.6zM129.2 555.2h0.6v0.6h-0.6zM121.8 539.8h0.6v0.6h-0.6zM94.3 526.6h0.6v0.6h-0.6zM117.1 577.4h0.6v0.6h-0.6zM115.7 539.4h0.6v0.6h-0.6zM114.1 539.4h0.6v0.6h-0.6zM105.1 551.4h0.6v0.6h-0.6zM112.9 542.3h0.6v0.6h-0.6zM109.1 540.5h0.6v0.6h-0.6zM117.8 576.7h0.6v0.6h-0.6zM114.4 589.9h0.6v0.6h-0.6zM103.4 559.3h0.6v0.6h-0.6zM107.0 552.5h0.6v0.6h-0.6zM116.8 563.7h0.6v0.6h-0.6zM124.8 546.3h0.6v0.6h-0.6zM106.3 552.1h0.6v0.6h-0.6zM118.3 544.1h0.6v0.6h-0.6zM123.0 581.3h0.6v0.6h-0.6zM104.9 560.7h0.6v0.6h-0.6zM123.9 525.0h0.6v0.6h-0.6zM117.6 551.5h0.6v0.6h-0.6zM104.9 575.5h0.6v0.6h-0.6zM117.7 547.5h0.6v0.6h-0.6zM119.5 565.0h0.6v0.6h-0.6zM122.0 564.0h0.6v0.6h-0.6zM119.2 536.7h0.6v0.6h-0.6zM112.7 557.0h0.6v0.6h-0.6zM94.4 588.2h0.6v0.6h-0.6zM113.0 538.6h0.6v0.6h-0.6zM101.8 558.9h0.6v0.6h-0.6zM116.3 545.9h0.6v0.6h-0.6zM112.8 541.1h0.6v0.6h-0.6zM110.2 553.5h0.6v0.6h-0.6zM111.0 565.6h0.6v0.6h-0.6zM114.9 557.1h0.6v0.6h-0.6zM119.2 574.8h0.6v0.6h-0.6zM120.7 558.6h0.6v0.6h-0.6zM114.7 542.4h0.6v0.6h-0.6zM113.3 565.6h0.6v0.6h-0.6zM117.8 549.0h0.6v0.6h-0.6zM105.6 531.1h0.6v0.6h-0.6zM118.5 571.0h0.6v0.6h-0.6zM118.9 533.6h0.6v0.6h-0.6zM114.3 558.5h0.6v0.6h-0.6zM108.8 560.4h0.6v0.6h-0.6zM114.4 542.0h0.6v0.6h-0.6zM106.3 567.6h0.6v0.6h-0.6zM118.8 541.2h0.6v0.6h-0.6zM108.1 568.9h0.6v0.6h-0.6zM120.6 550.3h0.6v0.6h-0.6zM128.4 550.5h0.6v0.6h-0.6zM107.8 572.0h0.6v0.6h-0.6zM114.5 560.4h0.6v0.6h-0.6zM116.3 539.4h0.6v0.6h-0.6zM106.7 552.0h0.6v0.6h-0.6zM127.0 539.4h0.6v0.6h-0.6zM126.6 558.4h0.6v0.6h-0.6zM107.3 559.2h0.6v0.6h-0.6zM120.4 541.0h0.6v0.6h-0.6zM99.4 560.6h0.6v0.6h-0.6zM107.4 561.9h0.6v0.6h-0.6zM101.1 552.8h0.6v0.6h-0.6zM109.7 531.9h0.6v0.6h-0.6zM114.1 557.7h0.6v0.6h-0.6zM111.7 536.6h0.6v0.6h-0.6zM117.7 527.8h0.6v0.6h-0.6zM120.2 562.6h0.6v0.6h-0.6zM129.1 568.7h0.6v0.6h-0.6zM118.8 559.1h0.6v0.6h-0.6zM116.2 534.4h0.6v0.6h-0.6zM127.4 563.2h0.6v0.6h-0.6zM113.8 537.2h0.6v0.6h-0.6zM127.5 563.3h0.6v0.6h-0.6zM106.8 565.4h0.6v0.6h-0.6zM130.7 554.6h0.6v0.6h-0.6zM119.1 548.5h0.6v0.6h-0.6zM111.1 571.7h0.6v0.6h-0.6zM139.9 556.8h0.6v0.6h-0.6zM115.0 567.3h0.6v0.6h-0.6zM113.6 566.3h0.6v0.6h-0.6zM122.4 539.2h0.6v0.6h-0.6zM107.7 553.8h0.6v0.6h-0.6zM122.5 559.3h0.6v0.6h-0.6zM125.6 533.6h0.6v0.6h-0.6zM119.8 545.3h0.6v0.6h-0.6zM116.8 560.0h0.6v0.6h-0.6zM108.5 551.4h0.6v0.6h-0.6zM107.0 559.1h0.6v0.6h-0.6zM109.4 547.3h0.6v0.6h-0.6zM117.7 544.9h0.6v0.6h-0.6zM124.9 545.1h0.6v0.6h-0.6zM122.6 559.4h0.6v0.6h-0.6zM108.0 551.6h0.6v0.6h-0.6zM109.5 549.4h0.6v0.6h-0.6zM113.9 583.2h0.6v0.6h-0.6zM112.7 579.3h0.6v0.6h-0.6zM119.5 534.7h0.6v0.6h-0.6zM98.1 565.5h0.6v0.6h-0.6zM100.6 566.1h0.6v0.6h-0.6zM124.0 561.1h0.6v0.6h-0.6zM114.4 551.1h0.6v0.6h-0.6zM118.0 550.3h0.6v0.6h-0.6zM111.9 549.3h0.6v0.6h-0.6zM125.1 545.4h0.6v0.6h-0.6zM118.9 537.2h0.6v0.6h-0.6zM110.5 533.7h0.6v0.6h-0.6zM114.5 565.6h0.6v0.6h-0.6zM118.4 547.4h0.6v0.6h-0.6zM120.7 549.6h0.6v0.6h-0.6zM118.9 559.2h0.6v0.6h-0.6zM120.2 516.6h0.6v0.6h-0.6zM105.9 567.0h0.6v0.6h-0.6zM115.2 589.7h0.6v0.6h-0.6zM114.2 546.5h0.6v0.6h-0.6zM127.6 563.6h0.6v0.6h-0.6zM130.7 562.9h0.6v0.6h-0.6zM114.4 566.2h0.6v0.6h-0.6zM109.9 548.1h0.6v0.6h-0.6zM111.7 551.6h0.6v0.6h-0.6zM122.0 547.6h0.6v0.6h-0.6zM118.5 547.3h0.6v0.6h-0.6zM122.8 512.4h0.6v0.6h-0.6zM114.4 557.6h0.6v0.6h-0.6zM107.7 570.7h0.6v0.6h-0.6zM117.7 574.8h0.6v0.6h-0.6zM123.4 564.9h0.6v0.6h-0.6zM114.8 538.2h0.6v0.6h-0.6zM114.3 547.9h0.6v0.6h-0.6zM117.9 547.8h0.6v0.6h-0.6zM139.6 530.3h0.6v0.6h-0.6zM125.1 547.7h0.6v0.6h-0.6zM114.1 569.3h0.6v0.6h-0.6zM116.0 536.3h0.6v0.6h-0.6zM119.2 552.0h0.6v0.6h-0.6zM100.1 558.1h0.6v0.6h-0.6zM107.8 543.5h0.6v0.6h-0.6zM119.7 559.6h0.6v0.6h-0.6zM113.8 588.5h0.6v0.6h-0.6zM119.2 545.5h0.6v0.6h-0.6zM117.8 553.1h0.6v0.6h-0.6zM99.0 530.7h0.6v0.6h-0.6zM105.3 586.9h0.6v0.6h-0.6zM114.6 550.7h0.6v0.6h-0.6zM111.6 570.2h0.6v0.6h-0.6zM116.2 581.3h0.6v0.6h-0.6zM122.1 580.4h0.6v0.6h-0.6zM115.1 560.8h0.6v0.6h-0.6zM112.7 552.4h0.6v0.6h-0.6zM102.6 546.0h0.6v0.6h-0.6zM108.7 544.9h0.6v0.6h-0.6zM125.4 559.0h0.6v0.6h-0.6zM125.5 568.2h0.6v0.6h-0.6zM123.1 570.5h0.6v0.6h-0.6zM111.3 567.4h0.6v0.6h-0.6zM113.5 546.8h0.6v0.6h-0.6zM125.2 588.4h0.6v0.6h-0.6zM108.5 581.8h0.6v0.6h-0.6zM122.4 541.9h0.6v0.6h-0.6zM118.1 560.7h0.6v0.6h-0.6zM118.9 549.5h0.6v0.6h-0.6zM106.1 555.5h0.6v0.6h-0.6zM122.6 567.1h0.6v0.6h-0.6zM121.1 572.0h0.6v0.6h-0.6zM108.4 554.3h0.6v0.6h-0.6zM118.6 570.4h0.6v0.6h-0.6zM117.2 563.0h0.6v0.6h-0.6zM117.0 587.3h0.6v0.6h-0.6zM99.2 554.6h0.6v0.6h-0.6zM135.1 558.6h0.6v0.6h-0.6zM101.9 557.1h0.6v0.6h-0.6zM105.0 544.5h0.6v0.6h-0.6zM117.7 581.4h0.6v0.6h-0.6zM119.6 565.3h0.6v0.6h-0.6zM123.8 558.1h0.6v0.6h-0.6zM109.4 553.5h0.6v0.6h-0.6zM118.6 550.7h0.6v0.6h-0.6zM110.9 549.5h0.6v0.6h-0.6zM104.4 539.2h0.6v0.6h-0.6zM115.3 549.4h0.6v0.6h-0.6zM116.3 576.6h0.6v0.6h-0.6zM118.3 554.5h0.6v0.6h-0.6zM107.0 538.4h0.6v0.6h-0.6zM118.9 541.6h0.6v0.6h-0.6zM119.3 538.5h0.6v0.6h-0.6zM117.0 553.9h0.6v0.6h-0.6zM123.7 549.0h0.6v0.6h-0.6zM113.1 558.8h0.6v0.6h-0.6zM116.4 581.0h0.6v0.6h-0.6zM114.0 546.7h0.6v0.6h-0.6zM113.5 562.3h0.6v0.6h-0.6zM117.8 565.7h0.6v0.6h-0.6zM105.3 593.1h0.6v0.6h-0.6zM130.2 554.5h0.6v0.6h-0.6zM106.7 557.4h0.6v0.6h-0.6zM119.2 520.6h0.6v0.6h-0.6zM116.1 532.2h0.6v0.6h-0.6zM119.5 576.3h0.6v0.6h-0.6zM124.0 531.8h0.6v0.6h-0.6zM126.6 569.0h0.6v0.6h-0.6zM113.2 562.7h0.6v0.6h-0.6zM127.7 549.9h0.6v0.6h-0.6zM115.9 546.4h0.6v0.6h-0.6zM124.9 521.8h0.6v0.6h-0.6zM126.9 540.1h0.6v0.6h-0.6zM123.1 530.0h0.6v0.6h-0.6zM108.8 545.8h0.6v0.6h-0.6zM122.4 530.0h0.6v0.6h-0.6zM120.6 545.2h0.6v0.6h-0.6zM125.6 550.2h0.6v0.6h-0.6zM119.7 552.4h0.6v0.6h-0.6zM129.8 549.5h0.6v0.6h-0.6zM115.8 585.5h0.6v0.6h-0.6zM116.6 565.6h0.6v0.6h-0.6zM110.3 558.1h0.6v0.6h-0.6zM98.5 556.6h0.6v0.6h-0.6zM111.0 531.9h0.6v0.6h-0.6zM105.1 572.6h0.6v0.6h-0.6zM119.3 531.7h0.6v0.6h-0.6zM130.0 544.3h0.6v0.6h-0.6zM113.2 558.8h0.6v0.6h-0.6zM107.2 530.1h0.6v0.6h-0.6zM110.3 573.2h0.6v0.6h-0.6zM123.3 530.7h0.6v0.6h-0.6zM125.3 555.5h0.6v0.6h-0.6zM119.9 555.8h0.6v0.6h-0.6zM119.2 539.6h0.6v0.6h-0.6zM109.0 544.2h0.6v0.6h-0.6zM113.2 564.5h0.6v0.6h-0.6zM106.6 579.5h0.6v0.6h-0.6zM111.1 545.9h0.6v0.6h-0.6zM121.4 561.7h0.6v0.6h-0.6zM113.4 538.5h0.6v0.6h-0.6zM108.3 530.4h0.6v0.6h-0.6zM124.8 571.7h0.6v0.6h-0.6zM130.4 562.7h0.6v0.6h-0.6zM118.6 566.7h0.6v0.6h-0.6zM123.3 551.0h0.6v0.6h-0.6zM118.7 588.2h0.6v0.6h-0.6z" fill="#222" opacity="0.8"/>
<path d="M99.1 565.2h0.6v0.6h-0.6zM114.6 575.6h0.6v0.6h-0.6zM160.2 570.4h0.6v0.6h-0.6zM149.2 571.8h0.6v0.6h-0.6zM141.4 569.4h0.6v0.6h-0.6zM134.4 572.0h0.6v0.6h-0.6zM159.0 582.7h0.6v0.6h-0.6zM96.6 574.6h0.6v0.6h-0.6zM134.9 576.7h0.6v0.6h-0.6zM157.5 575.8h0.6v0.6h-0.6zM152.1 567.4h0.6v0.6h-0.6zM98.9 580.0h0.6v0.6h-0.6zM160.6 567.4h0.6v0.6h-0.6zM162.3 575.2h0.6v0.6h-0.6zM83.0 576.3h0.6v0.6h-0.6zM114.1 577.6h0.6v0.6h-0.6zM120.6 568.4h0.6v0.6h-0.6zM102.3 571.0h0.6v0.6h-0.6zM156.6 568.8h0.6v0.6h-0.6zM95.6 582.3h0.6v0.6h-0.6zM174.1 575.3h0.6v0.6h-0.6zM123.6 566.2h0.6v0.6h-0.6zM100.3 574.7h0.6v0.6h-0.6zM162.5 566.9h0.6v0.6h-0.6zM135.0 570.7h0.6v0.6h-0.6zM129.6 574.4h0.6v0.6h-0.6zM179.4 568.9h0.6v0.6h-0.6zM153.0 577.2h0.6v0.6h-0.6zM129.0 571.3h0.6v0.6h-0.6zM106.6 577.2h0.6v0.6h-0.6zM123.7 568.8h0.6v0.6h-0.6zM136.4 567.9h0.6v0.6h-0.6zM112.9 570.6h0.6v0.6h-0.6zM166.5 571.0h0.6v0.6h-0.6zM146.2 564.9h0.6v0.6h-0.6zM93.7 580.8h0.6v0.6h-0.6zM126.6 564.6h0.6v0.6h-0.6zM132.8 574.9h0.6v0.6h-0.6zM98.4 567.7h0.6v0.6h-0.6zM140.5 567.6h0.6v0.6h-0.6zM151.9 576.6h0.6v0.6h-0.6zM144.4 569.9h0.6v0.6h-0.6zM134.0 568.9h0.6v0.6h-0.6zM132.2 573.5h0.6v0.6h-0.6zM128.6 576.7h0.6v0.6h-0.6zM190.1 569.4h0.6v0.6h-0.6zM142.3 576.0h0.6v0.6h-0.6zM148.7 570.9h0.6v0.6h-0.6zM124.8 576.8h0.6v0.6h-0.6zM148.3 574.4h0.6v0.6h-0.6zM117.9 575.0h0.6v0.6h-0.6zM151.9 571.1h0.6v0.6h-0.6zM148.7 582.5h0.6v0.6h-0.6zM95.1 574.9h0.6v0.6h-0.6zM110.1 565.4h0.6v0.6h-0.6zM130.0 574.6h0.6v0.6h-0.6zM136.1 566.4h0.6v0.6h-0.6zM104.4 569.3h0.6v0.6h-0.6zM135.3 568.0h0.6v0.6h-0.6zM103.0 580.5h0.6v0.6h-0.6zM117.2 571.2h0.6v0.6h-0.6zM123.3 569.2h0.6v0.6h-0.6zM135.9 570.6h0.6v0.6h-0.6zM148.2 566.3h0.6v0.6h-0.6zM103.4 581.4h0.6v0.6h-0.6zM133.4 575.7h0.6v0.6h-0.6zM160.1 574.7h0.6v0.6h-0.6zM135.8 564.5h0.6v0.6h-0.6zM100.9 576.7h0.6v0.6h-0.6zM149.4 574.8h0.6v0.6h-0.6zM99.7 561.7h0.6v0.6h-0.6zM112.5 566.3h0.6v0.6h-0.6zM138.4 567.1h0.6v0.6h-0.6zM168.7 569.0h0.6v0.6h-0.6zM123.0 576.2h0.6v0.6h-0.6zM142.0 567.6h0.6v0.6h-0.6zM152.5 581.3h0.6v0.6h-0.6zM108.8 570.8h0.6v0.6h-0.6zM112.0 562.6h0.6v0.6h-0.6zM148.4 575.4h0.6v0.6h-0.6zM155.8 574.1h0.6v0.6h-0.6zM92.0 571.9h0.6v0.6h-0.6zM120.7 566.3h0.6v0.6h-0.6zM111.4 575.7h0.6v0.6h-0.6zM128.7 581.5h0.6v0.6h-0.6zM145.1 562.7h0.6v0.6h-0.6zM154.1 578.1h0.6v0.6h-0.6zM135.7 566.1h0.6v0.6h-0.6zM172.8 565.6h0.6v0.6h-0.6zM133.2 562.7h0.6v0.6h-0.6zM108.2 563.7h0.6v0.6h-0.6zM158.3 577.7h0.6v0.6h-0.6zM126.3 565.4h0.6v0.6h-0.6zM133.7 573.8h0.6v0.6h-0.6zM102.3 566.4h0.6v0.6h-0.6zM132.8 575.4h0.6v0.6h-0.6zM136.6 574.2h0.6v0.6h-0.6zM108.2 559.9h0.6v0.6h-0.6zM141.7 567.5h0.6v0.6h-0.6zM132.3 570.2h0.6v0.6h-0.6zM145.3 568.2h0.6v0.6h-0.6zM166.0 572.2h0.6v0.6h-0.6zM146.4 575.1h0.6v0.6h-0.6zM157.3 574.0h0.6v0.6h-0.6zM97.4 568.9h0.6v0.6h-0.6zM175.0 574.3h0.6v0.6h-0.6zM147.1 574.3h0.6v0.6h-0.6zM121.2 568.7h0.6v0.6h-0.6zM121.1 577.7h0.6v0.6h-0.6zM142.8 580.7h0.6v0.6h-0.6zM145.7 581.2h0.6v0.6h-0.6zM144.8 566.2h0.6v0.6h-0.6zM172.5 573.7h0.6v0.6h-0.6zM160.7 573.1h0.6v0.6h-0.6zM127.9 572.8h0.6v0.6h-0.6zM110.8 566.1h0.6v0.6h-0.6zM115.8 569.4h0.6v0.6h-0.6zM105.8 571.5h0.6v0.6h-0.6zM141.6 581.9h0.6v0.6h-0.6zM174.7 571.8h0.6v0.6h-0.6zM154.1 570.9h0.6v0.6h-0.6zM143.4 571.8h0.6v0.6h-0.6zM123.3 572.4h0.6v0.6h-0.6zM103.1 574.2h0.6v0.6h-0.6zM128.7 566.7h0.6v0.6h-0.6zM127.2 574.7h0.6v0.6h-0.6zM120.3 574.3h0.6v0.6h-0.6zM147.3 579.7h0.6v0.6h-0.6zM111.5 571.5h0.6v0.6h-0.6zM146.1 579.4h0.6v0.6h-0.6zM140.7 575.7h0.6v0.6h-0.6zM103.2 569.1h0.6v0.6h-0.6zM171.0 570.6h0.6v0.6h-0.6zM181.9 568.4h0.6v0.6h-0.6zM129.0 564.1h0.6v0.6h-0.6zM148.8 573.3h0.6v0.6h-0.6zM178.8 572.8h0.6v0.6h-0.6zM129.6 565.1h0.6v0.6h-0.6zM133.2 576.7h0.6v0.6h-0.6zM151.1 578.1h0.6v0.6h-0.6zM153.8 571.8h0.6v0.6h-0.6zM148.1 572.9h0.6v0.6h-0.6zM106.1 580.4h0.6v0.6h-0.6zM143.1 566.8h0.6v0.6h-0.6zM143.4 573.4h0.6v0.6h-0.6zM156.7 579.1h0.6v0.6h-0.6zM68.9 574.7h0.6v0.6h-0.6zM168.3 567.3h0.6v0.6h-0.6zM94.6 573.4h0.6v0.6h-0.6zM142.3 573.7h0.6v0.6h-0.6zM110.9 569.7h0.6v0.6h-0.6zM139.2 575.7h0.6v0.6h-0.6zM182.7 573.5h0.6v0.6h-0.6zM121.9 560.3h0.6v0.6h-0.6zM158.4 571.3h0.6v0.6h-0.6zM132.6 567.1h0.6v0.6h-0.6zM151.0 563.1h0.6v0.6h-0.6zM137.4 572.6h0.6v0.6h-0.6zM141.5 578.5h0.6v0.6h-0.6zM132.8 572.5h0.6v0.6h-0.6zM153.7 564.3h0.6v0.6h-0.6zM128.6 572.3h0.6v0.6h-0.6zM155.8 568.0h0.6v0.6h-0.6zM152.5 573.9h0.6v0.6h-0.6zM102.5 564.7h0.6v0.6h-0.6zM103.7 572.7h0.6v0.6h-0.6zM139.5 575.6h0.6v0.6h-0.6zM152.9 569.3h0.6v0.6h-0.6zM158.4 576.1h0.6v0.6h-0.6zM145.3 574.4h0.6v0.6h-0.6zM106.9 573.8h0.6v0.6h-0.6zM112.4 566.1h0.6v0.6h-0.6zM127.4 572.7h0.6v0.6h-0.6zM133.8 570.4h0.6v0.6h-0.6zM113.1 572.9h0.6v0.6h-0.6zM118.8 565.0h0.6v0.6h-0.6zM137.0 579.2h0.6v0.6h-0.6zM126.1 566.7h0.6v0.6h-0.6zM165.3 580.5h0.6v0.6h-0.6zM128.6 571.0h0.6v0.6h-0.6zM139.6 586.7h0.6v0.6h-0.6zM137.9 576.9h0.6v0.6h-0.6zM144.7 562.9h0.6v0.6h-0.6zM110.9 565.9h0.6v0.6h-0.6zM144.5 572.5h0.6v0.6h-0.6zM174.2 570.7h0.6v0.6h-0.6zM141.8 572.4h0.6v0.6h-0.6zM138.0 583.5h0.6v0.6h-0.6zM141.2 579.3h0.6v0.6h-0.6zM163.4 569.0h0.6v0.6h-0.6zM150.0 570.1h0.6v0.6h-0.6zM137.4 572.8h0.6v0.6h-0.6zM135.5 569.7h0.6v0.6h-0.6zM169.1 570.7h0.6v0.6h-0.6zM150.4 580.4h0.6v0.6h-0.6zM148.7 577.1h0.6v0.6h-0.6zM165.5 577.4h0.6v0.6h-0.6zM172.7 564.9h0.6v0.6h-0.6zM178.0 572.1h0.6v0.6h-0.6zM96.7 568.8h0.6v0.6h-0.6z" fill="#222" opacity="0.75"/>
<path d="M141.7 563.3h0.6v0.6h-0.6zM148.4 573.6h0.6v0.6h-0.6zM110.7 531.1h0.6v0.6h-0.6zM144.8 544.6h0.6v0.6h-0.6zM134.0 528.4h0.6v0.6h-0.6zM159.4 529.4h0.6v0.6h-0.6zM165.6 574.3h0.6v0.6h-0.6zM138.4 535.0h0.6v0.6h-0.6zM152.5 539.8h0.6v0.6h-0.6zM136.3 534.3h0.6v0.6h-0.6zM176.3 559.1h0.6v0.6h-0.6zM130.7 533.4h0.6v0.6h-0.6zM158.3 576.4h0.6v0.6h-0.6zM166.9 533.8h0.6v0.6h-0.6zM131.8 545.3h0.6v0.6h-0.6zM160.7 536.4h0.6v0.6h-0.6zM149.3 583.8h0.6v0.6h-0.6zM161.1 528.4h0.6v0.6h-0.6zM110.5 534.5h0.6v0.6h-0.6zM155.5 562.1h0.6v0.6h-0.6zM143.0 554.0h0.6v0.6h-0.6zM134.7 562.8h0.6v0.6h-0.6zM152.3 580.2h0.6v0.6h-0.6zM158.5 573.4h0.6v0.6h-0.6zM171.6 575.7h0.6v0.6h-0.6zM157.3 529.7h0.6v0.6h-0.6zM154.7 576.4h0.6v0.6h-0.6zM136.4 578.1h0.6v0.6h-0.6zM118.1 581.7h0.6v0.6h-0.6zM137.2 568.3h0.6v0.6h-0.6zM123.4 545.1h0.6v0.6h-0.6zM130.4 546.5h0.6v0.6h-0.6zM111.9 553.2h0.6v0.6h-0.6zM176.6 565.3h0.6v0.6h-0.6zM173.1 571.5h0.6v0.6h-0.6zM166.1 584.7h0.6v0.6h-0.6zM159.9 543.6h0.6v0.6h-0.6zM123.2 551.5h0.6v0.6h-0.6zM106.5 541.2h0.6v0.6h-0.6zM169.7 580.5h0.6v0.6h-0.6zM129.0 571.9h0.6v0.6h-0.6zM161.6 578.7h0.6v0.6h-0.6zM163.0 558.3h0.6v0.6h-0.6zM112.7 575.1h0.6v0.6h-0.6zM127.9 563.7h0.6v0.6h-0.6zM131.8 558.6h0.6v0.6h-0.6zM175.5 537.2h0.6v0.6h-0.6zM143.8 565.0h0.6v0.6h-0.6zM144.3 581.5h0.6v0.6h-0.6zM134.7 580.1h0.6v0.6h-0.6zM155.4 583.1h0.6v0.6h-0.6zM111.5 540.1h0.6v0.6h-0.6zM126.0 579.7h0.6v0.6h-0.6zM106.0 542.8h0.6v0.6h-0.6zM157.3 584.4h0.6v0.6h-0.6zM117.9 553.0h0.6v0.6h-0.6zM155.1 567.4h0.6v0.6h-0.6zM159.5 570.9h0.6v0.6h-0.6zM123.1 542.7h0.6v0.6h-0.6zM107.0 567.4h0.6v0.6h-0.6zM120.3 542.8h0.6v0.6h-0.6zM175.4 564.7h0.6v0.6h-0.6zM148.2 565.4h0.6v0.6h-0.6zM148.6 567.6h0.6v0.6h-0.6zM127.2 531.6h0.6v0.6h-0.6zM109.9 528.8h0.6v0.6h-0.6zM131.4 536.1h0.6v0.6h-0.6zM113.2 556.1h0.6v0.6h-0.6zM175.8 567.2h0.6v0.6h-0.6zM125.0 571.9h0.6v0.6h-0.6zM118.0 533.7h0.6v0.6h-0.6zM127.1 551.3h0.6v0.6h-0.6zM155.3 553.4h0.6v0.6h-0.6zM158.2 533.4h0.6v0.6h-0.6zM173.1 547.5h0.6v0.6h-0.6zM165.8 529.7h0.6v0.6h-0.6zM165.5 540.9h0.6v0.6h-0.6zM167.4 573.8h0.6v0.6h-0.6zM154.0 543.8h0.6v0.6h-0.6zM105.7 538.8h0.6v0.6h-0.6zM171.1 537.0h0.6v0.6h-0.6zM153.1 561.5h0.6v0.6h-0.6zM153.3 538.3h0.6v0.6h-0.6zM115.5 533.5h0.6v0.6h-0.6zM176.7 549.8h0.6v0.6h-0.6zM152.6 560.5h0.6v0.6h-0.6zM121.3 531.7h0.6v0.6h-0.6zM106.1 576.6h0.6v0.6h-0.6zM114.5 582.9h0.6v0.6h-0.6zM131.5 569.2h0.6v0.6h-0.6zM115.1 572.9h0.6v0.6h-0.6zM123.4 548.9h0.6v0.6h-0.6zM143.2 534.4h0.6v0.6h-0.6zM123.1 573.4h0.6v0.6h-0.6zM125.8 549.7h0.6v0.6h-0.6zM160.8 540.8h0.6v0.6h-0.6zM119.2 540.5h0.6v0.6h-0.6zM133.0 548.8h0.6v0.6h-0.6zM151.8 554.9h0.6v0.6h-0.6zM168.5 530.9h0.6v0.6h-0.6zM153.4 575.7h0.6v0.6h-0.6zM122.1 529.7h0.6v0.6h-0.6zM137.0 534.6h0.6v0.6h-0.6zM138.6 568.6h0.6v0.6h-0.6zM111.8 534.7h0.6v0.6h-0.6zM140.0 537.9h0.6v0.6h-0.6zM121.8 553.1h0.6v0.6h-0.6zM113.6 531.9h0.6v0.6h-0.6zM131.4 554.7h0.6v0.6h-0.6zM173.4 559.6h0.6v0.6h-0.6zM110.2 540.7h0.6v0.6h-0.6zM159.3 560.1h0.6v0.6h-0.6zM168.5 582.9h0.6v0.6h-0.6zM167.6 534.3h0.6v0.6h-0.6zM173.9 557.9h0.6v0.6h-0.6zM122.5 537.7h0.6v0.6h-0.6zM168.1 540.1h0.6v0.6h-0.6zM111.1 543.1h0.6v0.6h-0.6zM172.5 554.3h0.6v0.6h-0.6zM158.4 532.2h0.6v0.6h-0.6zM138.1 546.1h0.6v0.6h-0.6zM120.0 565.8h0.6v0.6h-0.6zM131.4 534.8h0.6v0.6h-0.6zM176.8 555.5h0.6v0.6h-0.6zM118.1 528.6h0.6v0.6h-0.6zM152.7 557.3h0.6v0.6h-0.6zM106.8 554.8h0.6v0.6h-0.6zM159.1 558.6h0.6v0.6h-0.6zM122.1 556.4h0.6v0.6h-0.6zM149.2 565.1h0.6v0.6h-0.6zM115.6 573.8h0.6v0.6h-0.6zM174.0 570.2h0.6v0.6h-0.6zM167.6 549.0h0.6v0.6h-0.6zM170.9 538.4h0.6v0.6h-0.6zM121.6 562.1h0.6v0.6h-0.6zM170.8 532.7h0.6v0.6h-0.6zM120.8 530.0h0.6v0.6h-0.6zM137.0 536.0h0.6v0.6h-0.6zM119.0 570.7h0.6v0.6h-0.6zM147.6 581.5h0.6v0.6h-0.6zM134.3 566.7h0.6v0.6h-0.6zM105.9 582.1h0.6v0.6h-0.6zM122.0 555.2h0.6v0.6h-0.6zM142.4 582.1h0.6v0.6h-0.6zM140.9 584.5h0.6v0.6h-0.6zM150.3 540.3h0.6v0.6h-0.6zM165.9 539.5h0.6v0.6h-0.6zM178.0 554.0h0.6v0.6h-0.6zM121.5 582.8h0.6v0.6h-0.6zM128.5 551.2h0.6v0.6h-0.6zM130.1 566.1h0.6v0.6h-0.6zM106.7 549.3h0.6v0.6h-0.6zM116.8 575.2h0.6v0.6h-0.6zM105.0 562.6h0.6v0.6h-0.6zM123.8 553.9h0.6v0.6h-0.6zM146.0 568.6h0.6v0.6h-0.6zM115.1 541.7h0.6v0.6h-0.6zM113.8 582.7h0.6v0.6h-0.6zM115.9 535.8h0.6v0.6h-0.6zM143.1 561.1h0.6v0.6h-0.6zM169.7 531.2h0.6v0.6h-0.6zM122.1 537.5h0.6v0.6h-0.6zM147.7 553.8h0.6v0.6h-0.6zM134.9 578.6h0.6v0.6h-0.6zM153.3 577.0h0.6v0.6h-0.6zM174.9 543.3h0.6v0.6h-0.6zM173.8 551.2h0.6v0.6h-0.6zM108.8 580.1h0.6v0.6h-0.6zM112.6 529.0h0.6v0.6h-0.6zM126.1 544.5h0.6v0.6h-0.6zM175.6 577.6h0.6v0.6h-0.6zM135.7 558.2h0.6v0.6h-0.6zM167.0 574.0h0.6v0.6h-0.6zM152.7 557.2h0.6v0.6h-0.6zM113.5 541.9h0.6v0.6h-0.6zM153.0 561.4h0.6v0.6h-0.6zM163.5 579.2h0.6v0.6h-0.6zM175.3 539.0h0.6v0.6h-0.6zM110.5 579.2h0.6v0.6h-0.6zM146.6 538.3h0.6v0.6h-0.6zM155.5 542.6h0.6v0.6h-0.6zM122.3 548.9h0.6v0.6h-0.6zM143.2 566.6h0.6v0.6h-0.6zM110.4 570.3h0.6v0.6h-0.6zM150.6 554.9h0.6v0.6h-0.6zM154.1 573.6h0.6v0.6h-0.6zM105.7 555.1h0.6v0.6h-0.6zM154.5 568.4h0.6v0.6h-0.6zM152.3 538.3h0.6v0.6h-0.6zM175.0 572.8h0.6v0.6h-0.6zM122.0 552.5h0.6v0.6h-0.6zM174.9 539.8h0.6v0.6h-0.6zM134.9 582.8h0.6v0.6h-0.6zM170.7 541.3h0.6v0.6h-0.6zM158.7 548.5h0.6v0.6h-0.6zM153.4 571.7h0.6v0.6h-0.6zM114.3 540.7h0.6v0.6h-0.6zM120.7 543.2h0.6v0.6h-0.6zM107.6 535.8h0.6v0.6h-0.6zM134.6 552.0h0.6v0.6h-0.6z" fill="#555" opacity="0.6"/>
<path d="M117.1 560.6h0.6v0.6h-0.6zM174.2 560.5h0.6v0.6h-0.6zM135.5 564.5h0.6v0.6h-0.6zM140.9 547.6h0.6v0.6h-0.6zM143.8 542.6h0.6v0.6h-0.6zM156.6 547.2h0.6v0.6h-0.6zM136.4 572.8h0.6v0.6h-0.6zM162.6 568.7h0.6v0.6h-0.6zM154.4 562.3h0.6v0.6h-0.6zM158.5 572.9h0.6v0.6h-0.6zM125.0 566.5h0.6v0.6h-0.6zM131.9 550.2h0.6v0.6h-0.6zM166.2 561.2h0.6v0.6h-0.6zM168.1 570.0h0.6v0.6h-0.6zM150.9 548.3h0.6v0.6h-0.6zM113.0 559.1h0.6v0.6h-0.6zM159.9 550.7h0.6v0.6h-0.6zM116.6 542.2h0.6v0.6h-0.6zM123.4 564.3h0.6v0.6h-0.6zM112.3 549.4h0.6v0.6h-0.6zM129.5 564.8h0.6v0.6h-0.6zM177.2 542.6h0.6v0.6h-0.6zM119.5 571.9h0.6v0.6h-0.6zM176.0 546.8h0.6v0.6h-0.6zM134.1 558.7h0.6v0.6h-0.6zM133.1 555.4h0.6v0.6h-0.6zM143.6 550.3h0.6v0.6h-0.6zM115.6 544.7h0.6v0.6h-0.6zM122.7 544.9h0.6v0.6h-0.6zM153.2 564.3h0.6v0.6h-0.6zM129.4 567.3h0.6v0.6h-0.6zM160.1 552.9h0.6v0.6h-0.6zM144.5 548.0h0.6v0.6h-0.6zM173.3 559.9h0.6v0.6h-0.6zM115.4 546.9h0.6v0.6h-0.6zM157.7 554.3h0.6v0.6h-0.6zM159.3 549.3h0.6v0.6h-0.6zM164.6 567.7h0.6v0.6h-0.6zM118.2 560.8h0.6v0.6h-0.6zM124.6 564.6h0.6v0.6h-0.6zM165.1 567.3h0.6v0.6h-0.6zM127.3 545.0h0.6v0.6h-0.6zM155.8 560.1h0.6v0.6h-0.6zM121.1 548.2h0.6v0.6h-0.6zM150.4 545.5h0.6v0.6h-0.6zM153.8 549.7h0.6v0.6h-0.6zM129.1 555.6h0.6v0.6h-0.6zM147.2 565.2h0.6v0.6h-0.6zM114.0 565.2h0.6v0.6h-0.6zM126.6 551.3h0.6v0.6h-0.6zM154.2 564.1h0.6v0.6h-0.6zM152.6 570.9h0.6v0.6h-0.6zM125.5 552.0h0.6v0.6h-0.6zM155.7 550.3h0.6v0.6h-0.6zM122.4 549.2h0.6v0.6h-0.6zM162.9 568.5h0.6v0.6h-0.6zM159.3 572.7h0.6v0.6h-0.6zM164.4 551.9h0.6v0.6h-0.6zM132.8 565.1h0.6v0.6h-0.6zM115.7 561.5h0.6v0.6h-0.6zM117.9 543.6h0.6v0.6h-0.6zM145.9 546.8h0.6v0.6h-0.6zM173.5 570.1h0.6v0.6h-0.6zM142.5 548.3h0.6v0.6h-0.6zM119.9 558.2h0.6v0.6h-0.6zM146.4 553.6h0.6v0.6h-0.6zM159.3 558.9h0.6v0.6h-0.6zM163.2 545.4h0.6v0.6h-0.6zM116.6 554.4h0.6v0.6h-0.6zM143.9 550.1h0.6v0.6h-0.6zM156.1 549.1h0.6v0.6h-0.6zM133.0 557.3h0.6v0.6h-0.6zM159.0 566.7h0.6v0.6h-0.6zM136.5 556.3h0.6v0.6h-0.6zM173.2 571.9h0.6v0.6h-0.6zM152.8 545.4h0.6v0.6h-0.6zM142.1 562.4h0.6v0.6h-0.6zM130.4 543.2h0.6v0.6h-0.6zM176.8 571.1h0.6v0.6h-0.6zM120.5 556.9h0.6v0.6h-0.6zM152.9 551.6h0.6v0.6h-0.6zM116.5 566.0h0.6v0.6h-0.6zM162.9 556.0h0.6v0.6h-0.6zM117.7 554.6h0.6v0.6h-0.6zM118.2 572.8h0.6v0.6h-0.6zM115.4 551.2h0.6v0.6h-0.6zM162.7 546.3h0.6v0.6h-0.6zM119.0 544.3h0.6v0.6h-0.6zM122.8 559.0h0.6v0.6h-0.6zM167.0 547.4h0.6v0.6h-0.6zM123.5 566.5h0.6v0.6h-0.6zM140.1 552.8h0.6v0.6h-0.6zM120.1 549.8h0.6v0.6h-0.6zM176.1 545.7h0.6v0.6h-0.6zM129.1 565.7h0.6v0.6h-0.6zM170.9 570.9h0.6v0.6h-0.6zM143.2 572.6h0.6v0.6h-0.6zM151.9 551.2h0.6v0.6h-0.6zM142.7 564.9h0.6v0.6h-0.6zM160.4 546.1h0.6v0.6h-0.6zM124.8 572.7h0.6v0.6h-0.6zM119.1 568.0h0.6v0.6h-0.6zM134.4 549.9h0.6v0.6h-0.6zM128.8 557.0h0.6v0.6h-0.6zM177.4 546.8h0.6v0.6h-0.6zM168.4 552.3h0.6v0.6h-0.6zM123.4 565.8h0.6v0.6h-0.6zM134.5 548.0h0.6v0.6h-0.6zM139.6 568.3h0.6v0.6h-0.6zM169.0 560.4h0.6v0.6h-0.6zM112.7 566.4h0.6v0.6h-0.6zM152.0 570.8h0.6v0.6h-0.6zM174.8 552.5h0.6v0.6h-0.6zM168.0 568.2h0.6v0.6h-0.6zM129.6 553.7h0.6v0.6h-0.6zM136.7 553.3h0.6v0.6h-0.6zM137.0 545.5h0.6v0.6h-0.6zM127.0 571.1h0.6v0.6h-0.6zM139.1 562.3h0.6v0.6h-0.6zM170.6 566.2h0.6v0.6h-0.6zM128.1 571.4h0.6v0.6h-0.6zM165.1 573.7h0.6v0.6h-0.6zM160.1 566.2h0.6v0.6h-0.6zM165.7 550.1h0.6v0.6h-0.6zM155.3 554.2h0.6v0.6h-0.6zM167.4 546.3h0.6v0.6h-0.6zM147.6 552.8h0.6v0.6h-0.6zM166.2 553.0h0.6v0.6h-0.6zM167.7 569.1h0.6v0.6h-0.6zM170.0 546.5h0.6v0.6h-0.6zM173.9 565.8h0.6v0.6h-0.6zM156.7 562.9h0.6v0.6h-0.6zM115.2 569.8h0.6v0.6h-0.6zM148.2 556.6h0.6v0.6h-0.6zM134.4 567.1h0.6v0.6h-0.6zM163.6 569.8h0.6v0.6h-0.6zM126.1 552.9h0.6v0.6h-0.6zM128.5 545.2h0.6v0.6h-0.6zM133.6 542.8h0.6v0.6h-0.6zM164.6 549.3h0.6v0.6h-0.6zM116.7 544.2h0.6v0.6h-0.6zM160.9 548.4h0.6v0.6h-0.6zM142.5 554.9h0.6v0.6h-0.6zM165.0 572.5h0.6v0.6h-0.6zM132.5 562.2h0.6v0.6h-0.6zM171.1 557.1h0.6v0.6h-0.6zM171.4 565.5h0.6v0.6h-0.6zM132.6 570.0h0.6v0.6h-0.6zM149.8 545.4h0.6v0.6h-0.6zM150.8 568.5h0.6v0.6h-0.6zM146.2 557.5h0.6v0.6h-0.6zM139.5 570.2h0.6v0.6h-0.6zM155.9 548.7h0.6v0.6h-0.6zM135.9 553.6h0.6v0.6h-0.6zM175.3 564.3h0.6v0.6h-0.6zM120.2 571.3h0.6v0.6h-0.6zM114.3 560.9h0.6v0.6h-0.6zM140.5 565.0h0.6v0.6h-0.6zM140.3 545.0h0.6v0.6h-0.6zM146.6 568.3h0.6v0.6h-0.6z" fill="#333" opacity="0.6"/>
<path d="M101.4 597.1l-2.8 0 -2.5-.3 -2.5-.5 -2.2-.8 -1.8-.8 -1.4-.8 -2.8-2.4 -1-.6 -5.8-2.1 -1.4-.7 -1.1-.7 -1.1-1.3 -.4-1.2 .1-1.3 .9-2.5 -.1-.7 -.5-.5 -2.8-2.3 -1.6-1.7 -1.4-2.3 -.7-2.2 -.2-1.5 0-1.3 .2-1.2 .5-1.5 1.2-2.3 2.7-3.3 1-2.2 .5-2.2 .9-6.8 .7-4 1-3.7 1.2-3.3 1.8-3.2 1.2-1.5 1.2-1.3 1.2-1 1.3-.8 1.2-.5 1.5-.5 2-.2 2.3 .3 2 .6 2.2 1.3 2 1.6 1.9 2 1.5 2 1.6 2.7 1.7 4 1.1 4 .8 4.3 1 8.7 .4 1.8 1.4 4 .3 1.7 .1 1.5 -.2 1.8 -.5 1.7 -1.1 2.8 -.1 .7 .1 .5 .3 .6 .7 .7 3.8 2.6 1.8 1.6 1.3 1.8 .8 2 0 2 -.5 1.7 -1.2 1.8 -2 1.7 -2.2 1.4 -2.8 1 -3.2 .8 -3.5 .3z M103.1 595.1l-2.5 .2 -2.5-.1 -2.5-.5 -2.2-.6 -2.8-1.4 -3.3-2.6 -3.7-1.7 -1.5-1 -1.4-1.5 -1.1-1.8 -.1-1 .4-2.2 -.3-.8 -.7-.7 -3-2.3 -1.5-1.5 -1.4-2 -.8-2.2 -.2-1.8 .2-2 .5-1.7 1.9-3.9 .6-1.9 .4-2 .7-6.2 .5-3.5 .9-4 1-3 .9-2 .9-1.8 1.1-1.5 1-1.2 1.3-1.2 1.2-.8 1.3-.7 1.5-.5 1.2-.2 1.3 0 2.5 .5 2.5 1.2 2.5 2 2.1 2.4 2 3.3 1.5 3.5 1.1 3.5 .9 5 .6 8.8 .9 5.4 .1 2 -.1 1.5 -.5 1.8 -.7 1.7 -1.6 2.8 -.3 1.2 .2 .5 .5 .5 4.8 2.5 1.2 .8 1.2 1 .9 1 .5 1 .4 1 .1 1.2 -.2 1.3 -.5 1.2 -1 1.3 -1.4 1.1 -1.7 1 -1.8 .7 -2 .6 -2 .3z M103.1 593.9l-2 .2 -2.2-.1 -2-.3 -2-.5 -1.5-.6 -1.3-.7 -2.5-2 -2.2-1.5 -.6-.5 -.6-.8 -.6-2.5 -.6-1.2 -3.3-3.5 -3.6-2.6 -1.8-1.7 -1.5-2 -.9-2.2 -.3-1.8 .2-1.7 .4-1.8 1.4-3.6 .5-1.8 .4-2.1 .5-6 .5-3.5 .8-3.5 .9-3 1.7-3.5 .9-1.5 1.1-1.3 1.2-1.2 1.3-.9 1.2-.6 1.3-.5 2.2-.2 1.3 .1 1.2 .3 1.3 .5 1.2 .7 2.3 1.7 2.1 2.4 1.7 2.8 1.5 3.2 1.1 3.5 .5 2.8 .5 3.2 .4 7.5 .6 5.5 0 2.3 -.2 1.7 -.6 1.8 -.9 1.7 -2.3 3.3 -.3 .7 -.1 .5 .2 .5 .7 .5 4.6 1.8 1.5 .8 1.2 .9 1 1 .6 1 .4 1 .1 1 -.2 1 -.4 1 -.8 1 -1.1 1 -1.3 .8 -1.5 .7 -3.3 .8z M102.6 592.9l-2.7 .1 -2.8-.3 -2.5-.9 -1.9-1.2 -3-2.5 -.9-1 -.3-1 -.1-2.2 -.5-1 -1.2-1 -6.6-4.2 -2-1.5 -1.2-1.3 -.9-1.3 -.6-1.2 -.4-1.3 -.3-1.7 .2-1.8 2-7 1.1-10.5 .7-3.5 .8-2.7 .8-2 .9-1.8 .9-1.5 1-1.3 1-1 1.3-1 1.5-.8 1.2-.4 2.3-.2 2.2 .4 2.3 1.1 2.2 1.8 1.9 2.2 1.7 2.7 1.5 3.3 1.1 3.5 .5 2.7 .4 3.3 .3 6.7 .5 5.5 0 2.5 -.5 2 -.8 2 -1.2 1.8 -2.8 3.5 -.4 .7 -.1 .5 .2 .5 .5 .3 5 1.5 1.5 .6 1.2 .8 1 .8 .8 1 .4 1 .1 1 -.2 1 -.3 .8 -.6 .7 -.9 .8 -2.3 1.2 -1.5 .5 -1.5 .3z M92.9 581.9l-2.8-.3 -3-.9 -3.2-1.5 -3.5-2.1 -2.1-1.7 -1.4-1.8 -.9-2 -.4-2 0-1.2 .2-1.5 1.3-4.8 .5-2.2 .6-7.3 .5-3.5 .8-3.2 .9-2.8 .8-1.7 1-1.8 .9-1.2 1.2-1.3 1.1-.8 1.2-.8 1.3-.5 1.5-.3 1.2 0 1.3 .3 1.2 .4 1.3 .6 1.2 .8 1.2 1.1 2.1 2.5 1.9 3.2 1.4 3.5 .9 4 .6 4.3 .2 5.7 .5 6.5 -.1 2.3 -.7 2.2 -.8 1.8 -1.1 1.5 -1.3 1.5 -2 1.9 -3 2.4 -1.3 .5 -1.2 .2z M102.4 591.9l-2.3 .1 -2-.2 -2-.6 -1.6-.8 -2.4-2.3 -1-1.2 -.1-.5 -.1-.8 .5-1.2 1-1 1.2-.7 1.3-.3 1.7-.1 3.3 .2 2.5 .3 2 .6 1.8 1 1.2 1 .7 1.2 .1 1.3 -.4 1 -.7 1 -1.5 1 -1.5 .6 -1.7 .4z M93.4 580.4l-2.5 .2 -2.8-.4 -3-1 -3.2-1.7 -2.3-1.7 -1.7-1.9 -1.1-2 -.5-2.3 0-1.2 .2-1.5 1.6-7 .6-6.8 .4-3.2 .7-3.3 .9-2.7 .8-1.8 .9-1.6 .9-1.4 1.1-1.2 1.2-1 1.3-.7 1.2-.5 1.3-.2 1.2 0 1.3 .2 2.2 .9 2.3 1.7 2 2.3 1.8 3 1.3 3.3 1 3.7 .6 4 .8 12.5 -.2 2.5 -.5 2 -.6 1.5 -.8 1.3 -1.2 1.5 -1.5 1.4 -1.5 1.2 -1.5 .9 -1.2 .6 -1.5 .4z M101.1 590.9l-1.5 0 -1.4-.3 -1.3-.4 -1-.6 -1.1-1 -.7-1.2 -.2-1 .3-.8 .9-.7 1.1-.5 1.7-.5 1.5-.1 1.7 .1 1.5 .3 1.3 .4 1.2 .8 .8 .7 .4 1 -.1 1 -.4 .8 -.8 .7 -1.1 .7 -1.3 .4 -1.5 .2z M92.1 579.9l-2.7-.1 -2.5-.5 -2.8-1.1 -2.5-1.4 -1.9-1.7 -1.5-1.7 -.9-2 -.4-2.3 .2-2.7 1.5-6.8 .5-6.2 .4-3.3 .7-3.2 .9-2.8 1.6-3.2 .9-1.3 1.1-1.2 1.2-.9 1.2-.7 1.3-.5 1.2-.2 1.5 .1 1.5 .4 1.5 .8 1.3 .9 1.2 1.1 1.3 1.5 1.1 1.7 1.1 2 1.4 3.8 .8 4 .4 3 .3 5.5 .4 5 0 2.7 -.4 2.3 -.9 2 -1.3 2 -1.9 1.9 -2.3 1.6 -2.2 1.1 -2.3 .4z M101.1 589.1l-1.5 0 -.8-.2 -.7-.4 -.4-.4 -.3-.5 -.1-.5 .2-.5 .5-.5 .5-.2 1.4-.3 1.5 .1 1.2 .5 .5 .4 .3 .5 -.1 .8 -.7 .7 -1.5 .5z M91.9 579.4l-2.5-.1 -2.5-.5 -2.8-1 -2.3-1.4 -1.9-1.8 -1.3-1.7 -.9-2 -.3-2 .2-2.8 1.4-6.7 .6-6.3 .4-3 .6-3 .9-2.7 .8-1.8 .8-1.5 1-1.2 .9-1 1.1-.9 1-.6 1.3-.4 1.2-.2 1.3 0 1.5 .4 1.5 .7 1.2 .9 1.3 1.1 1.2 1.5 1.1 1.7 1.1 2 1.2 3.5 .9 4 .3 2.8 .3 5.2 .5 5.3 0 2.5 -.4 2.2 -.9 2 -1.3 2 -1.8 1.8 -2.2 1.6 -2.3 1 -2.2 .4z M92.4 578.9l-2.5 .1 -2.5-.4 -2.5-.9 -2.4-1.3 -1.9-1.6 -1.5-1.9 -.9-2 -.3-2 .2-3 1.4-6.8 .9-8.7 .6-3 .8-2.5 1.4-3 .9-1.3 1-1.1 1-.9 1.3-.7 1-.3 1.2-.2 1.5 .1 1.3 .3 1.2 .6 1.3 .9 1.2 1.2 1.2 1.4 1.1 1.6 .9 1.9 1.3 3.2 .8 3.8 .4 2.7 .3 5.3 .5 5 0 2.5 -.3 2.2 -.8 2 -1.1 1.9 -1.8 1.9 -2 1.5 -2 .9 -2.2 .6z M92.9 578.4l-2.5 .2 -2.5-.3 -2.5-.8 -2.3-1.2 -2-1.6 -1.5-1.8 -.9-2 -.4-2 0-1.5 .2-1.8 1.4-6.7 .8-8.3 .6-2.7 .7-2.5 1.4-3 1.7-2.2 1-.9 1-.6 1-.5 1.3-.2 1.2 0 1.5 .3 1.3 .6 1.2 .9 1.2 1.1 1.1 1.2 1 1.5 .9 1.8 1.3 3.2 .8 3.5 .4 2.8 .4 5.2 .5 4.8 .1 2.5 -.3 2.2 -.7 2 -1 1.8 -1.4 1.7 -1.9 1.5 -1.9 1.1 -2.2 .7z M91.9 578.1l-2.3 .1 -2.5-.5 -2.2-.8 -2.1-1.3 -1.7-1.5 -1.3-1.7 -.8-2 -.3-2 .2-3 1.5-6.8 .8-8.2 .5-2.5 .7-2.3 1.2-2.7 .9-1.3 .9-1 1-.9 1-.6 1-.4 1.2-.2 1.3 .1 1.2 .3 1.3 .7 1.2 .9 1.2 1.1 1 1.3 .9 1.5 .9 1.7 1.1 3 .8 3.5 1.4 13 0 2.3 -.4 2.2 -.8 2 -1.2 1.8 -1.6 1.6 -1.8 1.3 -2 .9 -2.2 .4z M92.6 577.7l-2.2 .2 -2.3-.3 -2.2-.7 -2.3-1.2 -1.7-1.4 -1.4-1.7 -1-2 -.4-2 0-1.5 .2-1.7 1.4-6.3 .9-8.5 .5-2.5 .5-2 1.3-2.7 1.5-2.1 1-.9 1-.7 1-.4 1-.2 1.2 0 1.3 .3 1.2 .6 1 .7 1 1 1.1 1.2 1.7 3 1.2 3 .8 3.2 .5 2.8 .4 4.7 .7 5.3 .1 2.5 -.3 2 -.7 2 -1 1.7 -1.3 1.5 -1.7 1.4 -2 1.1 -2 .6z M92.1 577.4l-2.2 .1 -2.3-.4 -2.2-.8 -2-1.2 -1.7-1.5 -1.2-1.7 -.7-1.8 -.4-2 .1-1.5 .2-1.7 1.6-6.8 .8-8 .5-2.2 .5-1.9 1.3-2.6 1.5-2 1.7-1.2 1-.4 1-.1 1 0 1.3 .4 1.1 .5 1 .8 1.1 1 1 1.2 1.5 2.8 1.1 2.7 .7 3 .9 7 .9 6.3 0 2.2 -.3 2 -.7 1.8 -1.1 1.8 -1.5 1.6 -1.7 1.3 -1.8 .8 -2 .5z M91.4 577.1l-2.3 0 -2-.4 -2-.9 -1.7-1.1 -1.5-1.5 -1.1-1.6 -.7-1.7 -.3-2 0-1.5 .3-1.8 1.7-6.7 .8-8.3 .9-3.5 1.1-2.3 1.5-1.9 .8-.6 1-.6 1.7-.4 1 0 1.2 .3 1 .5 1 .8 1.8 2 1.5 2.7 1 2.7 .7 2.8 .9 6.5 1 4.8 .2 2.2 0 2.3 -.5 2 -.7 1.7 -1.2 1.8 -1.4 1.4 -1.7 1.1 -2 .9 -2 .3z M92.4 576.6l-2 .2 -2.3-.2 -2-.7 -1.9-1 -1.6-1.4 -1.2-1.6 -.8-1.8 -.4-2 -.1-1.5 .2-1.7 2-7 .7-7.5 .3-2 .5-1.8 1-2.2 1.3-1.8 1.5-1.2 .8-.3 1-.2 1 0 1 .2 1.8 1 1.7 1.8 1.6 2.7 .9 2.3 .7 2.7 1 6.5 1.1 4.8 .4 2.2 0 2 -.3 2 -.6 1.8 -1 1.7 -1.3 1.5 -1.5 1.1 -1.8 .9 -1.7 .5z M91.9 576.4l-2 .1 -2-.3 -2-.8 -1.8-1 -1.5-1.4 -1.1-1.6 -.7-1.8 -.3-2 0-1.7 .4-2 1.7-5 .3-1.5 .6-7 .3-2 .5-1.8 1.1-2.2 1.2-1.5 1.5-1 1.5-.4 1 .1 .8 .2 1.7 1.1 1.6 1.7 1.2 2.3 .7 1.7 .6 2 1.1 6.8 1.5 5.5 .5 2.7 -.1 2 -.3 1.8 -.7 1.7 -1 1.5 -1.3 1.5 -1.5 1 -1.8 .9 -1.7 .4z M90.9 576.1l-2-.1 -1.8-.4 -1.7-.8 -1.5-1.1 -1.3-1.3 -.9-1.5 -.7-1.8 -.2-1.7 .1-1.8 .4-2 2-5.2 .4-1.5 .4-6.5 .3-2 .4-1.5 .9-2 1.2-1.5 1.2-.8 1.5-.4 1.5 .2 1.6 1 1.3 1.5 1.1 2 .7 1.7 .5 1.8 1.1 6.5 2 5.7 .4 1.8 .2 1.5 -.1 2 -.4 1.7 -.8 1.8 -1.1 1.5 -1.3 1.2 -1.7 1.1 -1.7 .6 -2 .3z M92.1 575.6l-2 .2 -2-.3 -1.8-.6 -1.7-1 -1.3-1.3 -1.1-1.5 -.7-1.7 -.3-1.8 0-2 .5-2.2 .7-1.8 1.7-3.5 .5-1.5 .1-1.2 0-5 .2-1.8 .4-1.5 .8-1.7 1-1.3 1-.7 1.3-.4 1.4 .1 1.3 .8 1.2 1.2 .9 1.5 .6 1.5 .4 1.8 .5 5 .2 1.2 .5 1.3 2.3 4.5 .6 1.7 .3 1.8 0 1.7 -.3 1.8 -.5 1.5 -.9 1.5 -1.3 1.5 -1.2 .9 -1.5 .8 -1.8 .5z M91.4 575.4l-1.8 0 -1.7-.3 -1.8-.7 -1.5-1 -1.3-1.3 -.9-1.5 -.6-1.5 -.3-1.7 .1-2.3 .7-2.5 1.1-2 2.1-3.2 .4-1.3 .1-1 -.4-2.7 -.1-1.8 .1-1.7 .4-1.5 .6-1.5 .8-1 1-.7 1-.3 1.2 .1 1 .6 1 1 .7 1.3 .6 1.7 .2 1.8 -.2 1.7 -.5 2.8 .1 .7 .5 1 2.4 2.4 1.5 2.1 1 2.4 .4 2.4 -.1 1.7 -.3 1.5 -.6 1.5 -1 1.5 -1.2 1.3 -1.5 1 -1.5 .6 -1.7 .4z M89.4 553.9l-1-.1 -.5-.3 -.5-.5 -.7-1.6 -.2-1.8 .2-1.7 .7-1.5 1-1.1 .5-.2 .7-.1 .8 .1 .4 .3 1 1 .7 1.5 .1 1.5 -.2 1.5 -.8 1.4 -1 1 -1.2 .6z M92.1 574.9l-1.5 .2 -1.7-.2 -1.8-.5 -1.5-.7 -1.2-1 -1-1.1 -.9-1.5 -.5-1.5 -.2-1.5 .1-1.7 .5-1.8 .7-1.7 1-1.6 1.5-1.6 1.5-1 1.3-.5 1.2-.1 2 .4 2 .7 1.8 1 1 .9 1 1.3 .8 1.5 .5 1.5 .2 1.7 -.1 1.8 -.4 1.6 -.8 1.5 -1 1.3 -1.2 1.1 -1.5 .9 -1.8 .6z M89.1 550.4l-.5-.2 -.2-.3 -.3-.8 0-.7 .5-1.1 .5-.3 .5-.1 .5 .3 .4 .4 .1 .5 0 .8 -.5 1 -.5 .4 -.5 .1z M91.1 574.6l-1.5 .1 -1.5-.3 -1.3-.5 -1.3-.8 -1.1-.9 -.9-1.1 -.7-1.2 -.4-1.5 -.2-1.5 .1-1.5 .4-1.5 .7-1.6 1-1.5 1-.9 1.2-.8 1.3-.4 1.5-.2 2 .2 2 .5 1.5 .6 1.2 .9 1 1.1 .8 1.3 .5 1.6 .2 1.7 -.2 1.7 -.6 1.8 -.9 1.5 -1.1 1.2 -1.4 1 -1.5 .7 -1.8 .3z M91.9 574.1l-1.3 .2 -1.5-.1 -1.5-.4 -1.2-.6 -1.2-.8 -1-1 -.7-1 -.5-1.3 -.4-1.5 0-1.5 .2-1.5 .5-1.2 .7-1.3 .9-1 1-.8 1.2-.6 1.5-.3 1.8 0 2 .3 1.7 .5 1.3 .7 1 .8 .8 1.2 .6 1.2 .3 1.5 0 1.8 -.3 1.5 -.7 1.5 -1 1.3 -1.2 1.1 -1.5 .9 -1.5 .4z M90.4 573.9l-1.3-.1 -1.2-.3 -1.3-.6 -1-.7 -1-1 -.7-1 -.5-1.1 -.3-1.2 -.1-1.3 .1-1.5 .4-1.2 .6-1.2 .8-.9 1-.8 1-.5 1.2-.3 1.8-.2 1.7 .2 1.8 .4 1.2 .5 1.1 .8 .9 .9 .7 1.3 .4 1.3 0 1.7 -.3 1.5 -.6 1.5 -.9 1.3 -1.1 1 -1.4 .8 -1.5 .5 -1.5 .2z M91.1 573.4l-1.2 0 -1-.1 -1.3-.4 -1-.5 -1-.7 -.7-.8 -.7-1 -.5-1.3 -.3-1.2 0-1.3 .2-1.2 .4-1 .6-1 .8-.8 1-.7 1-.4 1.5-.3 1.7 0 1.8 .3 1.5 .4 1 .6 1 .8 .7 1 .5 1.1 .2 1.2 -.1 1.5 -.4 1.5 -.7 1.3 -1 1.1 -1.2 1 -1.3 .6 -1.5 .3z M91.4 572.9l-1 .1 -1.3-.1 -2-.7 -1-.7 -.7-.8 -.7-.8 -.5-1 -.3-1 -.1-1.3 .1-1 .3-1 .5-1 .7-.8 .7-.6 1-.5 1.3-.3 1.5-.1 1.7 .1 1.5 .4 1.3 .5 1 .8 .6 .8 .5 1 .3 1.2 0 1.3 -.3 1.2 -.6 1.3 -.8 1 -1.1 1 -1.4 .7 -1.2 .3z M91.4 572.4l-2 0 -1-.2 -1-.5 -1.5-1.1 -.6-.7 -.5-1 -.4-1 -.1-1 .1-1 .2-.9 .4-.9 .6-.7 .8-.7 .7-.3 1.3-.4 1.2-.1 1.5 .1 1.5 .3 1 .4 1 .6 .8 .7 .5 .9 .3 1 .1 1.2 -.3 1.3 -.6 1.2 -.7 1 -.9 .8 -1.2 .6 -1.2 .4z M90.9 571.9l-1.8-.1 -1.7-.7 -1.4-1.2 -.8-1.5 -.3-1.8 .1-1 .3-.7 1-1.3 1.3-.7 1-.3 1.3-.1 1.2 .1 1.3 .3 1 .4 .9 .6 .7 .7 .4 .8 .3 1 -.1 1.1 -.3 1.1 -.5 1 -.7 .8 -1 .7 -1 .5 -1.2 .3z M91.4 571.2l-1.5 .1 -1.5-.4 -1.3-.8 -1-1.1 -.5-1.4 0-1.5 .5-1.3 1-.9 1-.5 1-.2 2.3 .2 1 .2 1 .5 .6 .5 .6 .8 .3 .7 .1 1 -.2 .8 -.4 1 -.5 .8 -.8 .7 -.9 .5 -.8 .3z M91.4 570.4l-1.3 .1 -1.2-.2 -1.3-.7 -.7-.8 -.5-1.2 0-1.2 .4-1 .8-.8 .8-.4 .7-.1 1.8 0 1.6 .5 .6 .4 .5 .6 .5 1.3 -.1 .7 -.2 .8 -1 1.2 -1.4 .8z M91.1 569.4l-.7 .2 -1-.2 -.8-.3 -.7-.7 -.4-.8 -.1-.7 .3-.8 .4-.5 1-.5 1.3 0 1.2 .3 .9 .7 .4 1 -.3 1 -.5 .8 -1 .5z" fill="none" stroke="#1e2826" stroke-width="0.5"/>
<ellipse cx="89.2" cy="569.3" rx="13" ry="8.6" fill="url(#gCore2)"/>
<g fill="#222" opacity="0.5"><path d="M82 534 C86 532 92 532 96 535 C97 542 95 550 92 555 L86 555 C83 550 81 542 82 534Z"/></g>
<g fill="#fff"><ellipse cx="88.6" cy="568.8" rx="2.6" ry="1.8"/><path d="M88 540 L90 540 L90.5 556 L87.5 556Z" opacity="0.8"/></g>
<ellipse cx="88.40" cy="550.50" rx="20.40" ry="31.50" fill="none" stroke="#c27390" stroke-width="1.0"/>
<ellipse cx="143.75" cy="557.00" rx="35.00" ry="15.00" fill="none" stroke="#84d894" stroke-width="1.0"/>
<ellipse cx="139.40" cy="581.40" rx="25.60" ry="6.90" fill="none" stroke="#cc7fb8" stroke-width="1.0"/>
<ellipse cx="105.25" cy="591.40" rx="15.25" ry="15.60" fill="none" stroke="#7d8fc2" stroke-width="1.0"/>
<text x="53.00" y="512.50" font-family="'Liberation Sans', sans-serif" font-size="7.7" font-weight="bold" fill="#d22a6a" text-anchor="start" textLength="62.5" lengthAdjust="spacingAndGlyphs" >80% Erythrocytes</text>
<text x="134.50" y="532.00" font-family="'Liberation Sans', sans-serif" font-size="7.7" font-weight="bold" fill="#3cc23c" text-anchor="start" textLength="43" lengthAdjust="spacingAndGlyphs" >2% Myeloid</text>
<text x="127.50" y="599.00" font-family="'Liberation Sans', sans-serif" font-size="7.7" font-weight="bold" fill="#c8308c" text-anchor="start" textLength="50.5" lengthAdjust="spacingAndGlyphs" >1% Precursors</text>
<text x="97.50" y="617.00" font-family="'Liberation Sans', sans-serif" font-size="7.7" font-weight="bold" fill="#3a6cc4" text-anchor="start" textLength="65" lengthAdjust="spacingAndGlyphs" >10% Lymphocytes</text>
<text x="55.00" y="624.50" font-family="'Liberation Sans', sans-serif" font-size="12" font-weight="bold" fill="#111" text-anchor="start" textLength="36.2" lengthAdjust="spacingAndGlyphs" stroke="#000" stroke-width="0.35">Spleen</text>
<path d="M215.50 502.50 H346.50 V632.80" fill="none" stroke="#7c7c7c" stroke-width="1"/>
<path d="M213.70 622.99H215.50 M213.70 617.26H215.50 M213.70 613.19H215.50 M213.70 610.03H215.50 M213.70 607.45H215.50 M213.70 605.27H215.50 M213.70 603.38H215.50 M213.70 601.72H215.50 M213.70 590.42H215.50 M213.70 584.68H215.50 M213.70 580.61H215.50 M213.70 577.46H215.50 M213.70 574.88H215.50 M213.70 572.70H215.50 M213.70 570.81H215.50 M213.70 569.14H215.50 M213.70 557.84H215.50 M213.70 552.11H215.50 M213.70 548.04H215.50 M213.70 544.88H215.50 M213.70 542.30H215.50 M213.70 540.12H215.50 M213.70 538.23H215.50 M213.70 536.57H215.50 M213.70 525.27H215.50 M213.70 519.53H215.50 M213.70 515.46H215.50 M213.70 512.31H215.50 M213.70 509.73H215.50 M213.70 507.55H215.50 M213.70 505.66H215.50 M213.70 503.99H215.50 M212.30 632.80H215.50 M212.30 600.22H215.50 M212.30 567.65H215.50 M212.30 535.08H215.50 M212.30 502.50H215.50 M215.50 632.80V635.80 M221.80 632.80V634.40 M228.10 632.80V634.40 M234.40 632.80V634.40 M240.70 632.80V635.80 M247.00 632.80V634.40 M253.30 632.80V634.40 M259.60 632.80V634.40 M265.90 632.80V635.80 M272.20 632.80V634.40 M278.50 632.80V634.40 M284.80 632.80V634.40 M291.10 632.80V635.80 M297.40 632.80V634.40 M303.70 632.80V634.40 M310.00 632.80V634.40 M316.30 632.80V635.80 M322.60 632.80V634.40 M328.90 632.80V634.40 M335.20 632.80V634.40 M341.50 632.80V635.80" stroke="#3f4846" stroke-width="0.9" fill="none"/>
<path d="M215.50 501.50 V632.80 H346.50" fill="none" stroke="#3f4846" stroke-width="1.3"/>
<text x="205.60" y="637.40" font-family="'Liberation Sans', sans-serif" font-size="8.6" font-weight="bold" fill="#111" text-anchor="end" stroke="#111" stroke-width="0.2">10</text>
<text x="206.10" y="632.00" font-family="'Liberation Sans', sans-serif" font-size="6.2" font-weight="bold" fill="#111" text-anchor="start" stroke="#111" stroke-width="0.2">0</text>
<text x="205.60" y="604.82" font-family="'Liberation Sans', sans-serif" font-size="8.6" font-weight="bold" fill="#111" text-anchor="end" stroke="#111" stroke-width="0.2">10</text>
<text x="206.10" y="599.42" font-family="'Liberation Sans', sans-serif" font-size="6.2" font-weight="bold" fill="#111" text-anchor="start" stroke="#111" stroke-width="0.2">1</text>
<text x="205.60" y="572.25" font-family="'Liberation Sans', sans-serif" font-size="8.6" font-weight="bold" fill="#111" text-anchor="end" stroke="#111" stroke-width="0.2">10</text>
<text x="206.10" y="566.85" font-family="'Liberation Sans', sans-serif" font-size="6.2" font-weight="bold" fill="#111" text-anchor="start" stroke="#111" stroke-width="0.2">2</text>
<text x="205.60" y="539.68" font-family="'Liberation Sans', sans-serif" font-size="8.6" font-weight="bold" fill="#111" text-anchor="end" stroke="#111" stroke-width="0.2">10</text>
<text x="206.10" y="534.28" font-family="'Liberation Sans', sans-serif" font-size="6.2" font-weight="bold" fill="#111" text-anchor="start" stroke="#111" stroke-width="0.2">3</text>
<text x="205.60" y="507.10" font-family="'Liberation Sans', sans-serif" font-size="8.6" font-weight="bold" fill="#111" text-anchor="end" stroke="#111" stroke-width="0.2">10</text>
<text x="206.10" y="501.70" font-family="'Liberation Sans', sans-serif" font-size="6.2" font-weight="bold" fill="#111" text-anchor="start" stroke="#111" stroke-width="0.2">4</text>
<text x="215.50" y="644.20" font-family="'Liberation Sans', sans-serif" font-size="8.6" font-weight="bold" fill="#111" text-anchor="middle" stroke="#111" stroke-width="0.2">0</text>
<text x="240.70" y="644.20" font-family="'Liberation Sans', sans-serif" font-size="8.6" font-weight="bold" fill="#111" text-anchor="middle" stroke="#111" stroke-width="0.2">200</text>
<text x="265.90" y="644.20" font-family="'Liberation Sans', sans-serif" font-size="8.6" font-weight="bold" fill="#111" text-anchor="middle" stroke="#111" stroke-width="0.2">400</text>
<text x="291.10" y="644.20" font-family="'Liberation Sans', sans-serif" font-size="8.6" font-weight="bold" fill="#111" text-anchor="middle" stroke="#111" stroke-width="0.2">600</text>
<text x="316.30" y="644.20" font-family="'Liberation Sans', sans-serif" font-size="8.6" font-weight="bold" fill="#111" text-anchor="middle" stroke="#111" stroke-width="0.2">800</text>
<text x="341.50" y="644.20" font-family="'Liberation Sans', sans-serif" font-size="8.6" font-weight="bold" fill="#111" text-anchor="middle" stroke="#111" stroke-width="0.2">1000</text>
<text x="281.50" y="655.80" font-family="'Liberation Sans', sans-serif" font-size="8.4" font-weight="bold" fill="#111" text-anchor="middle" stroke="#111" stroke-width="0.2">FSC</text>
<text transform="translate(194.20,567.65) rotate(-90)" font-family="'Liberation Sans', sans-serif" font-size="8.4" font-weight="bold" fill="#111" text-anchor="middle" stroke="#111" stroke-width="0.2">SSC</text>
<path d="M267.8 583.4h0.6v0.6h-0.6zM268.3 594.8h0.6v0.6h-0.6zM267.8 584.5h0.6v0.6h-0.6zM284.6 578.1h0.6v0.6h-0.6zM258.8 589.3h0.6v0.6h-0.6zM261.4 577.5h0.6v0.6h-0.6zM268.0 591.1h0.6v0.6h-0.6zM259.8 593.9h0.6v0.6h-0.6zM269.9 592.7h0.6v0.6h-0.6zM254.1 587.5h0.6v0.6h-0.6zM278.5 596.3h0.6v0.6h-0.6zM276.3 587.5h0.6v0.6h-0.6zM267.4 584.8h0.6v0.6h-0.6zM274.6 584.5h0.6v0.6h-0.6zM267.0 578.5h0.6v0.6h-0.6zM254.3 595.3h0.6v0.6h-0.6zM266.5 588.4h0.6v0.6h-0.6zM248.9 587.4h0.6v0.6h-0.6zM282.1 580.9h0.6v0.6h-0.6zM247.5 586.8h0.6v0.6h-0.6zM261.9 586.6h0.6v0.6h-0.6zM256.2 581.5h0.6v0.6h-0.6zM256.4 590.3h0.6v0.6h-0.6zM265.6 591.1h0.6v0.6h-0.6zM257.6 590.1h0.6v0.6h-0.6zM262.5 587.9h0.6v0.6h-0.6zM273.3 587.6h0.6v0.6h-0.6zM263.3 580.2h0.6v0.6h-0.6zM266.5 590.9h0.6v0.6h-0.6zM261.1 587.2h0.6v0.6h-0.6zM252.2 581.6h0.6v0.6h-0.6zM269.2 593.2h0.6v0.6h-0.6zM263.6 580.1h0.6v0.6h-0.6zM263.0 580.6h0.6v0.6h-0.6zM263.8 596.0h0.6v0.6h-0.6zM268.3 586.8h0.6v0.6h-0.6zM274.1 585.8h0.6v0.6h-0.6zM268.6 588.4h0.6v0.6h-0.6zM269.5 581.0h0.6v0.6h-0.6zM271.6 591.4h0.6v0.6h-0.6zM248.1 575.5h0.6v0.6h-0.6zM259.0 594.1h0.6v0.6h-0.6zM266.2 590.5h0.6v0.6h-0.6zM270.4 591.4h0.6v0.6h-0.6zM261.0 584.9h0.6v0.6h-0.6zM269.0 590.2h0.6v0.6h-0.6zM270.5 589.0h0.6v0.6h-0.6zM262.2 592.4h0.6v0.6h-0.6zM269.7 592.2h0.6v0.6h-0.6zM246.0 592.0h0.6v0.6h-0.6zM246.8 588.4h0.6v0.6h-0.6zM260.8 588.0h0.6v0.6h-0.6zM262.3 586.1h0.6v0.6h-0.6zM267.5 589.0h0.6v0.6h-0.6zM259.7 576.3h0.6v0.6h-0.6zM259.9 589.9h0.6v0.6h-0.6zM259.4 589.4h0.6v0.6h-0.6zM263.1 583.3h0.6v0.6h-0.6zM275.2 594.9h0.6v0.6h-0.6zM265.2 587.3h0.6v0.6h-0.6zM273.6 581.6h0.6v0.6h-0.6zM259.1 592.5h0.6v0.6h-0.6zM273.1 585.3h0.6v0.6h-0.6zM259.9 589.1h0.6v0.6h-0.6zM254.9 585.3h0.6v0.6h-0.6zM264.2 576.6h0.6v0.6h-0.6zM270.7 590.9h0.6v0.6h-0.6zM274.4 581.1h0.6v0.6h-0.6zM255.8 583.9h0.6v0.6h-0.6zM255.7 596.6h0.6v0.6h-0.6zM258.3 586.1h0.6v0.6h-0.6zM267.6 589.5h0.6v0.6h-0.6zM277.5 582.6h0.6v0.6h-0.6zM273.0 588.2h0.6v0.6h-0.6zM256.7 588.2h0.6v0.6h-0.6zM254.9 594.7h0.6v0.6h-0.6zM260.2 592.0h0.6v0.6h-0.6zM276.3 584.7h0.6v0.6h-0.6zM258.9 588.1h0.6v0.6h-0.6zM257.7 591.5h0.6v0.6h-0.6zM267.4 584.1h0.6v0.6h-0.6zM260.6 590.7h0.6v0.6h-0.6zM254.5 595.0h0.6v0.6h-0.6zM259.8 586.6h0.6v0.6h-0.6zM258.7 594.8h0.6v0.6h-0.6zM272.5 593.3h0.6v0.6h-0.6zM271.2 587.9h0.6v0.6h-0.6zM279.5 590.5h0.6v0.6h-0.6zM269.5 590.1h0.6v0.6h-0.6zM271.9 588.7h0.6v0.6h-0.6zM264.7 580.4h0.6v0.6h-0.6zM282.4 581.7h0.6v0.6h-0.6zM248.8 584.3h0.6v0.6h-0.6zM281.4 593.0h0.6v0.6h-0.6zM261.2 588.7h0.6v0.6h-0.6zM265.8 578.6h0.6v0.6h-0.6zM263.3 588.8h0.6v0.6h-0.6zM275.3 582.1h0.6v0.6h-0.6zM248.0 580.4h0.6v0.6h-0.6zM268.6 587.9h0.6v0.6h-0.6zM267.2 588.2h0.6v0.6h-0.6zM263.1 581.4h0.6v0.6h-0.6zM269.6 589.2h0.6v0.6h-0.6zM270.6 593.1h0.6v0.6h-0.6zM256.1 577.0h0.6v0.6h-0.6zM251.8 597.1h0.6v0.6h-0.6zM258.7 589.3h0.6v0.6h-0.6zM265.9 590.8h0.6v0.6h-0.6zM291.7 585.2h0.6v0.6h-0.6zM264.6 584.8h0.6v0.6h-0.6zM268.0 589.8h0.6v0.6h-0.6zM258.2 593.4h0.6v0.6h-0.6zM275.2 589.5h0.6v0.6h-0.6zM265.1 586.4h0.6v0.6h-0.6zM252.9 590.5h0.6v0.6h-0.6zM258.2 585.2h0.6v0.6h-0.6zM274.0 583.4h0.6v0.6h-0.6zM261.8 591.4h0.6v0.6h-0.6zM280.9 584.4h0.6v0.6h-0.6zM274.8 584.6h0.6v0.6h-0.6zM269.1 589.7h0.6v0.6h-0.6zM256.9 592.1h0.6v0.6h-0.6zM280.4 587.7h0.6v0.6h-0.6zM268.2 582.2h0.6v0.6h-0.6zM280.3 587.8h0.6v0.6h-0.6zM255.8 590.9h0.6v0.6h-0.6zM254.3 584.4h0.6v0.6h-0.6zM248.9 593.7h0.6v0.6h-0.6zM283.7 584.6h0.6v0.6h-0.6zM260.8 584.9h0.6v0.6h-0.6zM261.5 590.0h0.6v0.6h-0.6zM277.7 583.0h0.6v0.6h-0.6zM269.5 579.4h0.6v0.6h-0.6zM278.2 587.1h0.6v0.6h-0.6zM260.4 594.4h0.6v0.6h-0.6zM265.2 593.7h0.6v0.6h-0.6zM274.6 595.0h0.6v0.6h-0.6zM259.6 587.8h0.6v0.6h-0.6zM268.9 586.6h0.6v0.6h-0.6zM278.2 584.3h0.6v0.6h-0.6zM274.0 593.6h0.6v0.6h-0.6zM250.4 583.1h0.6v0.6h-0.6zM258.8 585.0h0.6v0.6h-0.6zM269.1 586.7h0.6v0.6h-0.6zM266.6 585.4h0.6v0.6h-0.6zM265.3 589.7h0.6v0.6h-0.6zM272.0 584.0h0.6v0.6h-0.6zM265.1 584.1h0.6v0.6h-0.6zM264.6 581.0h0.6v0.6h-0.6zM273.6 590.5h0.6v0.6h-0.6zM265.0 584.4h0.6v0.6h-0.6zM262.3 584.5h0.6v0.6h-0.6zM253.7 594.8h0.6v0.6h-0.6zM292.3 582.0h0.6v0.6h-0.6zM256.7 590.1h0.6v0.6h-0.6zM270.8 580.4h0.6v0.6h-0.6zM250.6 589.9h0.6v0.6h-0.6zM250.1 593.9h0.6v0.6h-0.6zM262.0 587.9h0.6v0.6h-0.6zM266.0 585.0h0.6v0.6h-0.6zM264.9 586.2h0.6v0.6h-0.6zM276.0 587.1h0.6v0.6h-0.6zM265.7 585.1h0.6v0.6h-0.6zM260.9 584.2h0.6v0.6h-0.6zM266.1 595.8h0.6v0.6h-0.6zM274.9 588.6h0.6v0.6h-0.6zM279.4 592.1h0.6v0.6h-0.6zM267.7 586.8h0.6v0.6h-0.6zM257.2 588.6h0.6v0.6h-0.6zM263.5 580.4h0.6v0.6h-0.6zM255.7 596.2h0.6v0.6h-0.6zM267.7 589.7h0.6v0.6h-0.6zM267.6 585.4h0.6v0.6h-0.6zM269.7 592.4h0.6v0.6h-0.6zM263.5 589.8h0.6v0.6h-0.6zM274.2 585.3h0.6v0.6h-0.6zM267.4 584.2h0.6v0.6h-0.6zM270.8 585.8h0.6v0.6h-0.6zM275.2 584.1h0.6v0.6h-0.6zM279.5 586.1h0.6v0.6h-0.6zM259.3 583.4h0.6v0.6h-0.6zM271.3 583.6h0.6v0.6h-0.6zM280.4 593.3h0.6v0.6h-0.6zM270.1 581.1h0.6v0.6h-0.6zM265.8 584.2h0.6v0.6h-0.6zM251.5 589.4h0.6v0.6h-0.6zM283.6 585.1h0.6v0.6h-0.6zM272.5 593.3h0.6v0.6h-0.6zM258.3 586.0h0.6v0.6h-0.6zM268.1 589.6h0.6v0.6h-0.6zM256.8 588.5h0.6v0.6h-0.6zM265.1 591.8h0.6v0.6h-0.6zM253.2 585.0h0.6v0.6h-0.6zM262.0 586.1h0.6v0.6h-0.6zM271.8 584.7h0.6v0.6h-0.6zM287.9 584.3h0.6v0.6h-0.6zM272.7 592.1h0.6v0.6h-0.6zM273.7 586.6h0.6v0.6h-0.6zM259.4 586.4h0.6v0.6h-0.6zM271.3 588.0h0.6v0.6h-0.6z" fill="#445" opacity="0.6"/>
<ellipse cx="266" cy="588.5" rx="9" ry="4" fill="#111" opacity="0.55" filter="url(#bl1)"/>
<path d="M270.2 589.6h0.75v0.75h-0.75zM262.1 585.4h0.75v0.75h-0.75zM274.9 586.6h0.75v0.75h-0.75zM258.3 593.2h0.75v0.75h-0.75zM262.4 585.4h0.75v0.75h-0.75zM272.3 584.8h0.75v0.75h-0.75zM262.2 590.9h0.75v0.75h-0.75zM262.5 595.0h0.75v0.75h-0.75zM267.5 595.5h0.75v0.75h-0.75zM267.7 588.2h0.75v0.75h-0.75zM263.5 587.4h0.75v0.75h-0.75zM264.2 587.9h0.75v0.75h-0.75zM271.2 584.4h0.75v0.75h-0.75zM262.0 582.1h0.75v0.75h-0.75zM275.3 587.8h0.75v0.75h-0.75zM266.9 587.8h0.75v0.75h-0.75zM272.5 588.9h0.75v0.75h-0.75zM271.7 587.5h0.75v0.75h-0.75zM266.3 587.8h0.75v0.75h-0.75zM256.8 591.1h0.75v0.75h-0.75zM258.3 585.2h0.75v0.75h-0.75zM270.7 588.2h0.75v0.75h-0.75zM271.5 592.8h0.75v0.75h-0.75zM277.2 591.9h0.75v0.75h-0.75zM265.8 593.7h0.75v0.75h-0.75zM262.2 587.8h0.75v0.75h-0.75zM272.5 587.4h0.75v0.75h-0.75zM266.3 587.0h0.75v0.75h-0.75zM274.5 581.1h0.75v0.75h-0.75zM274.0 591.0h0.75v0.75h-0.75zM266.6 589.6h0.75v0.75h-0.75zM261.7 591.1h0.75v0.75h-0.75zM283.8 585.4h0.75v0.75h-0.75zM274.7 587.8h0.75v0.75h-0.75zM265.1 586.6h0.75v0.75h-0.75zM266.0 584.5h0.75v0.75h-0.75zM259.5 592.7h0.75v0.75h-0.75zM266.9 589.5h0.75v0.75h-0.75zM268.7 589.3h0.75v0.75h-0.75zM258.6 585.3h0.75v0.75h-0.75zM270.5 590.8h0.75v0.75h-0.75zM260.7 586.4h0.75v0.75h-0.75zM261.1 589.8h0.75v0.75h-0.75zM268.9 588.1h0.75v0.75h-0.75zM263.4 589.0h0.75v0.75h-0.75zM267.2 585.9h0.75v0.75h-0.75zM268.8 586.1h0.75v0.75h-0.75zM272.2 589.8h0.75v0.75h-0.75zM263.2 589.6h0.75v0.75h-0.75zM267.4 586.0h0.75v0.75h-0.75zM262.0 583.3h0.75v0.75h-0.75zM260.8 589.0h0.75v0.75h-0.75zM273.6 586.2h0.75v0.75h-0.75zM267.9 589.0h0.75v0.75h-0.75zM271.3 589.2h0.75v0.75h-0.75zM273.7 590.1h0.75v0.75h-0.75zM262.8 589.1h0.75v0.75h-0.75zM254.1 587.5h0.75v0.75h-0.75zM267.1 589.6h0.75v0.75h-0.75zM265.3 590.3h0.75v0.75h-0.75zM274.3 585.6h0.75v0.75h-0.75zM264.0 588.7h0.75v0.75h-0.75zM269.7 588.4h0.75v0.75h-0.75zM271.6 584.7h0.75v0.75h-0.75zM271.3 591.3h0.75v0.75h-0.75zM273.1 589.2h0.75v0.75h-0.75zM265.7 589.1h0.75v0.75h-0.75zM266.6 583.6h0.75v0.75h-0.75zM263.7 587.9h0.75v0.75h-0.75zM264.2 585.4h0.75v0.75h-0.75zM265.7 587.0h0.75v0.75h-0.75zM267.4 587.9h0.75v0.75h-0.75zM267.9 590.8h0.75v0.75h-0.75zM267.8 589.1h0.75v0.75h-0.75zM260.3 579.7h0.75v0.75h-0.75zM264.8 589.9h0.75v0.75h-0.75zM265.1 586.3h0.75v0.75h-0.75zM260.2 590.5h0.75v0.75h-0.75zM264.1 588.7h0.75v0.75h-0.75zM273.2 589.5h0.75v0.75h-0.75zM279.3 587.6h0.75v0.75h-0.75zM272.3 589.9h0.75v0.75h-0.75zM263.4 588.1h0.75v0.75h-0.75zM263.9 585.1h0.75v0.75h-0.75zM268.6 585.8h0.75v0.75h-0.75zM276.2 585.9h0.75v0.75h-0.75zM264.0 588.3h0.75v0.75h-0.75zM264.1 588.1h0.75v0.75h-0.75zM263.7 584.0h0.75v0.75h-0.75zM253.7 584.4h0.75v0.75h-0.75zM275.4 589.2h0.75v0.75h-0.75zM267.8 586.7h0.75v0.75h-0.75zM266.2 588.8h0.75v0.75h-0.75zM259.4 585.8h0.75v0.75h-0.75zM262.1 591.5h0.75v0.75h-0.75zM261.2 591.3h0.75v0.75h-0.75zM264.4 595.6h0.75v0.75h-0.75zM266.6 588.1h0.75v0.75h-0.75zM274.4 590.4h0.75v0.75h-0.75zM272.2 585.0h0.75v0.75h-0.75zM273.2 592.7h0.75v0.75h-0.75zM266.4 586.6h0.75v0.75h-0.75zM261.0 590.8h0.75v0.75h-0.75zM268.6 588.0h0.75v0.75h-0.75zM260.2 592.5h0.75v0.75h-0.75zM271.8 587.9h0.75v0.75h-0.75zM275.1 585.3h0.75v0.75h-0.75zM271.8 585.2h0.75v0.75h-0.75zM274.8 587.2h0.75v0.75h-0.75zM273.7 586.8h0.75v0.75h-0.75zM269.2 591.2h0.75v0.75h-0.75zM262.0 588.3h0.75v0.75h-0.75zM262.4 590.4h0.75v0.75h-0.75zM263.7 587.0h0.75v0.75h-0.75zM265.9 591.3h0.75v0.75h-0.75zM261.3 587.9h0.75v0.75h-0.75zM265.2 586.5h0.75v0.75h-0.75zM262.7 587.6h0.75v0.75h-0.75zM268.1 583.7h0.75v0.75h-0.75zM268.3 584.7h0.75v0.75h-0.75zM267.1 594.4h0.75v0.75h-0.75zM261.7 587.8h0.75v0.75h-0.75zM265.6 590.7h0.75v0.75h-0.75zM264.4 583.0h0.75v0.75h-0.75zM258.1 588.5h0.75v0.75h-0.75zM268.4 591.0h0.75v0.75h-0.75zM264.0 589.9h0.75v0.75h-0.75zM261.1 591.6h0.75v0.75h-0.75zM266.6 586.1h0.75v0.75h-0.75zM268.0 592.9h0.75v0.75h-0.75zM262.3 584.5h0.75v0.75h-0.75zM261.4 584.8h0.75v0.75h-0.75zM266.7 589.0h0.75v0.75h-0.75zM266.1 588.6h0.75v0.75h-0.75zM273.5 587.2h0.75v0.75h-0.75zM260.1 581.6h0.75v0.75h-0.75zM268.3 586.1h0.75v0.75h-0.75zM265.6 589.1h0.75v0.75h-0.75zM269.5 583.6h0.75v0.75h-0.75zM261.7 588.2h0.75v0.75h-0.75zM266.2 591.2h0.75v0.75h-0.75zM264.2 582.2h0.75v0.75h-0.75zM273.4 583.4h0.75v0.75h-0.75zM261.7 589.1h0.75v0.75h-0.75zM261.2 595.0h0.75v0.75h-0.75zM268.3 589.5h0.75v0.75h-0.75zM264.6 594.2h0.75v0.75h-0.75zM270.0 586.0h0.75v0.75h-0.75zM273.9 583.3h0.75v0.75h-0.75zM263.8 588.8h0.75v0.75h-0.75zM267.8 585.3h0.75v0.75h-0.75zM275.7 592.1h0.75v0.75h-0.75zM261.9 589.0h0.75v0.75h-0.75zM263.5 586.8h0.75v0.75h-0.75zM272.4 588.4h0.75v0.75h-0.75zM266.4 588.3h0.75v0.75h-0.75zM260.6 591.4h0.75v0.75h-0.75zM262.9 591.7h0.75v0.75h-0.75zM264.5 586.7h0.75v0.75h-0.75zM275.2 588.5h0.75v0.75h-0.75zM263.5 586.5h0.75v0.75h-0.75zM270.3 593.2h0.75v0.75h-0.75zM270.4 586.9h0.75v0.75h-0.75zM260.8 586.1h0.75v0.75h-0.75zM266.3 588.7h0.75v0.75h-0.75zM263.4 591.6h0.75v0.75h-0.75zM261.7 586.0h0.75v0.75h-0.75zM269.7 589.3h0.75v0.75h-0.75zM264.9 590.7h0.75v0.75h-0.75zM259.3 592.6h0.75v0.75h-0.75zM279.0 593.5h0.75v0.75h-0.75zM267.7 593.5h0.75v0.75h-0.75zM267.3 591.7h0.75v0.75h-0.75zM265.9 588.5h0.75v0.75h-0.75zM269.9 583.1h0.75v0.75h-0.75zM265.9 592.8h0.75v0.75h-0.75zM250.9 589.1h0.75v0.75h-0.75zM272.1 588.9h0.75v0.75h-0.75zM268.1 591.9h0.75v0.75h-0.75zM268.8 582.7h0.75v0.75h-0.75zM261.8 587.2h0.75v0.75h-0.75zM267.8 586.7h0.75v0.75h-0.75zM266.4 592.7h0.75v0.75h-0.75zM250.9 591.2h0.75v0.75h-0.75zM272.2 589.7h0.75v0.75h-0.75zM267.1 588.2h0.75v0.75h-0.75zM269.0 588.7h0.75v0.75h-0.75zM263.0 590.2h0.75v0.75h-0.75zM262.5 587.9h0.75v0.75h-0.75zM265.0 584.8h0.75v0.75h-0.75zM270.3 587.8h0.75v0.75h-0.75zM260.6 587.8h0.75v0.75h-0.75zM259.4 592.0h0.75v0.75h-0.75zM269.8 593.6h0.75v0.75h-0.75zM263.9 590.0h0.75v0.75h-0.75zM261.7 585.6h0.75v0.75h-0.75zM266.5 589.1h0.75v0.75h-0.75zM272.1 587.3h0.75v0.75h-0.75zM273.1 590.7h0.75v0.75h-0.75zM262.2 587.5h0.75v0.75h-0.75zM262.0 592.8h0.75v0.75h-0.75zM264.0 590.5h0.75v0.75h-0.75zM272.0 587.3h0.75v0.75h-0.75zM264.3 589.0h0.75v0.75h-0.75zM262.8 584.5h0.75v0.75h-0.75zM261.7 588.9h0.75v0.75h-0.75zM268.1 592.9h0.75v0.75h-0.75zM257.0 589.4h0.75v0.75h-0.75zM260.7 591.2h0.75v0.75h-0.75zM270.8 588.4h0.75v0.75h-0.75zM275.1 587.0h0.75v0.75h-0.75zM264.1 585.1h0.75v0.75h-0.75zM263.4 588.3h0.75v0.75h-0.75zM270.7 591.6h0.75v0.75h-0.75zM265.5 586.0h0.75v0.75h-0.75zM265.2 586.8h0.75v0.75h-0.75zM264.4 586.9h0.75v0.75h-0.75zM262.2 587.9h0.75v0.75h-0.75zM264.2 587.5h0.75v0.75h-0.75zM259.4 588.4h0.75v0.75h-0.75zM270.1 589.8h0.75v0.75h-0.75zM264.0 584.8h0.75v0.75h-0.75zM259.9 584.7h0.75v0.75h-0.75zM263.5 587.1h0.75v0.75h-0.75zM257.3 589.9h0.75v0.75h-0.75zM258.6 586.1h0.75v0.75h-0.75zM263.1 590.3h0.75v0.75h-0.75zM277.0 587.0h0.75v0.75h-0.75zM265.5 586.9h0.75v0.75h-0.75zM265.9 587.5h0.75v0.75h-0.75zM280.5 585.0h0.75v0.75h-0.75zM266.4 585.8h0.75v0.75h-0.75zM268.9 586.6h0.75v0.75h-0.75zM270.1 585.0h0.75v0.75h-0.75zM278.5 588.6h0.75v0.75h-0.75zM257.4 589.9h0.75v0.75h-0.75zM264.4 584.8h0.75v0.75h-0.75zM269.4 586.6h0.75v0.75h-0.75zM271.0 586.5h0.75v0.75h-0.75zM271.9 588.4h0.75v0.75h-0.75zM268.9 588.4h0.75v0.75h-0.75zM265.0 587.0h0.75v0.75h-0.75zM269.5 590.0h0.75v0.75h-0.75zM264.8 594.2h0.75v0.75h-0.75zM276.2 584.8h0.75v0.75h-0.75zM272.9 587.8h0.75v0.75h-0.75zM268.3 585.8h0.75v0.75h-0.75zM276.0 585.7h0.75v0.75h-0.75zM266.6 586.0h0.75v0.75h-0.75zM277.5 591.5h0.75v0.75h-0.75zM259.8 586.8h0.75v0.75h-0.75zM269.0 586.8h0.75v0.75h-0.75zM265.1 585.0h0.75v0.75h-0.75zM268.4 585.0h0.75v0.75h-0.75zM271.5 594.6h0.75v0.75h-0.75zM265.2 592.5h0.75v0.75h-0.75zM269.0 586.2h0.75v0.75h-0.75zM265.1 585.4h0.75v0.75h-0.75zM267.6 589.9h0.75v0.75h-0.75zM272.1 587.2h0.75v0.75h-0.75zM260.5 587.8h0.75v0.75h-0.75zM276.1 588.8h0.75v0.75h-0.75zM266.7 582.3h0.75v0.75h-0.75zM264.7 589.5h0.75v0.75h-0.75zM261.9 591.7h0.75v0.75h-0.75zM263.9 585.6h0.75v0.75h-0.75zM263.9 587.8h0.75v0.75h-0.75zM272.4 586.5h0.75v0.75h-0.75zM257.3 587.8h0.75v0.75h-0.75zM269.8 592.2h0.75v0.75h-0.75zM260.9 592.1h0.75v0.75h-0.75zM270.7 589.3h0.75v0.75h-0.75zM262.8 585.6h0.75v0.75h-0.75zM261.8 590.6h0.75v0.75h-0.75zM268.2 590.9h0.75v0.75h-0.75zM276.8 588.1h0.75v0.75h-0.75zM266.7 593.3h0.75v0.75h-0.75zM259.9 586.8h0.75v0.75h-0.75zM265.0 587.0h0.75v0.75h-0.75zM267.8 585.7h0.75v0.75h-0.75zM273.3 584.3h0.75v0.75h-0.75zM262.6 583.4h0.75v0.75h-0.75zM259.4 589.6h0.75v0.75h-0.75zM270.4 587.5h0.75v0.75h-0.75zM271.6 589.7h0.75v0.75h-0.75zM263.9 587.9h0.75v0.75h-0.75zM269.0 593.5h0.75v0.75h-0.75zM264.6 589.0h0.75v0.75h-0.75zM270.0 591.4h0.75v0.75h-0.75zM269.3 591.0h0.75v0.75h-0.75zM261.2 587.3h0.75v0.75h-0.75zM256.5 587.9h0.75v0.75h-0.75zM279.6 588.7h0.75v0.75h-0.75zM267.5 588.7h0.75v0.75h-0.75zM267.8 584.4h0.75v0.75h-0.75zM263.3 587.5h0.75v0.75h-0.75zM267.9 585.7h0.75v0.75h-0.75zM266.4 586.0h0.75v0.75h-0.75zM259.9 586.2h0.75v0.75h-0.75zM262.6 590.3h0.75v0.75h-0.75zM274.2 589.6h0.75v0.75h-0.75zM265.9 586.5h0.75v0.75h-0.75zM258.5 586.6h0.75v0.75h-0.75zM275.5 591.2h0.75v0.75h-0.75zM268.2 587.3h0.75v0.75h-0.75zM267.0 589.2h0.75v0.75h-0.75zM267.0 589.2h0.75v0.75h-0.75zM262.8 588.1h0.75v0.75h-0.75zM265.1 591.0h0.75v0.75h-0.75zM260.3 591.6h0.75v0.75h-0.75zM266.5 586.6h0.75v0.75h-0.75zM267.1 588.4h0.75v0.75h-0.75zM265.7 589.2h0.75v0.75h-0.75zM263.9 583.4h0.75v0.75h-0.75zM270.8 587.9h0.75v0.75h-0.75zM276.0 589.1h0.75v0.75h-0.75zM256.2 591.4h0.75v0.75h-0.75zM263.3 589.5h0.75v0.75h-0.75zM279.0 591.0h0.75v0.75h-0.75zM261.1 587.8h0.75v0.75h-0.75zM258.3 589.8h0.75v0.75h-0.75zM270.0 585.2h0.75v0.75h-0.75zM269.4 590.6h0.75v0.75h-0.75zM271.4 586.2h0.75v0.75h-0.75zM263.3 585.0h0.75v0.75h-0.75zM260.0 588.9h0.75v0.75h-0.75zM267.2 591.6h0.75v0.75h-0.75zM268.5 587.1h0.75v0.75h-0.75zM259.3 592.2h0.75v0.75h-0.75zM267.9 587.9h0.75v0.75h-0.75zM261.6 585.2h0.75v0.75h-0.75zM270.4 585.4h0.75v0.75h-0.75zM270.2 589.7h0.75v0.75h-0.75zM264.9 583.6h0.75v0.75h-0.75zM269.2 591.9h0.75v0.75h-0.75zM262.5 584.6h0.75v0.75h-0.75zM272.9 588.4h0.75v0.75h-0.75zM263.6 591.4h0.75v0.75h-0.75zM265.5 589.3h0.75v0.75h-0.75zM264.8 586.0h0.75v0.75h-0.75zM268.2 585.7h0.75v0.75h-0.75zM257.4 586.6h0.75v0.75h-0.75zM273.7 591.0h0.75v0.75h-0.75zM278.7 590.7h0.75v0.75h-0.75zM275.7 588.7h0.75v0.75h-0.75zM264.7 589.3h0.75v0.75h-0.75zM261.9 590.0h0.75v0.75h-0.75zM264.6 588.7h0.75v0.75h-0.75zM262.4 587.7h0.75v0.75h-0.75zM272.3 587.4h0.75v0.75h-0.75zM263.4 588.8h0.75v0.75h-0.75zM271.8 587.5h0.75v0.75h-0.75zM260.7 583.8h0.75v0.75h-0.75zM259.8 590.9h0.75v0.75h-0.75zM266.5 589.3h0.75v0.75h-0.75zM272.8 588.8h0.75v0.75h-0.75zM269.6 586.7h0.75v0.75h-0.75zM258.3 589.7h0.75v0.75h-0.75zM266.5 589.6h0.75v0.75h-0.75zM261.3 587.6h0.75v0.75h-0.75zM277.9 585.7h0.75v0.75h-0.75zM267.5 591.6h0.75v0.75h-0.75zM265.8 588.4h0.75v0.75h-0.75zM255.5 590.1h0.75v0.75h-0.75zM264.6 591.5h0.75v0.75h-0.75zM266.5 587.0h0.75v0.75h-0.75zM269.3 587.4h0.75v0.75h-0.75zM264.2 592.2h0.75v0.75h-0.75zM272.3 588.3h0.75v0.75h-0.75zM271.4 590.3h0.75v0.75h-0.75zM270.1 588.2h0.75v0.75h-0.75zM267.4 589.1h0.75v0.75h-0.75zM270.0 589.0h0.75v0.75h-0.75zM264.0 587.8h0.75v0.75h-0.75zM269.5 585.4h0.75v0.75h-0.75zM267.0 590.1h0.75v0.75h-0.75zM267.9 587.3h0.75v0.75h-0.75zM266.9 586.7h0.75v0.75h-0.75zM272.3 587.0h0.75v0.75h-0.75zM258.0 584.8h0.75v0.75h-0.75z" fill="#0a0a0a" opacity="0.9"/>
<path d="M259.0 534.2h0.6v0.6h-0.6zM312.4 568.2h0.6v0.6h-0.6zM314.9 548.1h0.6v0.6h-0.6zM294.7 542.1h0.6v0.6h-0.6zM289.3 548.3h0.6v0.6h-0.6zM302.7 549.4h0.6v0.6h-0.6zM274.7 571.8h0.6v0.6h-0.6zM257.7 582.1h0.6v0.6h-0.6zM294.6 544.9h0.6v0.6h-0.6zM260.3 563.1h0.6v0.6h-0.6zM295.3 576.8h0.6v0.6h-0.6zM283.6 556.8h0.6v0.6h-0.6zM330.3 547.8h0.6v0.6h-0.6zM338.3 588.0h0.6v0.6h-0.6zM339.1 591.3h0.6v0.6h-0.6zM273.1 582.9h0.6v0.6h-0.6zM305.1 543.3h0.6v0.6h-0.6zM339.8 572.1h0.6v0.6h-0.6zM322.9 566.3h0.6v0.6h-0.6zM257.2 586.1h0.6v0.6h-0.6zM265.8 546.8h0.6v0.6h-0.6zM305.5 542.6h0.6v0.6h-0.6zM291.6 576.4h0.6v0.6h-0.6zM258.6 572.9h0.6v0.6h-0.6zM259.4 560.9h0.6v0.6h-0.6zM308.5 574.7h0.6v0.6h-0.6zM253.9 542.4h0.6v0.6h-0.6zM336.4 555.4h0.6v0.6h-0.6zM288.2 554.3h0.6v0.6h-0.6zM312.7 578.1h0.6v0.6h-0.6z" fill="#999" opacity="0.6"/>
<ellipse cx="254.00" cy="551.30" rx="20.20" ry="32.50" fill="none" stroke="#c27390" stroke-width="1.0"/>
<ellipse cx="310.40" cy="559.10" rx="35.10" ry="15.10" fill="none" stroke="#84d894" stroke-width="1.0"/>
<ellipse cx="306.00" cy="582.60" rx="25.60" ry="7.40" fill="none" stroke="#cc7fb8" stroke-width="1.0"/>
<ellipse cx="270.00" cy="592.90" rx="16.60" ry="16.00" fill="none" stroke="#7d8fc2" stroke-width="1.0"/>
<text x="223.60" y="37.00" font-family="'Liberation Sans', sans-serif" font-size="6.8" font-weight="bold" fill="#d22a6a" text-anchor="start" textLength="13.5" lengthAdjust="spacingAndGlyphs" >2.46</text>
<text x="315.00" y="47.40" font-family="'Liberation Sans', sans-serif" font-size="6.8" font-weight="bold" fill="#3cc23c" text-anchor="start" textLength="12.7" lengthAdjust="spacingAndGlyphs" >13.1</text>
<text x="295.40" y="116.20" font-family="'Liberation Sans', sans-serif" font-size="6.8" font-weight="bold" fill="#c8308c" text-anchor="start" textLength="14.6" lengthAdjust="spacingAndGlyphs" >36.9</text>
<text x="272.30" y="133.00" font-family="'Liberation Sans', sans-serif" font-size="6.8" font-weight="bold" fill="#3a6cc4" text-anchor="start" textLength="13.2" lengthAdjust="spacingAndGlyphs" >23.8</text>
<text x="393.50" y="35.40" font-family="'Liberation Sans', sans-serif" font-size="6.8" font-weight="bold" fill="#d22a6a" text-anchor="start" textLength="13.8" lengthAdjust="spacingAndGlyphs" >5.64</text>
<text x="488.80" y="49.90" font-family="'Liberation Sans', sans-serif" font-size="6.8" font-weight="bold" fill="#3cc23c" text-anchor="start" textLength="14.2" lengthAdjust="spacingAndGlyphs" >6.15</text>
<text x="491.60" y="119.60" font-family="'Liberation Sans', sans-serif" font-size="6.8" font-weight="bold" fill="#c8308c" text-anchor="start" textLength="12.2" lengthAdjust="spacingAndGlyphs" >1.54</text>
<text x="437.30" y="135.30" font-family="'Liberation Sans', sans-serif" font-size="6.8" font-weight="bold" fill="#3a6cc4" text-anchor="start" textLength="14.5" lengthAdjust="spacingAndGlyphs" >60.5</text>
<text x="226.70" y="354.60" font-family="'Liberation Sans', sans-serif" font-size="6.8" font-weight="bold" fill="#d22a6a" text-anchor="start" textLength="13.9" lengthAdjust="spacingAndGlyphs" >9.96</text>
<text x="322.60" y="370.20" font-family="'Liberation Sans', sans-serif" font-size="6.8" font-weight="bold" fill="#3cc23c" text-anchor="start" textLength="13.9" lengthAdjust="spacingAndGlyphs" >1.53</text>
<text x="329.50" y="441.20" font-family="'Liberation Sans', sans-serif" font-size="6.8" font-weight="bold" fill="#c8308c" text-anchor="start" >0</text>
<text x="275.90" y="455.00" font-family="'Liberation Sans', sans-serif" font-size="6.8" font-weight="bold" fill="#3a6cc4" text-anchor="start" textLength="14.1" lengthAdjust="spacingAndGlyphs" >75.9</text>
<text x="226.70" y="518.10" font-family="'Liberation Sans', sans-serif" font-size="6.8" font-weight="bold" fill="#d22a6a" text-anchor="start" textLength="14.9" lengthAdjust="spacingAndGlyphs" >5.57</text>
<text x="322.60" y="534.30" font-family="'Liberation Sans', sans-serif" font-size="6.8" font-weight="bold" fill="#3cc23c" text-anchor="start" textLength="13.2" lengthAdjust="spacingAndGlyphs" >1.71</text>
<text x="325.40" y="603.60" font-family="'Liberation Sans', sans-serif" font-size="6.8" font-weight="bold" fill="#c8308c" text-anchor="start" textLength="11.1" lengthAdjust="spacingAndGlyphs" >0.5</text>
<text x="276.20" y="618.50" font-family="'Liberation Sans', sans-serif" font-size="6.8" font-weight="bold" fill="#3a6cc4" text-anchor="start" textLength="13.8" lengthAdjust="spacingAndGlyphs" >81.7</text>
<text x="324.80" y="132.20" font-family="'Liberation Serif', serif" font-size="10.8" font-weight="normal" fill="#111" text-anchor="start" textLength="16.0" lengthAdjust="spacingAndGlyphs" stroke="#111" stroke-width="0.3">low</text>
<text x="301.30" y="145.80" font-family="'Liberation Serif', serif" font-size="16" font-weight="normal" fill="#111" text-anchor="start" textLength="35.1" lengthAdjust="spacingAndGlyphs" stroke="#111" stroke-width="0.25">CD41</text>
<text x="491.20" y="131.20" font-family="'Liberation Serif', serif" font-size="10.8" font-weight="bold" fill="#111" text-anchor="start" textLength="19.7" lengthAdjust="spacingAndGlyphs" >high</text>
<text x="465.20" y="148.00" font-family="'Liberation Serif', serif" font-size="16" font-weight="normal" fill="#111" text-anchor="start" textLength="35.2" lengthAdjust="spacingAndGlyphs" stroke="#111" stroke-width="0.25">CD41</text>
<rect x="215.30" y="186.50" width="130.80" height="131.00" fill="#fff" stroke="#777" stroke-width="1.2"/>
<path d="M319.70 186.50 V213.00 H346.10" fill="none" stroke="#777" stroke-width="1.2"/>
<g transform="translate(331.70,199.90) rotate(-47)"><ellipse rx="7.6" ry="5.0" fill="#faeaf8"/><ellipse rx="6.2" ry="3.9" fill="#f0aaee"/><ellipse rx="5.0" ry="3.0" fill="#f6d0f4"/><ellipse rx="4.3" ry="2.5" fill="#a3208e"/></g>
<rect x="382.30" y="186.60" width="130.80" height="130.80" fill="#fff" stroke="#777" stroke-width="1.2"/>
<path d="M486.80 186.60 V212.80 H513.10" fill="none" stroke="#777" stroke-width="1.2"/>
<g transform="translate(498.70,200.40) rotate(-47)"><ellipse rx="7.6" ry="5.0" fill="#faeaf8"/><ellipse rx="6.2" ry="3.9" fill="#f0aaee"/><ellipse rx="5.0" ry="3.0" fill="#f6d0f4"/><ellipse rx="4.3" ry="2.5" fill="#a3208e"/></g>
<rect x="382.40" y="338.20" width="131.10" height="130.90" fill="#fff" stroke="#777" stroke-width="1.2"/>
<path d="M487.40 338.20 V364.70 H513.50" fill="none" stroke="#777" stroke-width="1.2"/>
<g transform="translate(499.20,350.90) rotate(-47)"><ellipse rx="7.6" ry="5.0" fill="#faeaf8"/><ellipse rx="6.2" ry="3.9" fill="#f0aaee"/><ellipse rx="5.0" ry="3.0" fill="#f6d0f4"/><ellipse rx="4.3" ry="2.5" fill="#a3208e"/></g>
<rect x="382.40" y="502.20" width="131.00" height="131.00" fill="#fff" stroke="#777" stroke-width="1.2"/>
<path d="M487.40 502.20 V528.70 H513.40" fill="none" stroke="#777" stroke-width="1.2"/>
<g transform="translate(498.70,515.80) rotate(-47)"><ellipse rx="7.6" ry="5.0" fill="#faeaf8"/><ellipse rx="6.2" ry="3.9" fill="#f0aaee"/><ellipse rx="5.0" ry="3.0" fill="#f6d0f4"/><ellipse rx="4.3" ry="2.5" fill="#a3208e"/></g>
<g transform="translate(236.30,209.80) rotate(0)"><ellipse rx="7.60" ry="7.60" fill="#dc9ad9" stroke="#ecc4ea" stroke-width="0.8"/><ellipse cx="0.3" cy="-0.3" rx="6.60" ry="6.60" fill="url(#gIV)"/></g>
<g transform="translate(266.50,218.00) rotate(0)"><ellipse rx="7.50" ry="7.10" fill="none" stroke="#e6b4e2" stroke-width="1.0"/><ellipse rx="7.00" ry="6.60" fill="url(#gIV)"/></g>
<g transform="translate(311.20,217.60) rotate(0)"><ellipse rx="8.70" ry="8.70" fill="#dc9ad9" stroke="#ecc4ea" stroke-width="0.8"/><ellipse cx="0.3" cy="-0.3" rx="7.10" ry="7.10" fill="url(#gIV)"/></g>
<g transform="translate(264.60,240.00) rotate(0)"><ellipse rx="7.40" ry="6.80" fill="none" stroke="#e6b4e2" stroke-width="1.0"/><ellipse rx="6.90" ry="6.30" fill="url(#gIV)"/></g>
<g transform="translate(289.40,238.80) rotate(0)"><ellipse rx="6.80" ry="6.80" fill="none" stroke="#e6b4e2" stroke-width="1.0"/><ellipse rx="6.30" ry="6.30" fill="url(#gIV)"/></g>
<g transform="translate(276.10,245.80) rotate(-20)"><ellipse rx="5.70" ry="7.40" fill="none" stroke="#e6b4e2" stroke-width="1.0"/><ellipse rx="5.20" ry="6.90" fill="url(#gIV)"/></g>
<g transform="translate(258.30,255.00) rotate(0)"><ellipse rx="8.50" ry="8.50" fill="#dc9ad9" stroke="#ecc4ea" stroke-width="0.8"/><ellipse cx="0.3" cy="-0.3" rx="7.30" ry="7.30" fill="url(#gIV)"/></g>
<g transform="translate(281.90,255.00) rotate(0)"><ellipse rx="5.70" ry="4.70" fill="none" stroke="#e6b4e2" stroke-width="1.0"/><ellipse rx="5.20" ry="4.20" fill="url(#gIV)"/></g>
<g transform="translate(273.30,262.00) rotate(10)"><ellipse rx="6.80" ry="5.10" fill="none" stroke="#e6b4e2" stroke-width="1.0"/><ellipse rx="6.30" ry="4.60" fill="url(#gIV)"/></g>
<g transform="translate(320.10,260.60) rotate(25)"><ellipse rx="9.10" ry="7.90" fill="#dc9ad9" stroke="#ecc4ea" stroke-width="0.8"/><ellipse cx="0.3" cy="-0.3" rx="7.90" ry="6.70" fill="url(#gIV)"/></g>
<g transform="translate(297.50,283.70) rotate(0)"><ellipse rx="6.50" ry="6.50" fill="none" stroke="#e6b4e2" stroke-width="1.0"/><ellipse rx="6.00" ry="6.00" fill="url(#gIV)"/></g>
<g transform="translate(238.30,290.40) rotate(0)"><ellipse rx="8.70" ry="8.70" fill="#dc9ad9" stroke="#ecc4ea" stroke-width="0.8"/><ellipse cx="0.3" cy="-0.3" rx="7.10" ry="7.10" fill="url(#gIV)"/></g>
<g transform="translate(274.60,301.20) rotate(0)"><ellipse rx="8.20" ry="8.20" fill="#dc9ad9" stroke="#ecc4ea" stroke-width="0.8"/><ellipse cx="0.3" cy="-0.3" rx="7.20" ry="7.20" fill="url(#gIV)"/></g>
<g transform="translate(321.00,295.80) rotate(0)"><ellipse rx="9.70" ry="9.70" fill="#dc9ad9" stroke="#ecc4ea" stroke-width="0.8"/><ellipse cx="0.3" cy="-0.3" rx="7.70" ry="7.70" fill="url(#gIV)"/></g>
<g transform="translate(414.70,224.90) rotate(0)"><ellipse rx="4.80" ry="4.80" fill="none" stroke="#f2d4ef" stroke-width="1.0"/><ellipse rx="4.30" ry="4.30" fill="#952389"/></g>
<g transform="translate(458.50,218.60) rotate(0)"><ellipse rx="5.40" ry="5.40" fill="none" stroke="#f2d4ef" stroke-width="1.0"/><ellipse rx="4.90" ry="4.90" fill="#a52a9b"/></g>
<g transform="translate(487.70,224.90) rotate(0)"><ellipse rx="4.30" ry="4.30" fill="none" stroke="#f2d4ef" stroke-width="1.0"/><ellipse rx="3.80" ry="3.80" fill="#5a3596"/></g>
<g transform="translate(465.80,244.20) rotate(0)"><ellipse rx="5.10" ry="5.10" fill="none" stroke="#f2d4ef" stroke-width="1.0"/><ellipse rx="4.60" ry="4.60" fill="#a0228f"/></g>
<g transform="translate(446.70,252.30) rotate(0)"><ellipse rx="4.80" ry="4.80" fill="none" stroke="#f2d4ef" stroke-width="1.0"/><ellipse rx="4.30" ry="4.30" fill="#86287f"/></g>
<g transform="translate(418.50,269.00) rotate(0)"><ellipse rx="5.40" ry="5.40" fill="none" stroke="#f2d4ef" stroke-width="1.0"/><ellipse rx="4.90" ry="4.90" fill="#b030a6"/></g>
<g transform="translate(478.70,265.60) rotate(0)"><ellipse rx="5.10" ry="5.10" fill="none" stroke="#f2d4ef" stroke-width="1.0"/><ellipse rx="4.60" ry="4.60" fill="#a82898"/></g>
<g transform="translate(467.20,291.20) rotate(0)"><ellipse rx="5.10" ry="5.10" fill="none" stroke="#f2d4ef" stroke-width="1.0"/><ellipse rx="4.60" ry="4.60" fill="#6a2276"/></g>
<g transform="translate(451.90,357.80) rotate(0)"><ellipse rx="4.80" ry="4.80" fill="none" stroke="#f2d4ef" stroke-width="1.0"/><ellipse rx="4.30" ry="4.30" fill="#a030a0"/></g>
<g transform="translate(415.30,373.90) rotate(0)"><ellipse rx="4.80" ry="4.80" fill="none" stroke="#f2d4ef" stroke-width="1.0"/><ellipse rx="4.30" ry="4.30" fill="#a02090"/></g>
<g transform="translate(462.90,386.60) rotate(0)"><ellipse rx="4.80" ry="4.80" fill="none" stroke="#f2d4ef" stroke-width="1.0"/><ellipse rx="4.30" ry="4.30" fill="#902080"/></g>
<g transform="translate(403.50,401.90) rotate(0)"><ellipse rx="4.30" ry="4.30" fill="none" stroke="#f2d4ef" stroke-width="1.0"/><ellipse rx="3.80" ry="3.80" fill="#802080"/></g>
<g transform="translate(447.90,403.90) rotate(0)"><ellipse rx="4.80" ry="4.80" fill="none" stroke="#f2d4ef" stroke-width="1.0"/><ellipse rx="4.30" ry="4.30" fill="#a828a8"/></g>
<g transform="translate(476.70,403.10) rotate(0)"><ellipse rx="4.30" ry="4.30" fill="none" stroke="#f2d4ef" stroke-width="1.0"/><ellipse rx="3.80" ry="3.80" fill="#7a2890"/></g>
<g transform="translate(422.80,423.00) rotate(0)"><ellipse rx="4.80" ry="4.80" fill="none" stroke="#f2d4ef" stroke-width="1.0"/><ellipse rx="4.30" ry="4.30" fill="#b030a8"/></g>
<g transform="translate(468.40,427.90) rotate(0)"><ellipse rx="4.80" ry="4.80" fill="none" stroke="#f2d4ef" stroke-width="1.0"/><ellipse rx="4.30" ry="4.30" fill="#b030a8"/></g>
<g transform="translate(445.30,439.70) rotate(0)"><ellipse rx="4.00" ry="4.00" fill="none" stroke="#f2d4ef" stroke-width="1.0"/><ellipse rx="3.50" ry="3.50" fill="#802080"/></g>
<g transform="translate(446.30,533.10) rotate(-25)"><ellipse rx="4.00" ry="5.90" fill="none" stroke="#f2d4ef" stroke-width="1.0"/><ellipse rx="3.50" ry="5.40" fill="#a0157f"/></g>
<g transform="translate(420.50,556.20) rotate(0)"><ellipse rx="4.80" ry="4.80" fill="none" stroke="#f2d4ef" stroke-width="1.0"/><ellipse rx="4.30" ry="4.30" fill="#a0157f"/></g>
<g transform="translate(462.20,558.90) rotate(0)"><ellipse rx="4.30" ry="4.30" fill="none" stroke="#f2d4ef" stroke-width="1.0"/><ellipse rx="3.80" ry="3.80" fill="#a0157f"/></g>
<g transform="translate(441.20,570.40) rotate(0)"><ellipse rx="4.90" ry="4.70" fill="none" stroke="#f2d4ef" stroke-width="1.0"/><ellipse rx="4.40" ry="4.20" fill="#a81a88"/></g>
<g transform="translate(427.80,585.80) rotate(0)"><ellipse rx="5.20" ry="5.20" fill="none" stroke="#f2d4ef" stroke-width="1.0"/><ellipse rx="4.70" ry="4.70" fill="#a81a88"/></g>
<g transform="translate(469.60,595.90) rotate(10)"><ellipse rx="3.90" ry="5.50" fill="none" stroke="#f2d4ef" stroke-width="1.0"/><ellipse rx="3.40" ry="5.00" fill="#a0157f"/></g>
</g>
</svg></body></html>
